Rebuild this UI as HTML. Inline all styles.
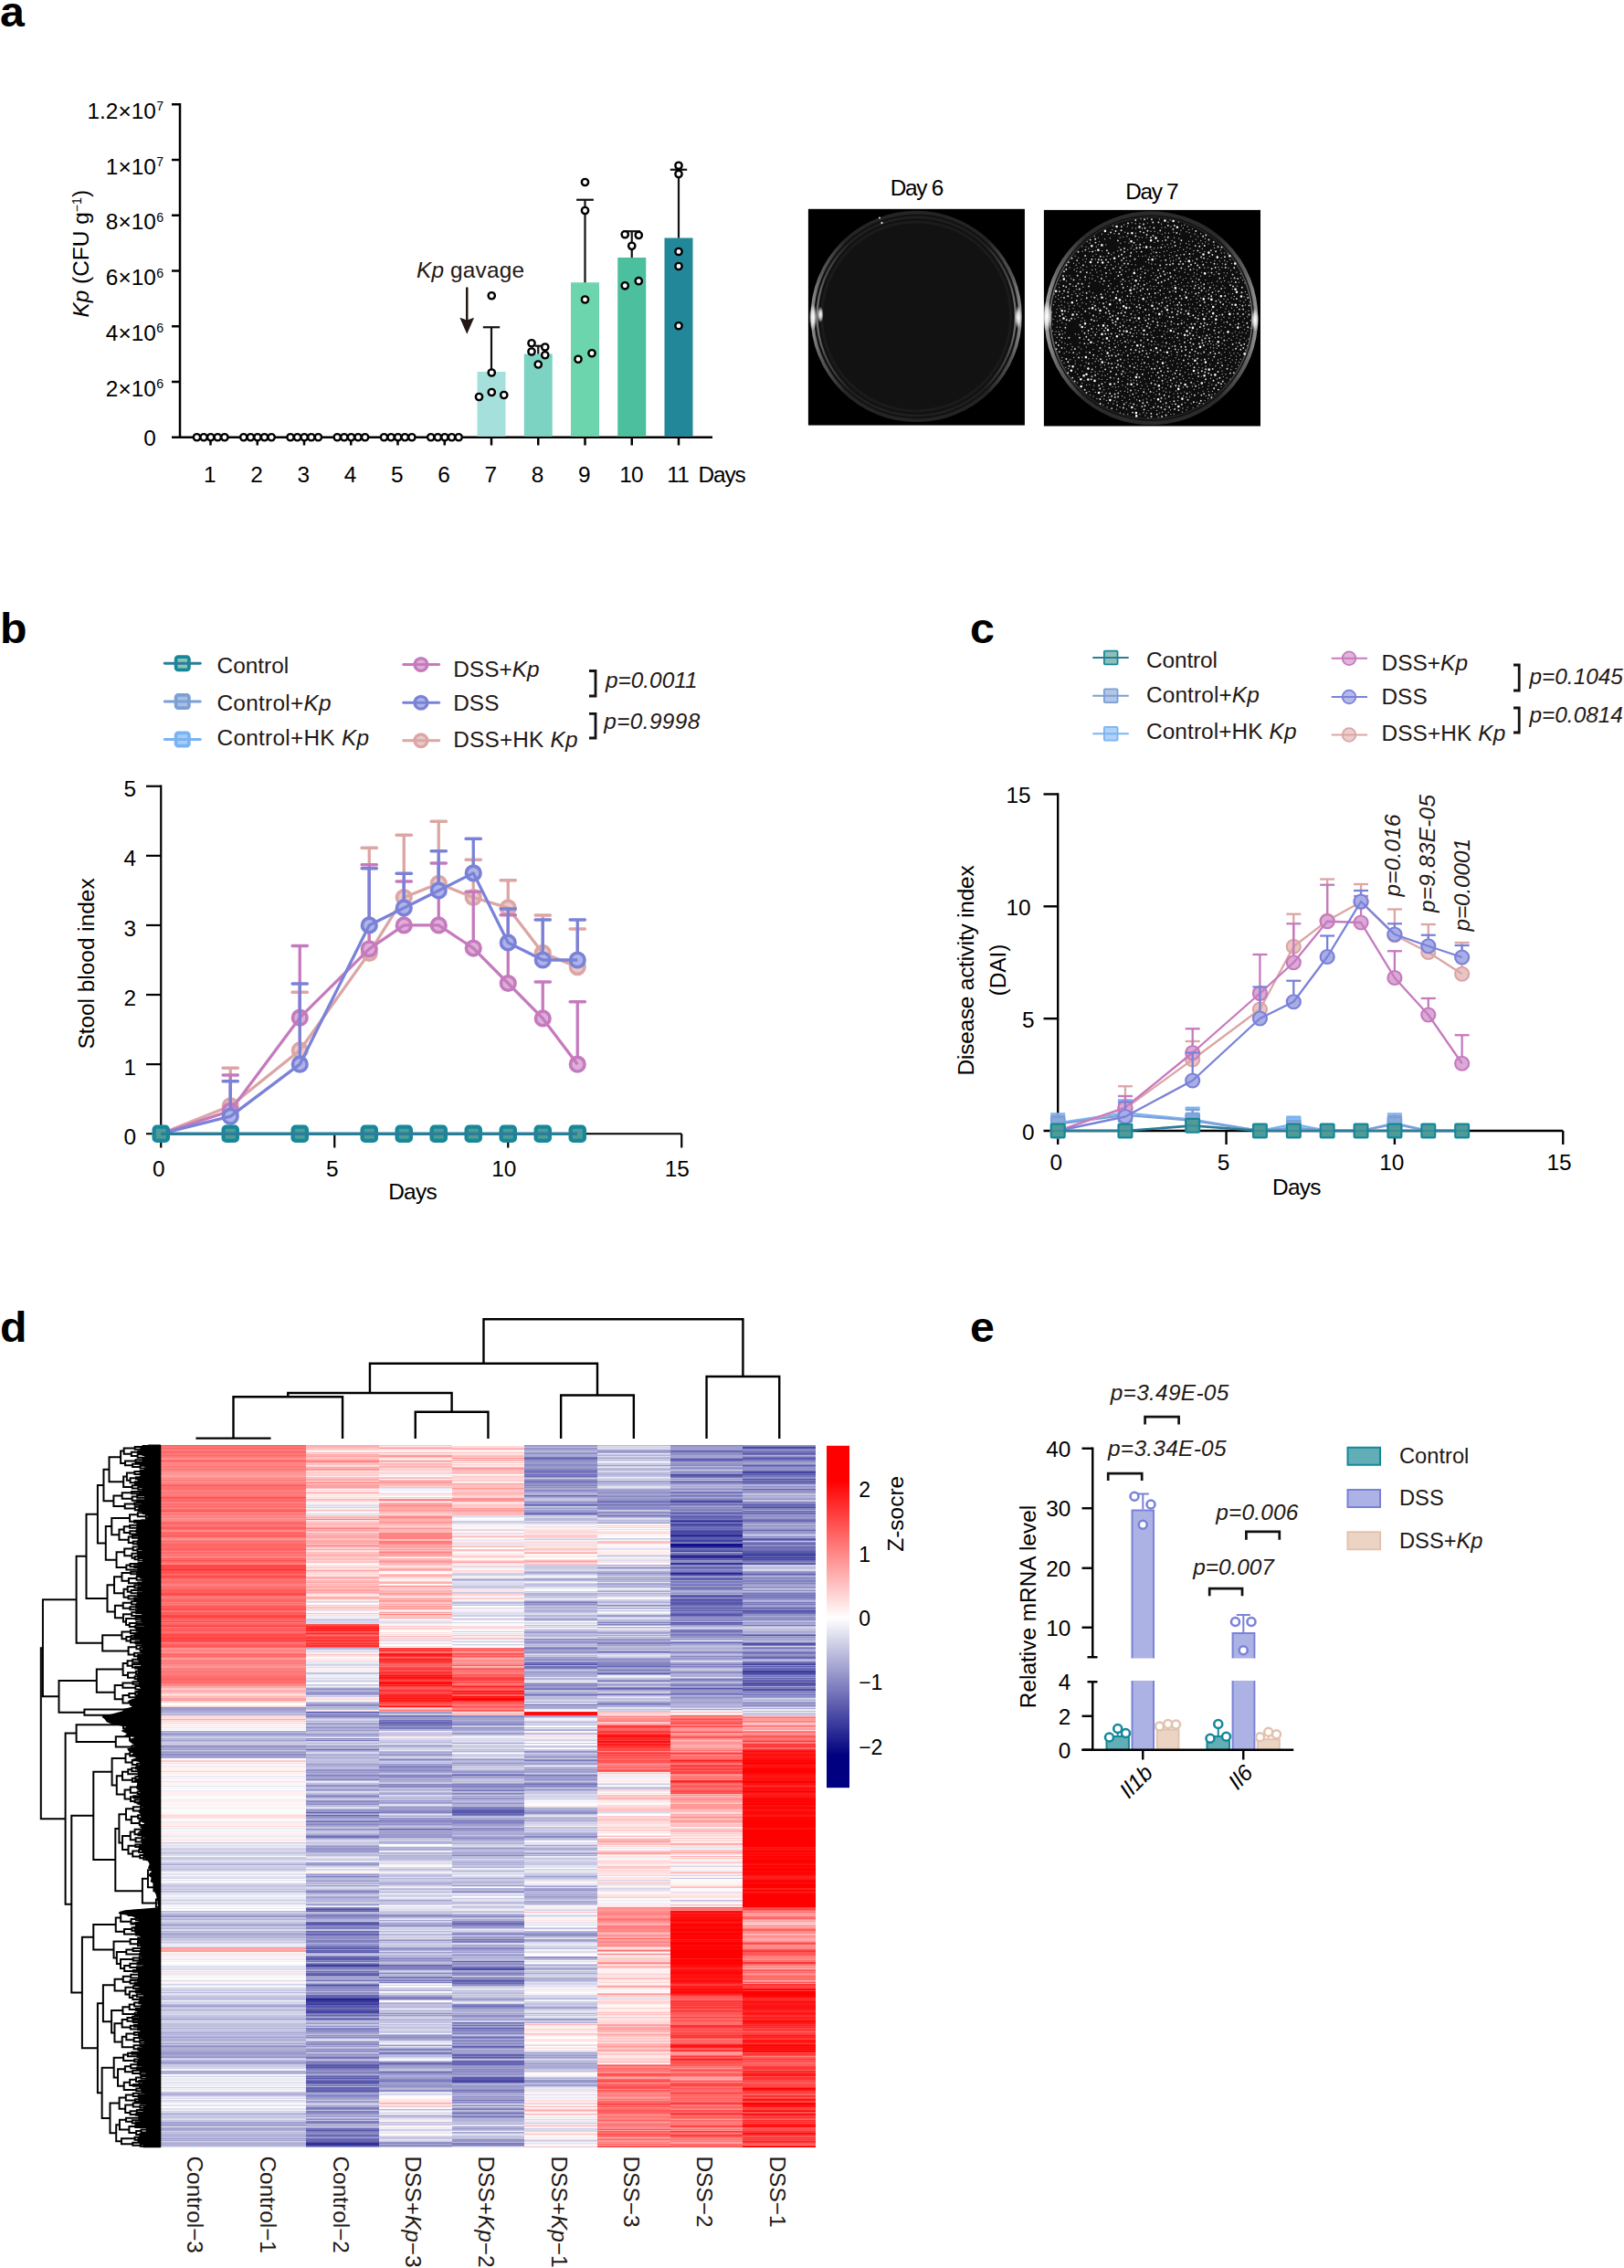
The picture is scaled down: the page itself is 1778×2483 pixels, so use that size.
<!DOCTYPE html>
<html lang="en"><head><meta charset="utf-8"><title>Figure</title><style>html,body{margin:0;padding:0;background:#fff}svg{display:block}</style></head><body>
<svg width="1778" height="2483" viewBox="0 0 1778 2483" font-family="'Liberation Sans', Arial, Helvetica, sans-serif" font-size="24.4" fill="#000">
<rect width="1778" height="2483" fill="#fff"/>
<g id="pa">
<text transform="translate(0 28.5) scale(1.05 1)" font-size="46" font-weight="bold">a</text>
<line x1="197" y1="113" x2="197" y2="480" stroke="#000" stroke-width="2.5"/>
<line x1="188" y1="478.75" x2="780" y2="478.75" stroke="#000" stroke-width="2.5"/>
<text x="170.8" y="488" text-anchor="end">0</text>
<line x1="188" y1="418" x2="197" y2="418" stroke="#000" stroke-width="2.5"/>
<text x="170.8" y="433.6" text-anchor="end">2×10</text>
<text x="171.3" y="425.2" font-size="14.2">6</text>
<line x1="188" y1="357.25" x2="197" y2="357.25" stroke="#000" stroke-width="2.5"/>
<text x="170.8" y="372.85" text-anchor="end">4×10</text>
<text x="171.3" y="364.45" font-size="14.2">6</text>
<line x1="188" y1="296.5" x2="197" y2="296.5" stroke="#000" stroke-width="2.5"/>
<text x="170.8" y="312.1" text-anchor="end">6×10</text>
<text x="171.3" y="303.7" font-size="14.2">6</text>
<line x1="188" y1="235.75" x2="197" y2="235.75" stroke="#000" stroke-width="2.5"/>
<text x="170.8" y="251.35" text-anchor="end">8×10</text>
<text x="171.3" y="242.95" font-size="14.2">6</text>
<line x1="188" y1="175" x2="197" y2="175" stroke="#000" stroke-width="2.5"/>
<text x="170.8" y="190.6" text-anchor="end">1×10</text>
<text x="171.3" y="182.2" font-size="14.2">7</text>
<line x1="188" y1="114.25" x2="197" y2="114.25" stroke="#000" stroke-width="2.5"/>
<text x="170.8" y="129.85" text-anchor="end">1.2×10</text>
<text x="171.3" y="121.45" font-size="14.2">7</text>
<text transform="translate(96.9 347.5) rotate(-90)"><tspan font-style="italic">Kp</tspan> (CFU g<tspan font-size="14.2" dy="-8.4">−1</tspan><tspan dy="8.4">)</tspan></text>
<line x1="230.5" y1="478.75" x2="230.5" y2="487.5" stroke="#000" stroke-width="2.5"/>
<text x="229.7" y="527.5" text-anchor="middle">1</text>
<line x1="281.75" y1="478.75" x2="281.75" y2="487.5" stroke="#000" stroke-width="2.5"/>
<text x="280.95" y="527.5" text-anchor="middle">2</text>
<line x1="333" y1="478.75" x2="333" y2="487.5" stroke="#000" stroke-width="2.5"/>
<text x="332.2" y="527.5" text-anchor="middle">3</text>
<line x1="384.25" y1="478.75" x2="384.25" y2="487.5" stroke="#000" stroke-width="2.5"/>
<text x="383.45" y="527.5" text-anchor="middle">4</text>
<line x1="435.5" y1="478.75" x2="435.5" y2="487.5" stroke="#000" stroke-width="2.5"/>
<text x="434.7" y="527.5" text-anchor="middle">5</text>
<line x1="486.75" y1="478.75" x2="486.75" y2="487.5" stroke="#000" stroke-width="2.5"/>
<text x="485.95" y="527.5" text-anchor="middle">6</text>
<line x1="538" y1="478.75" x2="538" y2="487.5" stroke="#000" stroke-width="2.5"/>
<text x="537.2" y="527.5" text-anchor="middle">7</text>
<line x1="589.25" y1="478.75" x2="589.25" y2="487.5" stroke="#000" stroke-width="2.5"/>
<text x="588.45" y="527.5" text-anchor="middle">8</text>
<line x1="640.5" y1="478.75" x2="640.5" y2="487.5" stroke="#000" stroke-width="2.5"/>
<text x="639.7" y="527.5" text-anchor="middle">9</text>
<line x1="691.75" y1="478.75" x2="691.75" y2="487.5" stroke="#000" stroke-width="2.5"/>
<text x="690.95" y="527.5" text-anchor="middle" letter-spacing="-0.8">10</text>
<line x1="743" y1="478.75" x2="743" y2="487.5" stroke="#000" stroke-width="2.5"/>
<text x="742.2" y="527.5" text-anchor="middle" letter-spacing="-0.8">11</text>
<text x="764.6" y="527.5" textLength="52" lengthAdjust="spacing">Days</text>
<rect x="522.5" y="407" width="31" height="70.8" fill="#a5e0dc"/>
<rect x="573.75" y="387.5" width="31" height="90.3" fill="#7dd3c2"/>
<rect x="625" y="309.25" width="31" height="168.55" fill="#6dd5ad"/>
<rect x="676.25" y="282" width="31" height="195.8" fill="#4cbf9f"/>
<rect x="727.5" y="260.5" width="31" height="217.3" fill="#218799"/>
<line x1="538" y1="358.25" x2="538" y2="407" stroke="#111" stroke-width="2.2"/>
<line x1="528.8" y1="358.25" x2="547.2" y2="358.25" stroke="#111" stroke-width="2.2"/>
<line x1="589.25" y1="378.75" x2="589.25" y2="387.5" stroke="#111" stroke-width="2.2"/>
<line x1="585.95" y1="378.75" x2="592.55" y2="378.75" stroke="#111" stroke-width="2.2"/>
<line x1="640.5" y1="218.75" x2="640.5" y2="309.25" stroke="#111" stroke-width="2.2"/>
<line x1="631.1" y1="218.75" x2="649.9" y2="218.75" stroke="#111" stroke-width="2.2"/>
<line x1="691.75" y1="253.2" x2="691.75" y2="282" stroke="#111" stroke-width="2.2"/>
<line x1="682.35" y1="253.2" x2="701.15" y2="253.2" stroke="#111" stroke-width="2.2"/>
<line x1="743" y1="185.75" x2="743" y2="260.5" stroke="#111" stroke-width="2.2"/>
<line x1="733.8" y1="185.75" x2="752.2" y2="185.75" stroke="#111" stroke-width="2.2"/>
<circle cx="215.5" cy="478.75" r="3.65" fill="#fff" stroke="#000" stroke-width="2.4"/>
<circle cx="223.1" cy="478.75" r="3.65" fill="#fff" stroke="#000" stroke-width="2.4"/>
<circle cx="230.7" cy="478.75" r="3.65" fill="#fff" stroke="#000" stroke-width="2.4"/>
<circle cx="238.3" cy="478.75" r="3.65" fill="#fff" stroke="#000" stroke-width="2.4"/>
<circle cx="245.9" cy="478.75" r="3.65" fill="#fff" stroke="#000" stroke-width="2.4"/>
<circle cx="266.75" cy="478.75" r="3.65" fill="#fff" stroke="#000" stroke-width="2.4"/>
<circle cx="274.35" cy="478.75" r="3.65" fill="#fff" stroke="#000" stroke-width="2.4"/>
<circle cx="281.95" cy="478.75" r="3.65" fill="#fff" stroke="#000" stroke-width="2.4"/>
<circle cx="289.55" cy="478.75" r="3.65" fill="#fff" stroke="#000" stroke-width="2.4"/>
<circle cx="297.15" cy="478.75" r="3.65" fill="#fff" stroke="#000" stroke-width="2.4"/>
<circle cx="318" cy="478.75" r="3.65" fill="#fff" stroke="#000" stroke-width="2.4"/>
<circle cx="325.6" cy="478.75" r="3.65" fill="#fff" stroke="#000" stroke-width="2.4"/>
<circle cx="333.2" cy="478.75" r="3.65" fill="#fff" stroke="#000" stroke-width="2.4"/>
<circle cx="340.8" cy="478.75" r="3.65" fill="#fff" stroke="#000" stroke-width="2.4"/>
<circle cx="348.4" cy="478.75" r="3.65" fill="#fff" stroke="#000" stroke-width="2.4"/>
<circle cx="369.25" cy="478.75" r="3.65" fill="#fff" stroke="#000" stroke-width="2.4"/>
<circle cx="376.85" cy="478.75" r="3.65" fill="#fff" stroke="#000" stroke-width="2.4"/>
<circle cx="384.45" cy="478.75" r="3.65" fill="#fff" stroke="#000" stroke-width="2.4"/>
<circle cx="392.05" cy="478.75" r="3.65" fill="#fff" stroke="#000" stroke-width="2.4"/>
<circle cx="399.65" cy="478.75" r="3.65" fill="#fff" stroke="#000" stroke-width="2.4"/>
<circle cx="420.5" cy="478.75" r="3.65" fill="#fff" stroke="#000" stroke-width="2.4"/>
<circle cx="428.1" cy="478.75" r="3.65" fill="#fff" stroke="#000" stroke-width="2.4"/>
<circle cx="435.7" cy="478.75" r="3.65" fill="#fff" stroke="#000" stroke-width="2.4"/>
<circle cx="443.3" cy="478.75" r="3.65" fill="#fff" stroke="#000" stroke-width="2.4"/>
<circle cx="450.9" cy="478.75" r="3.65" fill="#fff" stroke="#000" stroke-width="2.4"/>
<circle cx="471.75" cy="478.75" r="3.65" fill="#fff" stroke="#000" stroke-width="2.4"/>
<circle cx="479.35" cy="478.75" r="3.65" fill="#fff" stroke="#000" stroke-width="2.4"/>
<circle cx="486.95" cy="478.75" r="3.65" fill="#fff" stroke="#000" stroke-width="2.4"/>
<circle cx="494.55" cy="478.75" r="3.65" fill="#fff" stroke="#000" stroke-width="2.4"/>
<circle cx="502.15" cy="478.75" r="3.65" fill="#fff" stroke="#000" stroke-width="2.4"/>
<circle cx="538.25" cy="323.75" r="3.65" fill="#fff" stroke="#000" stroke-width="2.4"/>
<circle cx="538.25" cy="408" r="3.65" fill="#fff" stroke="#000" stroke-width="2.4"/>
<circle cx="524.5" cy="434.5" r="3.65" fill="#fff" stroke="#000" stroke-width="2.4"/>
<circle cx="538.25" cy="429.5" r="3.65" fill="#fff" stroke="#000" stroke-width="2.4"/>
<circle cx="551.75" cy="432.5" r="3.65" fill="#fff" stroke="#000" stroke-width="2.4"/>
<circle cx="582" cy="375.75" r="3.65" fill="#fff" stroke="#000" stroke-width="2.4"/>
<circle cx="596.75" cy="380" r="3.65" fill="#fff" stroke="#000" stroke-width="2.4"/>
<circle cx="582" cy="385" r="3.65" fill="#fff" stroke="#000" stroke-width="2.4"/>
<circle cx="596.75" cy="388.75" r="3.65" fill="#fff" stroke="#000" stroke-width="2.4"/>
<circle cx="589.25" cy="399" r="3.65" fill="#fff" stroke="#000" stroke-width="2.4"/>
<circle cx="640.5" cy="199.5" r="3.65" fill="#fff" stroke="#000" stroke-width="2.4"/>
<circle cx="640.5" cy="230.5" r="3.65" fill="#fff" stroke="#000" stroke-width="2.4"/>
<circle cx="640.5" cy="328" r="3.65" fill="#fff" stroke="#000" stroke-width="2.4"/>
<circle cx="633" cy="393.25" r="3.65" fill="#fff" stroke="#000" stroke-width="2.4"/>
<circle cx="648" cy="386.75" r="3.65" fill="#fff" stroke="#000" stroke-width="2.4"/>
<circle cx="684.25" cy="256.75" r="3.65" fill="#fff" stroke="#000" stroke-width="2.4"/>
<circle cx="699.25" cy="257.5" r="3.65" fill="#fff" stroke="#000" stroke-width="2.4"/>
<circle cx="691.75" cy="269.3" r="3.65" fill="#fff" stroke="#000" stroke-width="2.4"/>
<circle cx="684.25" cy="312.8" r="3.65" fill="#fff" stroke="#000" stroke-width="2.4"/>
<circle cx="699.25" cy="307.7" r="3.65" fill="#fff" stroke="#000" stroke-width="2.4"/>
<circle cx="743" cy="181.25" r="3.65" fill="#fff" stroke="#000" stroke-width="2.4"/>
<circle cx="743" cy="190.5" r="3.65" fill="#fff" stroke="#000" stroke-width="2.4"/>
<circle cx="743" cy="275.5" r="3.65" fill="#fff" stroke="#000" stroke-width="2.4"/>
<circle cx="743" cy="291.5" r="3.65" fill="#fff" stroke="#000" stroke-width="2.4"/>
<circle cx="743" cy="356.75" r="3.65" fill="#fff" stroke="#000" stroke-width="2.4"/>
<text x="456" y="303.75" fill="#231815" textLength="118" lengthAdjust="spacing"><tspan font-style="italic">Kp</tspan> gavage</text>
<line x1="511.25" y1="314.5" x2="511.25" y2="352" stroke="#231815" stroke-width="2.5"/>
<path d="M503.4 347.8 L511.25 350.5 L519.1 347.8 L511.25 365.8z" fill="#231815"/>
<text x="1004" y="213.9" text-anchor="middle" textLength="58.5" lengthAdjust="spacing">Day 6</text>
<text x="1261.4" y="217.9" text-anchor="middle" textLength="58.5" lengthAdjust="spacing">Day 7</text>
<defs><radialGradient id="hl" cx="0.5" cy="0.5" r="0.5"><stop offset="0" stop-color="#fff" stop-opacity="1"/><stop offset="0.45" stop-color="#fff" stop-opacity="0.75"/><stop offset="1" stop-color="#fff" stop-opacity="0"/></radialGradient><linearGradient id="rim1" x1="0" y1="0" x2="1" y2="0"><stop offset="0" stop-color="#8a8a8a"/><stop offset="0.04" stop-color="#5a5a5a"/><stop offset="0.16" stop-color="#252525"/><stop offset="0.84" stop-color="#232323"/><stop offset="0.96" stop-color="#555"/><stop offset="1" stop-color="#888"/></linearGradient><linearGradient id="rim2" x1="0" y1="0" x2="1" y2="0"><stop offset="0" stop-color="#9a9a9a"/><stop offset="0.05" stop-color="#666"/><stop offset="0.18" stop-color="#2c2c2c"/><stop offset="0.82" stop-color="#2a2a2a"/><stop offset="0.95" stop-color="#606060"/><stop offset="1" stop-color="#909090"/></linearGradient><clipPath id="cl1"><rect x="884.9" y="228.8" width="237" height="236.8"/></clipPath><clipPath id="cl2"><rect x="1142.9" y="229.9" width="237.1" height="236.6"/></clipPath></defs>
<rect x="884.9" y="228.8" width="237" height="236.8" fill="#000"/>
<g clip-path="url(#cl1)">
<circle cx="1003.2" cy="346.4" r="113.8" fill="#121212" stroke="url(#rim1)" stroke-width="3.6"/>
<circle cx="1003.2" cy="346.4" r="108.6" fill="none" stroke="url(#rim1)" stroke-width="2.2" opacity="0.8"/>
<circle cx="1003.2" cy="346.4" r="103.5" fill="none" stroke="#1b1b1b" stroke-width="3"/>
<ellipse cx="890.2" cy="347.4" rx="4.5" ry="15" fill="url(#hl)"/>
<ellipse cx="898.2" cy="344.4" rx="3.5" ry="9" fill="url(#hl)"/>
<ellipse cx="1114.7" cy="347.4" rx="4" ry="13" fill="url(#hl)"/>
<circle cx="963" cy="238.5" r="1.1" fill="#ddd"/>
<circle cx="965.5" cy="244" r="1.2" fill="#ccc"/>
</g>
<rect x="1142.9" y="229.9" width="237.1" height="236.6" fill="#000"/>
<g clip-path="url(#cl2)">
<circle cx="1260.4" cy="348.2" r="114.8" fill="#0e0e0e" stroke="url(#rim2)" stroke-width="4.2"/>
<circle cx="1260.4" cy="348.2" r="110.6" fill="none" stroke="url(#rim2)" stroke-width="1.6" opacity="0.7"/>
<ellipse cx="1146.4" cy="346.2" rx="6" ry="17" fill="url(#hl)"/>
<ellipse cx="1373.9" cy="350.2" rx="4.5" ry="13" fill="url(#hl)"/>
<path d="M1241.4 386.2h0M1195.9 333.4h0M1330.5 365.0h0M1171.8 393.7h0M1250.2 388.5h0M1204.0 406.4h0M1285.1 435.1h0M1285.6 260.2h0M1234.8 453.5h0M1262.3 305.6h0M1303.9 305.0h0M1331.3 322.5h0M1334.1 358.7h0M1349.9 382.9h0M1181.3 412.9h0M1298.3 304.6h0M1340.4 276.9h0M1266.4 400.8h0M1259.8 355.2h0M1280.7 282.7h0M1242.2 327.8h0M1293.8 402.6h0M1280.7 376.6h0M1320.8 287.3h0M1335.1 345.0h0M1219.1 340.8h0M1241.8 295.4h0M1257.1 296.2h0M1278.4 351.5h0M1367.1 340.2h0M1279.5 255.3h0M1253.3 303.6h0M1348.5 337.2h0M1273.7 401.5h0M1212.7 319.4h0M1315.4 313.3h0M1180.5 347.4h0M1295.7 414.8h0M1324.8 398.9h0M1322.6 310.1h0M1169.5 341.2h0M1336.3 273.8h0M1354.4 313.2h0M1232.8 358.7h0M1312.8 424.7h0M1282.2 310.0h0M1341.3 358.2h0M1218.0 423.6h0M1332.7 308.0h0M1345.4 380.3h0M1341.2 315.3h0M1263.0 384.3h0M1241.2 423.2h0M1338.2 409.6h0M1214.7 295.7h0M1280.4 369.4h0M1232.6 297.2h0M1218.3 359.2h0M1365.3 322.5h0M1319.9 335.2h0M1204.9 399.3h0M1252.7 348.0h0M1242.4 361.4h0M1250.4 250.0h0M1299.6 356.0h0M1346.4 386.1h0M1336.5 336.5h0M1241.4 324.4h0M1257.8 287.8h0M1294.4 451.0h0M1280.8 429.2h0M1272.5 451.2h0M1337.2 349.9h0M1355.3 349.2h0M1252.7 426.1h0M1312.8 402.2h0M1234.7 425.8h0M1272.1 379.0h0M1260.2 277.8h0M1214.8 392.7h0M1293.5 309.6h0M1319.8 264.9h0M1234.3 247.9h0M1248.8 313.4h0M1251.4 341.6h0M1243.3 289.9h0M1306.9 324.6h0M1222.9 440.0h0M1213.0 349.5h0M1206.3 256.3h0M1285.3 453.4h0M1259.9 328.6h0M1337.0 423.6h0M1303.6 258.8h0M1283.6 410.1h0M1363.4 319.5h0M1272.6 263.7h0M1197.8 422.1h0M1261.4 293.8h0M1277.5 399.9h0M1322.6 292.8h0M1198.2 258.7h0M1317.8 363.1h0M1189.6 421.5h0M1278.9 243.3h0M1223.1 313.2h0M1231.8 307.9h0M1239.9 305.8h0M1283.2 270.4h0M1196.1 397.9h0M1307.5 426.4h0M1222.6 448.2h0M1315.5 298.3h0M1333.6 394.0h0M1281.3 394.9h0M1357.8 372.0h0M1177.9 321.4h0M1274.3 275.4h0M1291.1 372.7h0M1341.9 394.5h0M1319.8 374.2h0M1308.5 409.1h0M1320.2 401.0h0M1346.8 414.9h0M1228.8 295.8h0M1311.2 417.5h0M1265.9 349.0h0M1228.1 388.7h0M1285.0 431.1h0M1310.2 327.2h0M1200.5 323.5h0M1337.2 370.0h0M1159.6 314.8h0M1281.5 448.7h0M1352.7 397.3h0M1343.1 413.8h0M1229.7 259.4h0M1220.6 305.0h0M1262.7 298.7h0M1207.9 423.6h0M1162.8 353.4h0M1249.7 397.8h0M1348.8 401.4h0M1251.8 451.8h0M1299.9 312.9h0M1210.9 267.9h0M1160.3 372.6h0M1231.2 435.3h0M1290.7 393.5h0M1289.4 430.7h0M1226.9 428.3h0M1296.6 429.1h0M1152.5 355.1h0M1311.8 430.2h0M1244.4 368.7h0M1292.3 267.0h0M1253.1 415.0h0M1249.8 401.4h0M1181.7 386.2h0M1303.0 272.2h0M1345.0 321.7h0M1293.4 389.6h0M1320.2 433.4h0M1165.1 386.9h0M1264.5 388.9h0M1360.7 352.4h0M1209.5 261.7h0M1207.9 443.1h0M1278.0 418.2h0M1196.5 392.4h0M1230.4 402.1h0M1239.2 302.4h0M1263.2 313.4h0M1192.9 421.1h0M1257.4 408.3h0M1338.1 376.0h0M1248.1 352.5h0M1360.6 306.8h0M1330.8 400.8h0M1265.0 441.9h0M1350.8 327.6h0M1202.6 267.9h0M1233.7 350.5h0M1203.0 414.8h0M1278.2 267.7h0M1299.0 253.8h0M1289.5 438.5h0M1189.8 292.1h0M1257.6 443.1h0M1344.2 399.7h0M1185.5 337.9h0M1276.9 391.7h0M1196.5 320.8h0M1365.5 378.4h0M1207.7 311.3h0M1367.0 371.0h0M1305.4 250.6h0M1338.3 381.4h0M1311.9 345.5h0M1258.7 386.7h0M1352.8 355.5h0M1329.5 271.5h0M1265.0 373.9h0M1323.2 428.8h0M1237.7 386.9h0M1278.7 421.6h0M1365.7 346.9h0M1281.3 332.3h0M1276.8 429.3h0M1272.2 256.6h0M1291.9 270.8h0M1159.2 363.2h0M1202.1 409.3h0M1355.2 386.6h0M1180.9 341.5h0M1311.1 337.7h0M1260.1 447.2h0M1245.2 302.3h0M1341.9 409.7h0M1315.3 412.1h0M1271.1 285.4h0M1216.0 299.3h0M1189.4 380.0h0M1251.5 437.9h0M1337.1 308.7h0M1162.8 391.4h0M1203.9 343.3h0M1283.4 379.2h0M1200.5 360.0h0M1192.8 342.9h0M1199.3 429.4h0M1233.3 440.5h0M1310.5 295.7h0M1173.1 382.8h0M1351.4 324.4h0M1265.4 343.0h0M1153.0 349.6h0M1281.9 248.2h0M1305.7 285.5h0M1154.2 322.0h0M1233.3 285.4h0M1197.1 434.0h0M1314.9 387.2h0M1314.6 302.3h0M1228.6 433.5h0M1306.3 278.0h0M1185.8 284.1h0M1233.0 384.0h0M1329.2 300.7h0M1263.4 416.5h0M1262.3 393.8h0M1208.2 346.6h0M1316.6 402.9h0M1269.7 280.9h0M1234.9 411.6h0M1297.2 298.2h0M1252.2 375.1h0M1325.5 414.2h0M1349.1 364.9h0M1184.6 394.6h0M1297.5 294.9h0M1241.8 333.3h0M1260.3 316.1h0M1258.9 248.5h0M1231.6 254.2h0M1346.2 331.5h0M1236.5 261.8h0M1278.5 315.9h0M1307.7 388.9h0M1342.0 338.0h0M1275.7 249.0h0M1232.0 408.3h0M1286.6 301.5h0M1348.5 288.5h0M1293.3 398.3h0M1278.9 359.9h0M1241.9 435.3h0M1297.0 323.0h0M1344.1 327.7h0M1179.6 332.8h0M1304.1 441.8h0M1211.3 330.8h0M1176.7 341.2h0M1325.4 380.5h0M1310.2 367.1h0M1291.3 315.6h0M1256.4 325.7h0M1340.7 307.5h0M1165.7 381.1h0M1296.5 353.0h0M1272.6 344.1h0M1237.3 328.8h0M1292.2 405.8h0M1210.8 390.4h0M1252.3 404.9h0M1228.6 438.4h0M1212.1 445.8h0M1245.8 390.8h0M1233.6 332.7h0M1157.1 358.3h0M1343.5 372.6h0M1215.1 316.2h0M1340.9 377.8h0M1189.2 385.5h0M1297.5 333.8h0M1273.4 442.6h0M1177.4 407.1h0M1254.8 420.1h0M1320.1 346.3h0M1218.8 442.0h0M1316.7 423.6h0M1329.9 285.5h0M1257.8 376.8h0M1191.9 392.8h0M1226.9 266.3h0M1246.5 280.4h0M1257.9 433.7h0M1239.0 289.6h0M1233.0 292.4h0M1331.9 313.1h0M1340.6 285.2h0M1309.3 262.1h0M1207.4 406.8h0M1224.1 405.3h0M1244.5 364.8h0M1299.1 448.9h0M1263.0 280.8h0M1337.9 292.8h0M1286.5 367.6h0M1302.1 254.8h0M1257.2 449.6h0M1292.9 252.2h0M1229.0 421.7h0M1236.6 437.4h0M1327.8 373.8h0M1279.5 325.9h0M1255.4 452.3h0M1291.0 297.3h0M1317.0 428.1h0M1273.9 428.0h0M1228.9 340.0h0M1201.0 436.5h0M1327.5 394.2h0M1240.9 353.0h0M1315.8 398.6h0M1219.8 376.3h0M1233.5 448.0h0M1253.7 321.7h0M1297.8 400.5h0M1357.8 346.5h0M1340.9 419.9h0M1262.4 341.1h0M1201.8 302.9h0M1180.7 282.1h0M1297.5 440.9h0M1165.9 375.9h0M1332.8 289.1h0M1265.0 289.3h0M1289.6 401.9h0M1179.5 419.0h0M1202.6 337.4h0M1255.1 402.0h0M1313.9 276.5h0M1235.9 266.1h0M1181.2 288.1h0M1281.5 286.0h0M1232.3 318.6h0M1337.0 362.0h0M1196.6 280.3h0M1328.6 381.0h0M1245.2 262.6h0M1252.5 369.8h0M1285.4 374.3h0M1332.2 339.4h0M1310.9 352.3h0M1234.3 371.9h0M1200.1 278.6h0M1187.7 400.9h0M1206.6 274.7h0M1268.2 456.7h0M1357.4 333.6h0M1179.3 293.4h0M1203.7 331.6h0M1293.3 365.0h0M1245.5 295.2h0M1335.5 285.9h0M1288.4 293.6h0M1185.8 295.5h0M1272.5 353.6h0M1275.6 379.3h0M1194.8 407.5h0M1323.1 422.5h0M1284.6 394.9h0M1239.9 393.4h0M1265.3 358.5h0M1349.2 316.6h0M1175.5 288.2h0M1310.5 331.4h0M1206.9 383.6h0M1345.7 348.3h0M1174.9 313.2h0M1271.9 357.0h0M1215.7 283.8h0M1346.8 284.4h0M1258.5 401.4h0M1349.9 358.1h0M1307.8 338.0h0M1251.7 291.7h0M1302.8 429.1h0M1301.9 340.3h0M1230.2 412.2h0M1290.2 358.9h0M1300.2 445.9h0M1223.0 332.0h0M1165.6 330.6h0M1235.1 303.2h0M1269.8 276.4h0M1237.7 441.4h0M1282.6 388.1h0M1154.9 366.4h0M1187.0 416.6h0M1231.0 394.3h0M1356.8 364.1h0M1325.7 287.2h0M1240.3 407.7h0M1327.0 432.1h0M1192.4 428.6h0M1283.9 280.9h0M1248.8 418.2h0M1211.1 430.4h0M1297.5 407.7h0M1287.3 391.7h0M1287.5 428.0h0M1201.7 389.9h0M1281.8 266.9h0M1266.0 331.2h0M1211.9 290.2h0M1285.6 354.3h0M1197.7 375.6h0M1368.2 330.8h0M1291.6 256.3h0M1214.3 307.4h0M1266.3 313.6h0M1323.3 392.5h0M1362.9 309.9h0M1194.7 325.0h0M1184.8 362.5h0M1170.3 316.4h0M1199.6 401.8h0M1228.7 290.6h0M1350.5 343.7h0M1296.5 343.9h0M1302.0 413.8h0M1275.9 436.5h0M1155.2 346.2h0M1213.4 441.5h0M1234.5 313.5h0M1347.7 404.7h0M1218.6 247.4h0M1233.3 281.6h0M1272.0 313.3h0M1216.0 328.7h0M1236.2 307.7h0M1278.0 298.8h0M1319.9 306.6h0M1259.9 363.8h0M1327.0 352.8h0M1304.9 319.7h0M1208.1 281.3h0M1274.5 407.6h0M1266.5 449.4h0M1152.5 362.4h0M1323.0 388.4h0M1298.4 416.6h0M1220.7 397.6h0M1235.2 375.3h0M1348.1 326.0h0M1311.1 405.0h0M1273.1 419.9h0M1357.9 329.5h0M1167.6 384.9h0M1287.3 360.1h0M1306.9 302.2h0M1250.5 259.9h0M1246.2 434.3h0M1215.4 324.0h0M1228.2 375.5h0M1288.2 418.4h0M1267.1 368.6h0M1277.3 330.3h0M1281.1 240.9h0M1272.0 249.1h0M1216.9 278.8h0M1262.9 429.9h0M1251.5 334.6h0M1352.4 362.9h0M1199.2 395.7h0M1222.0 427.4h0M1253.4 390.4h0M1356.5 309.1h0M1357.5 388.8h0M1257.2 333.3h0M1273.1 328.1h0M1243.9 430.3h0M1255.1 260.1h0M1250.9 355.6h0M1361.7 356.3h0M1192.8 309.9h0M1305.9 414.6h0M1320.4 319.0h0M1293.8 350.7h0M1205.9 402.3h0M1308.1 256.2h0M1230.6 245.9h0M1238.1 271.8h0M1300.6 393.2h0M1322.1 425.9h0M1362.4 348.8h0M1220.0 255.8h0M1244.9 404.3h0M1353.9 298.0h0M1360.0 364.0h0M1332.0 381.3h0M1192.6 304.6h0M1221.5 291.7h0M1354.0 370.1h0M1266.3 428.1h0M1295.6 433.5h0M1291.6 376.7h0M1338.0 406.3h0M1163.3 365.7h0M1233.8 258.7h0M1183.7 351.6h0M1210.9 375.4h0M1263.5 362.0h0M1296.8 246.2h0M1264.0 265.4h0M1197.0 382.4h0M1314.7 326.3h0M1282.1 276.4h0M1244.3 275.8h0M1338.8 312.9h0M1255.7 310.3h0M1249.3 365.0h0M1324.2 302.3h0M1244.9 443.8h0M1274.5 385.4h0M1185.0 406.6h0M1309.7 304.9h0M1213.8 425.6h0M1257.3 398.5h0M1235.1 396.6h0M1277.9 363.3h0M1236.2 295.3h0M1199.4 283.7h0M1179.8 403.9h0M1226.7 331.7h0M1237.1 285.7h0M1289.7 274.2h0M1283.0 337.7h0M1246.5 329.5h0M1274.2 321.5h0M1314.7 255.7h0M1203.3 361.4h0M1176.2 295.2h0M1155.8 324.9h0M1313.5 329.5h0M1258.5 414.5h0M1286.1 334.1h0M1363.9 328.3h0M1271.3 334.9h0M1288.3 412.7h0M1268.0 377.2h0M1218.5 370.1h0M1289.6 348.5h0M1206.4 415.4h0M1342.1 301.9h0M1363.5 333.9h0M1284.1 318.5h0M1165.3 336.1h0M1189.1 270.1h0M1233.8 346.6h0M1255.1 431.0h0M1242.8 344.9h0M1265.5 432.1h0M1247.7 381.4h0M1317.5 337.4h0M1300.3 349.5h0M1258.3 281.3h0M1304.7 409.8h0M1322.4 376.8h0M1256.3 244.1h0M1193.5 432.4h0M1167.6 307.7h0M1295.4 424.0h0M1257.5 426.3h0M1267.7 271.2h0M1330.9 318.6h0M1200.3 270.3h0M1257.7 339.1h0M1229.2 349.8h0M1185.0 331.5h0M1262.9 276.0h0M1238.1 416.7h0M1196.0 290.9h0M1284.7 304.4h0M1162.4 333.9h0M1199.0 407.0h0M1247.2 342.5h0M1334.3 328.2h0M1298.9 283.2h0M1323.7 419.1h0M1197.7 330.8h0M1298.9 434.8h0M1290.2 311.4h0M1270.5 322.8h0M1211.1 302.7h0M1364.5 373.1h0M1310.3 440.5h0M1183.1 400.0h0M1245.1 315.2h0M1349.2 394.1h0M1253.9 455.0h0M1275.3 259.6h0M1250.4 433.0h0M1248.9 404.4h0M1279.2 451.3h0M1324.2 280.7h0M1188.2 306.5h0M1230.2 453.3h0M1214.3 377.1h0M1260.2 301.8h0M1303.3 400.4h0M1339.7 364.8h0M1239.5 378.5h0M1247.1 259.8h0M1203.8 291.6h0M1271.1 388.6h0M1326.8 420.9h0M1182.1 335.3h0M1304.8 362.0h0M1248.8 300.7h0M1333.9 292.4h0M1222.6 336.2h0M1306.2 446.5h0M1209.5 353.6h0M1252.6 265.5h0M1223.5 359.8h0M1207.9 371.2h0M1179.7 409.6h0M1340.8 385.6h0M1160.6 358.3h0M1166.8 346.4h0M1213.3 256.6h0M1335.0 295.3h0M1286.0 275.6h0M1323.1 267.1h0M1302.7 434.5h0M1214.2 402.1h0M1358.9 368.1h0M1323.0 333.8h0M1276.6 411.4h0M1243.5 255.3h0M1358.6 358.1h0M1185.3 275.2h0M1305.4 423.0h0M1290.4 382.7h0M1300.8 404.5h0M1336.6 392.7h0M1220.1 386.1h0M1284.6 330.5h0M1226.1 445.8h0M1296.4 358.8h0M1226.4 353.7h0M1208.6 436.9h0M1241.3 419.3h0M1305.7 264.2h0M1291.7 415.7h0M1161.7 330.1h0M1361.9 330.7h0M1173.6 322.5h0M1287.7 284.1h0M1212.7 409.6h0M1212.2 415.4h0M1183.1 292.9h0M1345.7 370.4h0M1310.0 381.2h0M1191.1 376.5h0M1232.4 423.6h0M1185.9 314.3h0M1302.9 281.4h0M1308.0 370.7h0M1267.9 255.1h0M1281.1 439.6h0M1281.8 453.6h0M1358.2 299.7h0M1263.3 424.8h0M1318.9 418.4h0M1240.0 398.4h0M1239.7 269.0h0M1243.3 244.8h0M1231.5 428.3h0M1250.0 359.0h0M1282.2 324.3h0M1275.9 414.9h0M1288.9 398.0h0M1338.4 288.7h0M1298.6 266.5h0M1283.4 399.5h0M1177.2 398.3h0M1166.8 402.3h0M1321.4 338.3h0M1202.1 373.8h0M1266.7 279.9h0M1364.2 364.8h0M1247.1 325.7h0M1293.6 246.9h0M1348.4 308.3h0M1182.2 375.2h0M1351.3 339.9h0M1353.3 375.2h0M1204.1 308.8h0M1274.7 280.0h0M1330.1 431.0h0M1173.3 326.3h0M1182.3 306.0h0M1320.4 382.4h0M1183.7 382.1h0M1223.4 383.6h0M1347.6 296.0h0M1155.1 330.5h0M1353.4 390.1h0M1340.0 353.0h0M1215.4 260.8h0M1341.5 391.4h0M1239.6 249.6h0M1330.3 358.4h0M1318.8 275.4h0M1307.0 274.5h0M1319.1 324.1h0M1243.6 250.0h0M1310.6 360.5h0M1209.9 418.5h0M1312.0 323.9h0M1294.9 447.0h0M1237.6 413.3h0M1170.6 386.0h0M1273.5 390.9h0M1171.2 301.9h0M1350.3 350.9h0M1348.3 372.3h0M1329.1 268.3h0M1290.7 261.0h0M1206.3 300.9h0M1260.2 438.0h0M1355.7 399.9h0M1221.4 364.8h0M1163.2 321.6h0M1203.7 264.6h0M1203.0 384.2h0M1201.1 351.0h0M1343.4 286.6h0M1185.0 348.3h0M1210.0 411.2h0M1250.1 422.0h0M1226.4 452.0h0M1170.6 335.0h0M1311.2 444.3h0M1210.4 321.9h0M1156.5 342.1h0M1196.8 369.9h0M1176.3 334.6h0M1288.9 388.8h0M1183.7 327.8h0M1178.8 316.7h0M1188.0 358.4h0M1316.8 367.9h0M1224.5 289.0h0M1340.0 347.3h0M1219.8 438.8h0M1314.7 263.5h0M1222.2 297.9h0M1343.6 299.0h0M1193.6 330.2h0M1190.3 264.5h0M1331.1 333.2h0M1262.1 407.8h0M1260.8 378.0h0M1247.9 244.7h0M1327.2 368.6h0M1274.6 315.7h0M1180.9 366.2h0M1331.6 376.7h0M1239.2 347.7h0M1167.1 354.9h0M1213.6 434.9h0M1231.6 264.9h0M1209.8 379.1h0M1184.9 419.6h0M1283.3 442.5h0M1239.2 243.8h0M1210.8 326.9h0M1324.8 366.4h0M1189.1 396.7h0M1178.8 297.2h0M1175.9 318.9h0M1265.8 410.7h0M1246.3 427.7h0M1314.6 309.5h0M1244.5 416.8h0M1243.4 397.4h0M1300.9 300.3h0M1297.0 370.2h0M1270.9 393.4h0M1247.8 307.2h0M1226.7 372.8h0M1278.9 342.7h0M1295.7 273.3h0M1223.5 374.6h0M1264.0 316.4h0M1354.4 336.4h0M1323.6 349.2h0M1177.1 280.3h0M1273.0 374.6h0M1346.1 392.5h0M1195.8 305.3h0M1236.0 356.7h0M1311.7 311.6h0M1262.0 331.2h0M1169.1 331.9h0M1328.4 312.1h0M1265.1 283.2h0M1244.5 437.7h0M1264.8 325.7h0M1340.4 320.1h0M1225.3 366.2h0M1350.3 368.3h0M1233.9 404.1h0M1209.4 399.7h0M1289.1 304.6h0M1260.0 253.3h0M1274.8 365.9h0M1216.2 310.7h0M1237.2 406.9h0M1195.6 295.5h0M1185.7 320.0h0M1159.0 311.1h0M1226.2 260.0h0M1362.4 360.6h0M1302.6 336.7h0M1309.2 340.8h0M1305.7 393.0h0M1212.1 280.4h0M1192.9 275.5h0M1224.5 377.9h0M1258.8 308.2h0M1234.9 415.3h0M1300.6 309.4h0M1200.9 363.6h0M1301.4 333.0h0M1221.6 345.5h0M1206.2 434.4h0M1345.1 308.9h0M1281.9 406.3h0M1335.8 402.7h0M1199.5 295.0h0M1316.5 266.8h0M1193.3 354.7h0M1216.5 290.0h0M1319.1 438.6h0M1318.5 359.8h0M1341.1 341.6h0M1283.1 263.5h0M1204.4 348.1h0M1167.7 302.1h0M1242.8 426.9h0M1162.5 374.8h0M1177.2 395.1h0M1303.9 327.7h0M1201.8 327.7h0M1224.7 423.4h0M1363.9 341.6h0M1242.8 447.8h0M1177.3 365.8h0M1326.7 333.1h0M1313.3 342.6h0M1328.5 377.7h0M1219.6 413.9h0M1242.5 390.6h0M1328.5 384.5h0M1208.7 426.8h0M1353.2 403.4h0M1347.8 389.2h0M1347.9 304.6h0M1210.6 384.1h0M1282.1 355.5h0M1268.0 320.5h0M1228.6 417.4h0M1312.5 421.4h0M1229.2 397.6h0M1337.1 397.0h0M1358.4 303.9h0M1186.7 371.2h0M1297.7 286.3h0M1162.6 394.7h0M1220.6 286.5h0M1202.5 260.1h0M1228.5 320.2h0M1249.0 239.7h0M1274.2 362.6h0M1199.2 274.4h0M1189.4 283.5h0M1223.7 274.7h0M1244.1 351.2h0M1302.8 346.4h0M1206.2 359.6h0M1215.4 368.6h0M1316.3 272.5h0M1196.6 363.7h0M1199.1 307.4h0M1330.5 369.7h0M1194.5 367.4h0M1234.7 429.2h0M1246.9 356.3h0M1275.4 270.0h0M1255.3 436.8h0M1226.3 337.2h0M1283.5 369.9h0M1188.4 286.8h0M1369.2 350.8h0M1276.0 293.2h0M1295.4 249.8h0M1255.1 330.0h0M1277.0 345.9h0M1349.5 321.5h0M1356.7 396.5h0M1232.5 328.4h0M1156.1 362.9h0M1283.2 420.0h0M1284.9 254.3h0M1197.3 357.1h0M1267.1 417.3h0M1241.1 365.2h0M1340.0 327.4h0M1260.6 411.8h0M1339.6 304.3h0M1244.6 319.9h0M1311.6 258.9h0M1240.6 340.6h0M1337.1 277.0h0M1246.3 394.0h0M1326.4 339.0h0M1230.9 352.5h0M1300.2 248.0h0M1354.3 366.9h0M1260.9 367.0h0M1157.2 338.4h0M1222.3 322.8h0M1279.5 271.1h0M1248.0 453.5h0M1354.9 379.2h0M1296.2 313.2h0M1250.9 280.6h0M1286.7 338.2h0M1256.9 457.5h0M1319.4 261.3h0M1235.9 444.0h0M1209.9 396.5h0M1262.7 398.3h0M1196.2 301.6h0M1219.4 276.7h0M1301.5 409.8h0M1362.2 324.9h0M1269.6 299.2h0M1277.6 274.6h0M1290.3 243.3h0M1171.2 293.0h0M1304.2 379.0h0M1276.0 396.4h0M1351.0 386.8h0M1193.7 299.0h0M1237.6 324.6h0M1249.5 323.2h0M1310.5 300.2h0M1272.4 424.4h0M1317.4 441.7h0M1230.6 369.7h0M1312.2 266.2h0M1302.0 267.7h0M1166.0 364.3h0M1343.3 334.9h0M1275.7 353.7h0M1184.9 391.2h0M1366.0 362.1h0M1206.5 429.2h0M1225.1 270.7h0M1358.3 393.3h0M1220.5 315.7h0M1204.9 296.6h0M1298.5 275.6h0M1226.5 383.6h0M1315.2 394.3h0M1174.1 379.7h0M1205.9 387.7h0M1279.7 389.4h0M1217.6 251.4h0M1161.9 325.6h0M1236.9 433.0h0M1187.7 350.9h0M1305.7 398.4h0M1292.2 303.2h0M1245.2 339.9h0M1170.4 338.2h0M1337.4 388.1h0M1299.5 271.0h0M1206.4 410.9h0M1200.3 346.9h0M1209.4 317.4h0M1340.2 368.1h0M1157.6 351.7h0M1331.7 297.8h0M1227.1 308.2h0M1260.2 325.0h0M1213.6 365.6h0M1199.5 290.8h0M1281.1 328.8h0M1286.2 312.4h0M1228.5 325.1h0M1337.2 282.4h0M1290.3 337.1h0M1168.7 377.4h0M1263.8 436.3h0M1325.7 376.4h0M1185.0 323.4h0M1237.9 373.0h0M1316.8 340.5h0M1305.6 333.1h0M1202.5 395.0h0M1215.7 383.8h0M1162.5 362.2h0M1280.3 279.3h0M1292.6 278.9h0M1218.5 382.5h0M1269.5 452.1h0M1321.1 343.2h0M1151.5 341.9h0M1251.9 270.5h0M1279.8 413.1h0M1254.7 383.8h0M1272.5 267.6h0M1264.1 376.9h0M1353.5 393.8h0M1219.2 328.7h0M1200.8 298.1h0M1363.6 383.5h0M1271.0 293.9h0M1166.4 370.3h0M1160.9 337.7h0M1159.2 334.7h0M1276.9 444.7h0M1175.6 391.5h0M1342.3 330.3h0M1229.5 329.9h0M1262.2 347.9h0M1344.9 293.4h0M1178.2 290.2h0M1153.5 333.7h0M1160.9 307.1h0M1307.5 298.8h0M1246.8 361.7h0M1172.6 305.0h0M1347.2 396.6h0M1182.2 321.8h0M1269.8 347.9h0M1283.9 359.6h0M1307.0 420.1h0M1211.5 438.4h0M1275.9 370.5h0M1345.2 340.8h0M1339.3 412.6h0M1269.3 240.0h0M1282.1 384.8h0M1192.7 319.0h0M1256.4 422.9h0M1275.7 255.0h0M1160.8 350.5h0M1342.1 382.0h0M1309.1 308.9h0M1250.7 393.7h0M1301.6 264.2h0M1254.9 345.3h0M1252.1 307.6h0M1196.8 426.5h0M1306.9 294.5h0M1351.4 347.4h0M1193.0 266.3h0M1283.3 314.1h0M1176.8 349.0h0M1191.5 365.3h0M1238.9 332.1h0M1245.4 400.4h0M1269.8 361.5h0M1323.0 298.1h0M1300.5 372.6h0M1175.0 337.6h0M1329.4 315.9h0M1172.2 376.6h0M1362.2 370.3h0M1327.4 428.4h0M1337.2 357.4h0M1248.9 425.4h0M1295.3 306.3h0M1184.1 344.2h0M1299.5 316.9h0M1332.5 415.0h0M1253.8 295.6h0M1304.5 431.8h0M1220.8 372.5h0M1234.7 273.5h0M1191.8 272.0h0M1241.7 273.3h0M1238.4 314.5h0M1322.1 283.6h0M1221.4 423.9h0M1326.8 309.4h0M1230.1 385.9h0M1294.8 411.7h0M1284.7 285.3h0M1292.9 430.4h0M1203.5 369.8h0M1259.5 312.9h0M1318.8 293.2h0M1158.7 323.3h0M1316.2 286.6h0M1211.7 393.8h0M1271.5 245.3h0M1158.9 327.5h0M1369.3 359.3h0M1325.2 355.4h0M1254.2 279.9h0M1157.2 369.5h0M1265.3 301.4h0M1263.7 271.8h0M1250.1 297.6h0M1243.7 268.1h0M1340.1 298.6h0M1301.5 321.2h0M1260.9 273.6h0M1238.3 310.5h0M1165.0 397.5h0M1264.2 253.5h0M1276.5 425.3h0M1200.9 377.6h0M1309.9 363.7h0M1256.2 239.2h0M1300.8 328.6h0M1260.8 289.0h0M1254.5 286.6h0M1301.8 251.5h0M1179.1 387.9h0M1189.1 332.8h0M1235.1 367.5h0M1322.6 436.3h0M1200.3 392.8h0M1180.9 380.0h0M1303.9 313.4h0M1241.3 416.0h0M1169.7 403.7h0M1184.8 269.9h0M1323.3 317.7h0M1344.1 278.0h0M1235.2 393.1h0" stroke="#a8a8a8" stroke-width="1.4" stroke-linecap="round" fill="none"/>
<path d="M1174.2 413.6h0M1279.2 305.6h0M1285.9 295.6h0M1358.3 382.8h0M1222.4 402.3h0M1311.7 386.6h0M1361.1 338.6h0M1267.4 396.3h0M1341.7 289.4h0M1270.2 317.9h0M1341.7 292.9h0M1216.8 365.4h0M1224.2 418.2h0M1271.3 270.9h0M1234.7 389.2h0M1305.0 382.7h0M1255.4 387.3h0M1199.3 366.5h0M1278.7 406.6h0M1314.8 354.4h0M1295.2 289.0h0M1324.1 341.1h0M1276.9 375.4h0M1269.4 431.5h0M1356.7 375.4h0M1302.4 278.0h0M1228.1 278.8h0M1259.6 270.5h0M1251.3 441.3h0M1313.1 369.3h0M1187.5 364.7h0M1301.1 397.9h0M1256.6 372.0h0M1359.5 320.2h0M1351.3 293.2h0M1349.6 376.9h0M1224.3 302.0h0M1253.0 240.3h0M1264.2 403.7h0M1298.5 340.4h0M1182.0 369.7h0M1247.4 385.2h0M1228.0 285.1h0M1181.0 391.5h0M1324.2 373.5h0M1309.1 321.5h0M1237.1 400.7h0M1300.5 437.7h0M1289.8 365.3h0M1210.3 365.5h0M1238.0 427.5h0M1338.3 344.5h0M1326.4 346.8h0M1295.9 394.5h0M1188.1 280.0h0M1272.6 416.8h0M1231.8 373.9h0M1278.1 334.8h0M1191.9 372.0h0M1187.3 376.1h0M1216.1 254.5h0M1317.3 289.8h0M1291.9 323.9h0M1214.5 380.7h0M1347.0 312.1h0M1313.3 269.8h0M1262.8 369.6h0M1252.2 429.3h0M1227.6 252.2h0M1205.5 322.2h0M1282.4 352.2h0M1270.5 383.4h0M1336.1 330.8h0M1329.4 361.8h0M1262.3 351.7h0M1327.7 403.9h0M1217.7 402.8h0M1224.1 399.2h0M1210.2 293.1h0M1214.3 373.1h0M1260.4 419.5h0M1244.4 271.5h0M1331.0 354.1h0M1226.7 393.4h0M1334.3 318.9h0M1221.2 379.9h0M1276.6 454.5h0M1351.6 304.4h0M1326.6 294.2h0M1290.0 434.4h0M1289.6 340.8h0M1210.1 404.4h0M1196.2 275.5h0M1285.8 246.9h0M1287.2 319.5h0M1256.4 316.7h0M1176.9 382.0h0M1167.4 393.0h0M1318.8 269.0h0M1242.1 374.4h0M1314.1 334.2h0M1346.9 408.6h0M1238.2 382.7h0M1213.9 340.4h0M1253.0 397.3h0M1353.1 381.8h0M1311.1 290.4h0M1220.6 431.5h0M1175.5 306.4h0M1323.5 322.1h0M1329.3 390.6h0M1180.5 310.5h0M1206.4 420.2h0M1256.4 252.8h0M1296.4 278.6h0M1297.0 374.8h0M1167.3 295.0h0M1223.2 443.6h0M1237.4 364.2h0M1251.3 316.1h0M1275.2 307.1h0M1338.8 417.5h0M1248.9 294.1h0M1270.1 290.4h0M1237.5 280.3h0M1312.0 412.1h0M1169.3 319.7h0M1355.1 343.5h0M1365.3 353.7h0M1307.9 432.7h0M1222.1 409.8h0M1164.0 302.0h0M1171.5 311.0h0M1218.5 320.0h0M1315.3 432.6h0M1280.6 347.2h0M1327.4 279.0h0M1304.4 354.6h0M1290.8 422.5h0M1260.0 260.0h0M1213.7 277.3h0M1255.9 440.4h0M1232.3 379.8h0M1173.1 348.8h0M1333.5 407.0h0M1286.1 447.9h0M1204.4 437.0h0M1307.5 402.2h0M1217.2 447.1h0M1274.7 432.7h0M1281.1 298.9h0M1260.1 383.3h0M1236.6 336.9h0M1250.8 409.8h0M1281.7 416.2h0M1298.3 383.0h0M1238.7 360.1h0M1158.8 378.0h0M1335.4 413.8h0M1218.5 353.4h0M1366.3 358.3h0M1225.1 255.9h0M1306.5 376.7h0M1228.4 311.3h0M1209.0 362.1h0M1223.9 263.4h0M1292.4 286.2h0M1293.3 293.5h0M1251.9 379.5h0M1326.1 410.4h0M1330.6 292.9h0M1159.8 385.1h0M1189.5 429.9h0M1227.2 273.5h0M1304.1 418.8h0M1262.5 258.1h0M1257.4 284.3h0M1284.4 250.9h0M1199.5 265.6h0M1220.2 420.3h0M1188.3 340.8h0M1359.9 314.7h0M1306.2 367.3h0M1289.1 369.6h0M1231.9 342.0h0M1266.7 453.6h0M1256.9 390.9h0M1341.0 281.2h0M1167.2 314.1h0M1288.3 279.6h0M1338.1 400.3h0M1308.7 269.1h0M1315.6 318.3h0M1303.1 375.1h0M1306.3 345.2h0M1260.9 403.7h0M1275.4 448.3h0M1258.5 358.9h0M1309.0 422.7h0M1333.9 426.6h0M1224.2 342.9h0M1159.9 366.2h0M1225.9 362.3h0M1276.7 441.2h0M1208.9 336.0h0M1311.9 408.2h0M1326.5 298.6h0M1263.7 338.0h0M1195.4 284.0h0M1273.9 297.3h0M1271.1 406.3h0M1277.2 289.6h0M1234.4 324.1h0M1293.6 327.1h0M1300.4 367.2h0M1355.9 354.5h0M1263.4 249.5h0M1209.2 433.1h0M1189.8 326.3h0M1318.8 330.9h0M1230.4 362.5h0M1276.2 284.8h0M1267.3 352.7h0M1214.8 343.4h0M1285.1 363.1h0M1213.6 397.8h0M1308.1 354.8h0M1303.3 295.4h0M1258.3 321.7h0M1220.8 434.9h0M1227.7 300.6h0M1169.3 324.2h0M1334.5 363.9h0M1314.8 438.7h0M1260.3 452.8h0M1281.8 423.2h0M1170.6 400.7h0M1248.2 267.8h0M1272.2 368.4h0M1197.0 345.5h0M1221.6 352.2h0M1165.0 297.2h0M1179.7 301.8h0M1254.3 350.7h0M1318.1 282.6h0M1252.7 311.8h0M1337.5 270.7h0M1221.7 389.8h0M1349.6 300.6h0M1212.5 356.6h0M1240.0 451.6h0M1242.6 348.1h0M1163.3 344.0h0M1328.5 416.7h0M1218.2 345.7h0M1160.3 345.9h0M1346.8 355.4h0M1221.5 355.6h0M1253.7 299.1h0M1243.0 358.3h0M1287.3 422.2h0M1326.2 324.3h0M1170.4 369.8h0M1205.1 393.3h0M1162.4 369.7h0M1276.3 262.9h0M1234.5 420.5h0M1217.3 389.3h0M1270.3 252.4h0M1259.6 428.9h0M1241.3 442.5h0M1323.1 360.6h0M1312.7 306.1h0M1191.6 362.0h0M1238.3 343.6h0M1333.9 369.0h0M1349.0 333.5h0M1267.3 337.8h0M1270.6 439.5h0M1204.3 425.5h0M1362.3 376.7h0M1324.8 314.8h0M1310.8 397.9h0M1248.4 253.6h0M1267.6 303.9h0M1292.8 342.4h0M1224.5 387.9h0M1321.7 355.3h0M1268.2 309.7h0M1227.2 400.7h0M1198.4 325.8h0M1291.2 331.2h0M1278.8 259.8h0M1181.9 316.5h0M1297.8 389.0h0M1294.1 317.2h0M1316.0 372.4h0M1228.6 366.3h0M1239.7 368.1h0M1204.8 280.8h0M1317.8 378.3h0M1318.3 315.5h0M1341.3 324.0h0M1318.9 393.4h0M1284.1 288.8h0M1197.9 351.1h0M1334.5 299.8h0M1185.9 290.4h0M1218.9 293.9h0M1255.7 357.3h0M1288.1 405.6h0M1288.8 385.6h0M1199.1 410.7h0M1334.0 419.0h0M1247.3 333.6h0M1334.7 386.2h0M1235.0 244.5h0M1267.7 263.7h0M1249.7 275.6h0M1223.8 319.0h0M1325.2 386.2h0M1217.1 433.8h0M1224.4 414.7h0M1170.8 350.9h0M1305.6 308.1h0M1367.5 344.4h0M1231.0 275.8h0M1329.2 425.2h0M1333.4 397.4h0M1221.5 253.0h0M1227.9 248.1h0M1280.9 289.8h0M1204.5 381.0h0M1278.7 403.1h0M1313.3 441.6h0M1268.4 243.4h0M1204.6 442.0h0M1250.3 445.1h0M1280.6 319.6h0M1201.9 287.3h0M1278.8 246.9h0M1313.9 358.0h0M1271.5 435.8h0M1366.3 325.9h0M1248.2 337.0h0M1243.3 241.0h0M1224.8 280.5h0M1252.2 254.6h0M1244.5 335.9h0M1206.0 284.6h0M1202.6 356.4h0M1267.7 408.0h0M1318.2 385.5h0M1178.7 329.1h0M1310.4 283.6h0M1195.5 412.1h0M1293.4 334.1h0M1320.0 415.3h0M1249.1 372.6h0M1247.4 413.0h0M1254.1 339.0h0M1198.9 334.8h0M1264.7 420.7h0M1340.3 372.6h0M1197.3 388.8h0M1266.0 276.4h0M1179.6 324.0h0M1268.0 295.8h0M1258.1 344.8h0M1307.6 315.6h0M1327.4 320.1h0M1256.9 354.1h0M1287.6 326.9h0M1234.9 255.5h0M1299.8 423.5h0M1241.8 402.3h0M1194.7 415.2h0M1286.6 269.0h0M1202.9 284.2h0M1293.9 384.2h0M1285.1 414.3h0M1319.3 407.4h0M1229.7 315.0h0M1192.0 313.4h0M1279.9 381.2h0M1229.9 446.5h0M1257.7 349.1h0M1211.6 337.6h0M1271.3 446.3h0M1270.7 302.2h0M1179.2 285.1h0M1245.0 420.8h0M1317.1 258.7h0M1230.5 345.6h0M1238.3 276.7h0M1224.3 430.4h0M1269.6 403.1h0M1302.7 385.9h0M1242.5 283.8h0M1211.9 274.2h0M1343.4 352.6h0M1285.4 439.2h0M1165.9 340.5h0M1330.3 387.2h0M1243.5 383.3h0M1323.8 432.5h0M1315.8 406.2h0M1313.3 292.9h0M1297.9 379.7h0M1316.8 344.3h0M1246.3 310.9h0M1237.1 350.4h0M1216.0 406.8h0M1308.7 312.6h0M1357.0 338.6h0M1335.4 304.6h0M1192.4 337.6h0M1286.7 382.4h0M1280.2 445.8h0M1229.6 356.5h0M1203.1 422.0h0M1241.6 316.5h0M1211.0 298.9h0M1213.6 313.1h0M1256.0 366.2h0M1286.5 408.8h0M1289.2 333.8h0M1253.5 444.2h0M1285.9 265.1h0M1226.3 357.9h0M1229.4 305.9h0M1293.6 354.2h0M1291.0 282.6h0M1260.9 240.3h0M1291.8 409.7h0M1323.2 326.6h0M1225.9 297.9h0M1302.8 365.0h0M1325.8 274.1h0M1275.3 300.5h0M1243.3 258.5h0M1272.0 341.1h0M1227.5 342.8h0M1235.0 288.7h0M1326.4 435.2h0M1165.0 318.5h0M1199.6 338.9h0M1323.5 262.5h0M1262.3 243.5h0M1361.0 343.9h0M1288.3 255.0h0M1164.3 313.0h0M1252.6 448.4h0M1331.1 275.3h0M1213.3 287.1h0M1309.3 253.0h0M1167.7 350.2h0M1189.6 320.7h0M1231.0 272.0h0M1293.9 442.7h0M1312.8 376.2h0M1183.0 297.8h0M1241.5 265.7h0M1217.7 350.4h0M1260.8 373.6h0M1180.5 275.7h0M1306.9 440.3h0M1308.5 384.6h0M1167.6 290.2h0M1247.7 438.7h0M1367.6 334.4h0M1210.7 342.4h0M1321.3 367.3h0M1269.2 426.1h0M1323.2 408.6h0M1355.2 305.1h0M1337.2 316.1h0M1301.4 291.6h0M1316.5 375.4h0M1250.9 384.0h0M1165.0 325.9h0M1293.2 379.8h0M1207.0 375.4h0M1293.4 263.2h0M1226.5 293.2h0M1311.4 274.4h0M1169.2 408.3h0M1228.0 409.5h0M1358.9 378.0h0M1323.9 370.1h0M1230.3 282.7h0M1205.9 305.0h0M1188.4 273.6h0M1210.6 359.1h0M1318.2 311.3h0M1184.7 310.8h0M1311.8 349.0h0M1176.6 417.4h0M1312.8 315.3h0M1302.5 358.5h0M1213.9 389.6h0M1308.7 347.9h0M1166.4 358.7h0M1269.1 332.6h0M1275.8 357.1h0M1195.7 404.4h0M1331.3 329.6h0M1308.5 288.1h0M1329.5 288.7h0M1272.1 456.0h0M1275.6 336.8h0M1339.1 333.3h0M1319.5 370.4h0M1360.4 334.7h0M1298.2 319.9h0M1283.2 341.7h0M1331.8 346.0h0M1188.2 303.3h0M1293.5 338.6h0M1187.6 426.8h0M1290.4 449.1h0M1195.2 359.9h0M1215.7 413.4h0M1194.9 350.0h0M1361.3 380.9h0M1312.4 320.6h0M1287.0 442.4h0M1267.5 356.2h0M1189.3 368.7h0M1229.4 406.5h0M1175.2 386.1h0M1265.5 306.6h0M1191.9 398.1h0M1193.1 386.0h0M1333.5 270.2h0M1217.1 398.1h0M1156.2 375.3h0M1173.5 282.8h0M1260.5 456.2h0M1328.7 264.9h0M1299.6 430.7h0M1224.1 434.4h0M1286.5 378.8h0M1290.8 289.2h0M1223.6 394.7h0M1350.0 313.5h0M1304.0 289.7h0M1268.7 413.4h0M1199.2 261.8h0M1264.7 321.0h0M1343.5 403.7h0M1302.3 390.1h0M1311.0 392.5h0M1334.2 378.6h0M1315.1 281.5h0M1162.5 380.9h0M1245.0 409.8h0M1253.5 249.8h0M1242.4 312.7h0M1159.9 319.1h0M1320.1 404.3h0M1281.8 303.0h0M1169.3 396.3h0M1238.3 321.2h0M1272.6 411.2h0M1289.7 355.0h0M1288.7 344.3h0M1317.9 356.7h0M1247.9 271.2h0M1318.1 431.1h0M1248.6 318.2h0M1272.3 331.4h0M1248.9 377.8h0M1210.9 284.4h0M1267.9 445.1h0M1169.9 287.1h0M1303.9 371.0h0M1320.3 257.5h0M1287.0 308.1h0M1279.8 434.1h0M1331.4 421.6h0M1284.1 347.3h0M1292.9 419.4h0M1276.3 325.9h0M1263.0 445.7h0M1271.7 308.7h0M1182.5 355.7h0M1350.8 408.3h0M1255.6 257.0h0M1215.2 430.8h0M1318.9 353.6h0M1252.0 245.5h0M1189.8 298.3h0M1248.7 304.0h0M1267.3 385.8h0M1230.7 442.5h0M1240.3 431.6h0M1156.6 382.1h0M1336.9 420.3h0M1208.0 332.3h0M1178.1 313.2h0M1208.8 307.6h0M1193.7 262.6h0M1215.5 347.1h0M1352.8 308.9h0M1178.9 344.3h0M1231.0 288.5h0M1252.3 366.2h0M1353.9 327.1h0" stroke="#dcdcdc" stroke-width="1.9" stroke-linecap="round" fill="none"/>
<path d="M1222.6 248.0h0M1328.2 336.0h0M1326.4 327.9h0M1215.2 333.2h0M1206.5 365.9h0M1243.9 412.9h0M1208.0 356.4h0M1255.1 270.6h0M1318.3 349.2h0M1319.9 396.6h0M1333.7 374.2h0M1298.8 325.8h0M1305.9 358.9h0M1204.6 340.0h0M1203.1 430.0h0M1352.7 333.7h0M1344.5 363.4h0M1299.5 362.5h0M1237.6 317.8h0M1215.4 438.1h0M1188.0 354.3h0M1183.7 423.1h0M1243.6 307.2h0M1314.0 379.9h0M1239.4 255.3h0M1308.4 394.8h0M1252.5 361.8h0M1206.4 268.4h0M1265.5 260.6h0M1277.9 339.2h0M1265.9 381.3h0M1245.2 378.3h0M1173.8 331.2h0M1172.9 405.7h0M1277.9 385.8h0M1359.0 324.5h0M1294.4 436.6h0M1233.6 362.8h0M1307.0 406.0h0M1209.9 252.9h0M1243.9 452.1h0M1315.8 419.5h0M1268.8 422.3h0M1301.1 343.5h0M1198.5 416.9h0M1194.4 374.7h0M1212.6 386.5h0M1330.4 410.4h0M1206.8 396.6h0M1244.2 455.4h0M1251.7 327.2h0M1323.7 404.6h0M1164.8 305.6h0M1297.6 421.1h0M1195.3 269.3h0M1260.1 263.3h0M1317.5 278.5h0M1226.0 328.4h0M1331.3 349.7h0M1261.7 284.2h0M1211.9 370.4h0M1290.3 445.0h0M1223.6 348.9h0M1220.1 282.7h0M1346.3 343.9h0M1230.2 335.3h0M1191.4 403.5h0M1196.1 337.2h0M1174.6 401.2h0M1213.0 361.2h0M1239.3 446.0h0M1352.2 288.6h0M1332.8 281.6h0M1186.6 411.3h0M1268.0 437.3h0M1288.9 248.7h0M1328.2 343.1h0M1352.6 316.8h0M1156.1 318.7h0M1261.4 334.8h0M1246.9 348.5h0M1207.2 287.5h0M1290.2 425.9h0M1336.8 324.2h0M1281.8 362.0h0M1189.5 409.7h0M1354.0 319.8h0M1319.1 299.4h0M1188.9 391.1h0M1301.8 285.9h0M1191.3 415.5h0M1362.6 387.4h0M1323.4 276.6h0M1346.3 280.3h0M1275.4 241.6h0M1269.3 343.9h0M1273.0 397.6h0M1284.6 242.0h0M1164.5 348.5h0M1233.0 337.1h0M1194.0 287.0h0M1355.3 358.6h0M1183.3 415.3h0M1206.5 325.8h0M1221.9 326.3h0M1318.6 411.3h0M1238.6 420.8h0M1317.8 327.4h0M1247.5 248.5h0M1215.5 420.6h0M1174.5 344.5h0M1238.5 264.3h0M1162.7 340.3h0M1184.7 358.0h0M1241.8 298.9h0M1286.9 315.4h0M1297.1 366.7h0M1202.4 273.8h0M1222.9 368.3h0" stroke="#ffffff" stroke-width="2.6" stroke-linecap="round" fill="none"/>
</g>
</g>
<g id="pb">
<text transform="translate(0 703.5) scale(1.05 1)" font-size="46" font-weight="bold">b</text>
<rect x="192.6" y="719.1" width="14.3" height="14.3" fill="#8cc3b9" stroke="#15889a" stroke-width="3.7" rx="2.5"/>
<line x1="180.3" y1="726.25" x2="219.3" y2="726.25" stroke="#2b7e98" stroke-width="2.9" stroke-linecap="round"/>
<text x="237.5" y="736.8" fill="#231815" textLength="78.7" lengthAdjust="spacing">Control</text>
<rect x="192.6" y="760.85" width="14.3" height="14.3" fill="#a9c0e6" stroke="#7c9fd4" stroke-width="3.7" rx="2.5"/>
<line x1="180.3" y1="768" x2="219.3" y2="768" stroke="#7c9fd4" stroke-width="2.9" stroke-linecap="round"/>
<text x="237.5" y="777.6" fill="#231815" textLength="125" lengthAdjust="spacing">Control+<tspan font-style="italic">Kp</tspan></text>
<rect x="192.6" y="802.35" width="14.3" height="14.3" fill="#a6cdf8" stroke="#7ab3f4" stroke-width="3.7" rx="2.5"/>
<line x1="180.3" y1="809.5" x2="219.3" y2="809.5" stroke="#7ab3f4" stroke-width="2.9" stroke-linecap="round"/>
<text x="237.5" y="816.4" fill="#231815" textLength="166.5" lengthAdjust="spacing">Control+HK <tspan font-style="italic">Kp</tspan></text>
<circle cx="460.9" cy="727.5" r="6.9" fill="#ddafd8" stroke="#c67abe" stroke-width="3.4"/>
<line x1="441.7" y1="727.5" x2="480.7" y2="727.5" stroke="#c67abe" stroke-width="2.9" stroke-linecap="round"/>
<text x="496.25" y="740.5" fill="#231815" textLength="94.25" lengthAdjust="spacing">DSS+<tspan font-style="italic">Kp</tspan></text>
<circle cx="460.9" cy="769.25" r="6.9" fill="#afb4e8" stroke="#7a82d8" stroke-width="3.4"/>
<line x1="441.7" y1="769.25" x2="480.7" y2="769.25" stroke="#7a82d8" stroke-width="2.9" stroke-linecap="round"/>
<text x="496.25" y="778.3" fill="#231815">DSS</text>
<circle cx="460.9" cy="810.75" r="6.9" fill="#e9cac8" stroke="#dba6a4" stroke-width="3.4"/>
<line x1="441.7" y1="810.75" x2="480.7" y2="810.75" stroke="#dba6a4" stroke-width="2.9" stroke-linecap="round"/>
<text x="496.25" y="818" fill="#231815" textLength="136.25" lengthAdjust="spacing">DSS+HK <tspan font-style="italic">Kp</tspan></text>
<path d="M645 734.5H652V762H645" stroke="#111" stroke-width="2.8" fill="none"/>
<path d="M645 781.3H652V808H645" stroke="#111" stroke-width="2.8" fill="none"/>
<text x="663" y="752.5" fill="#231815" textLength="100.5" lengthAdjust="spacing" font-style="italic">p=0.0011</text>
<text x="661.3" y="797.5" fill="#231815" textLength="105" lengthAdjust="spacing" font-style="italic">p=0.9998</text>
<line x1="176.25" y1="859.4" x2="176.25" y2="1256.5" stroke="#000" stroke-width="2.2"/>
<line x1="160" y1="1241.25" x2="746.25" y2="1241.25" stroke="#000" stroke-width="2.2"/>
<text x="149" y="1252.85" text-anchor="end">0</text>
<line x1="160" y1="1165.15" x2="176.25" y2="1165.15" stroke="#000" stroke-width="2.2"/>
<text x="149" y="1176.75" text-anchor="end">1</text>
<line x1="160" y1="1089.05" x2="176.25" y2="1089.05" stroke="#000" stroke-width="2.2"/>
<text x="149" y="1100.65" text-anchor="end">2</text>
<line x1="160" y1="1012.95" x2="176.25" y2="1012.95" stroke="#000" stroke-width="2.2"/>
<text x="149" y="1024.55" text-anchor="end">3</text>
<line x1="160" y1="936.85" x2="176.25" y2="936.85" stroke="#000" stroke-width="2.2"/>
<text x="149" y="948.45" text-anchor="end">4</text>
<line x1="160" y1="860.75" x2="176.25" y2="860.75" stroke="#000" stroke-width="2.2"/>
<text x="149" y="872.35" text-anchor="end">5</text>
<text x="173.75" y="1288.2" text-anchor="middle">0</text>
<line x1="366.25" y1="1241.25" x2="366.25" y2="1256.5" stroke="#000" stroke-width="2.2"/>
<text x="363.75" y="1288.2" text-anchor="middle">5</text>
<line x1="556.25" y1="1241.25" x2="556.25" y2="1256.5" stroke="#000" stroke-width="2.2"/>
<text x="551.75" y="1288.2" text-anchor="middle">10</text>
<line x1="746.25" y1="1241.25" x2="746.25" y2="1256.5" stroke="#000" stroke-width="2.2"/>
<text x="741.25" y="1288.2" text-anchor="middle">15</text>
<text x="425.2" y="1313.4" textLength="53.5" lengthAdjust="spacing">Days</text>
<text transform="translate(103.3 1055) rotate(-90)" text-anchor="middle">Stool blood index</text>
<line x1="252.25" y1="1210.81" x2="252.25" y2="1169.25" stroke="#dba6a4" stroke-width="3.3"/>
<line x1="244.05" y1="1169.25" x2="260.45" y2="1169.25" stroke="#dba6a4" stroke-width="3.3" stroke-linecap="round"/>
<line x1="328.25" y1="1149.93" x2="328.25" y2="1086.25" stroke="#dba6a4" stroke-width="3.3"/>
<line x1="320.05" y1="1086.25" x2="336.45" y2="1086.25" stroke="#dba6a4" stroke-width="3.3" stroke-linecap="round"/>
<line x1="404.25" y1="1043.39" x2="404.25" y2="928.25" stroke="#dba6a4" stroke-width="3.3"/>
<line x1="396.05" y1="928.25" x2="412.45" y2="928.25" stroke="#dba6a4" stroke-width="3.3" stroke-linecap="round"/>
<line x1="442.25" y1="982.51" x2="442.25" y2="914.25" stroke="#dba6a4" stroke-width="3.3"/>
<line x1="434.05" y1="914.25" x2="450.45" y2="914.25" stroke="#dba6a4" stroke-width="3.3" stroke-linecap="round"/>
<line x1="480.25" y1="967.29" x2="480.25" y2="899.25" stroke="#dba6a4" stroke-width="3.3"/>
<line x1="472.05" y1="899.25" x2="488.45" y2="899.25" stroke="#dba6a4" stroke-width="3.3" stroke-linecap="round"/>
<line x1="518.25" y1="982.51" x2="518.25" y2="941.25" stroke="#dba6a4" stroke-width="3.3"/>
<line x1="510.05" y1="941.25" x2="526.45" y2="941.25" stroke="#dba6a4" stroke-width="3.3" stroke-linecap="round"/>
<line x1="556.25" y1="993.92" x2="556.25" y2="963.75" stroke="#dba6a4" stroke-width="3.3"/>
<line x1="548.05" y1="963.75" x2="564.45" y2="963.75" stroke="#dba6a4" stroke-width="3.3" stroke-linecap="round"/>
<line x1="594.25" y1="1043.39" x2="594.25" y2="1002" stroke="#dba6a4" stroke-width="3.3"/>
<line x1="586.05" y1="1002" x2="602.45" y2="1002" stroke="#dba6a4" stroke-width="3.3" stroke-linecap="round"/>
<line x1="632.25" y1="1058.61" x2="632.25" y2="1017" stroke="#dba6a4" stroke-width="3.3"/>
<line x1="624.05" y1="1017" x2="640.45" y2="1017" stroke="#dba6a4" stroke-width="3.3" stroke-linecap="round"/>
<circle cx="176.25" cy="1241.25" r="7.8" fill="#e9cac8" stroke="#dba6a4" stroke-width="3.6"/>
<circle cx="252.25" cy="1210.81" r="7.8" fill="#e9cac8" stroke="#dba6a4" stroke-width="3.6"/>
<circle cx="328.25" cy="1149.93" r="7.8" fill="#e9cac8" stroke="#dba6a4" stroke-width="3.6"/>
<circle cx="404.25" cy="1043.39" r="7.8" fill="#e9cac8" stroke="#dba6a4" stroke-width="3.6"/>
<circle cx="442.25" cy="982.51" r="7.8" fill="#e9cac8" stroke="#dba6a4" stroke-width="3.6"/>
<circle cx="480.25" cy="967.29" r="7.8" fill="#e9cac8" stroke="#dba6a4" stroke-width="3.6"/>
<circle cx="518.25" cy="982.51" r="7.8" fill="#e9cac8" stroke="#dba6a4" stroke-width="3.6"/>
<circle cx="556.25" cy="993.92" r="7.8" fill="#e9cac8" stroke="#dba6a4" stroke-width="3.6"/>
<circle cx="594.25" cy="1043.39" r="7.8" fill="#e9cac8" stroke="#dba6a4" stroke-width="3.6"/>
<circle cx="632.25" cy="1058.61" r="7.8" fill="#e9cac8" stroke="#dba6a4" stroke-width="3.6"/>
<polyline points="176.25,1241.25 252.25,1210.81 328.25,1149.93 404.25,1043.39 442.25,982.51 480.25,967.29 518.25,982.51 556.25,993.92 594.25,1043.39 632.25,1058.61" fill="none" stroke="#dba6a4" stroke-width="3.3" stroke-linejoin="round"/>
<line x1="252.25" y1="1216.14" x2="252.25" y2="1177" stroke="#c67abe" stroke-width="3.3"/>
<line x1="244.05" y1="1177" x2="260.45" y2="1177" stroke="#c67abe" stroke-width="3.3" stroke-linecap="round"/>
<line x1="328.25" y1="1114.16" x2="328.25" y2="1035.5" stroke="#c67abe" stroke-width="3.3"/>
<line x1="320.05" y1="1035.5" x2="336.45" y2="1035.5" stroke="#c67abe" stroke-width="3.3" stroke-linecap="round"/>
<line x1="404.25" y1="1038.82" x2="404.25" y2="946.75" stroke="#c67abe" stroke-width="3.3"/>
<line x1="396.05" y1="946.75" x2="412.45" y2="946.75" stroke="#c67abe" stroke-width="3.3" stroke-linecap="round"/>
<line x1="442.25" y1="1012.95" x2="442.25" y2="965" stroke="#c67abe" stroke-width="3.3"/>
<line x1="434.05" y1="965" x2="450.45" y2="965" stroke="#c67abe" stroke-width="3.3" stroke-linecap="round"/>
<line x1="480.25" y1="1012.95" x2="480.25" y2="945" stroke="#c67abe" stroke-width="3.3"/>
<line x1="472.05" y1="945" x2="488.45" y2="945" stroke="#c67abe" stroke-width="3.3" stroke-linecap="round"/>
<line x1="518.25" y1="1038.06" x2="518.25" y2="976.25" stroke="#c67abe" stroke-width="3.3"/>
<line x1="510.05" y1="976.25" x2="526.45" y2="976.25" stroke="#c67abe" stroke-width="3.3" stroke-linecap="round"/>
<line x1="556.25" y1="1076.49" x2="556.25" y2="1001.75" stroke="#c67abe" stroke-width="3.3"/>
<line x1="548.05" y1="1001.75" x2="564.45" y2="1001.75" stroke="#c67abe" stroke-width="3.3" stroke-linecap="round"/>
<line x1="594.25" y1="1114.92" x2="594.25" y2="1075" stroke="#c67abe" stroke-width="3.3"/>
<line x1="586.05" y1="1075" x2="602.45" y2="1075" stroke="#c67abe" stroke-width="3.3" stroke-linecap="round"/>
<line x1="632.25" y1="1165.15" x2="632.25" y2="1096.75" stroke="#c67abe" stroke-width="3.3"/>
<line x1="624.05" y1="1096.75" x2="640.45" y2="1096.75" stroke="#c67abe" stroke-width="3.3" stroke-linecap="round"/>
<circle cx="176.25" cy="1241.25" r="7.8" fill="#ddafd8" stroke="#c67abe" stroke-width="3.6"/>
<circle cx="252.25" cy="1216.14" r="7.8" fill="#ddafd8" stroke="#c67abe" stroke-width="3.6"/>
<circle cx="328.25" cy="1114.16" r="7.8" fill="#ddafd8" stroke="#c67abe" stroke-width="3.6"/>
<circle cx="404.25" cy="1038.82" r="7.8" fill="#ddafd8" stroke="#c67abe" stroke-width="3.6"/>
<circle cx="442.25" cy="1012.95" r="7.8" fill="#ddafd8" stroke="#c67abe" stroke-width="3.6"/>
<circle cx="480.25" cy="1012.95" r="7.8" fill="#ddafd8" stroke="#c67abe" stroke-width="3.6"/>
<circle cx="518.25" cy="1038.06" r="7.8" fill="#ddafd8" stroke="#c67abe" stroke-width="3.6"/>
<circle cx="556.25" cy="1076.49" r="7.8" fill="#ddafd8" stroke="#c67abe" stroke-width="3.6"/>
<circle cx="594.25" cy="1114.92" r="7.8" fill="#ddafd8" stroke="#c67abe" stroke-width="3.6"/>
<circle cx="632.25" cy="1165.15" r="7.8" fill="#ddafd8" stroke="#c67abe" stroke-width="3.6"/>
<polyline points="176.25,1241.25 252.25,1216.14 328.25,1114.16 404.25,1038.82 442.25,1012.95 480.25,1012.95 518.25,1038.06 556.25,1076.49 594.25,1114.92 632.25,1165.15" fill="none" stroke="#c67abe" stroke-width="3.3" stroke-linejoin="round"/>
<line x1="252.25" y1="1222.22" x2="252.25" y2="1183.75" stroke="#7a82d8" stroke-width="3.3"/>
<line x1="244.05" y1="1183.75" x2="260.45" y2="1183.75" stroke="#7a82d8" stroke-width="3.3" stroke-linecap="round"/>
<line x1="328.25" y1="1165.15" x2="328.25" y2="1077" stroke="#7a82d8" stroke-width="3.3"/>
<line x1="320.05" y1="1077" x2="336.45" y2="1077" stroke="#7a82d8" stroke-width="3.3" stroke-linecap="round"/>
<line x1="404.25" y1="1012.95" x2="404.25" y2="950.75" stroke="#7a82d8" stroke-width="3.3"/>
<line x1="396.05" y1="950.75" x2="412.45" y2="950.75" stroke="#7a82d8" stroke-width="3.3" stroke-linecap="round"/>
<line x1="442.25" y1="993.92" x2="442.25" y2="956.25" stroke="#7a82d8" stroke-width="3.3"/>
<line x1="434.05" y1="956.25" x2="450.45" y2="956.25" stroke="#7a82d8" stroke-width="3.3" stroke-linecap="round"/>
<line x1="480.25" y1="974.9" x2="480.25" y2="931.75" stroke="#7a82d8" stroke-width="3.3"/>
<line x1="472.05" y1="931.75" x2="488.45" y2="931.75" stroke="#7a82d8" stroke-width="3.3" stroke-linecap="round"/>
<line x1="518.25" y1="955.88" x2="518.25" y2="918.25" stroke="#7a82d8" stroke-width="3.3"/>
<line x1="510.05" y1="918.25" x2="526.45" y2="918.25" stroke="#7a82d8" stroke-width="3.3" stroke-linecap="round"/>
<line x1="556.25" y1="1031.97" x2="556.25" y2="995" stroke="#7a82d8" stroke-width="3.3"/>
<line x1="548.05" y1="995" x2="564.45" y2="995" stroke="#7a82d8" stroke-width="3.3" stroke-linecap="round"/>
<line x1="594.25" y1="1051" x2="594.25" y2="1007" stroke="#7a82d8" stroke-width="3.3"/>
<line x1="586.05" y1="1007" x2="602.45" y2="1007" stroke="#7a82d8" stroke-width="3.3" stroke-linecap="round"/>
<line x1="632.25" y1="1051" x2="632.25" y2="1007" stroke="#7a82d8" stroke-width="3.3"/>
<line x1="624.05" y1="1007" x2="640.45" y2="1007" stroke="#7a82d8" stroke-width="3.3" stroke-linecap="round"/>
<circle cx="176.25" cy="1241.25" r="7.8" fill="#afb4e8" stroke="#7a82d8" stroke-width="3.6"/>
<circle cx="252.25" cy="1222.22" r="7.8" fill="#afb4e8" stroke="#7a82d8" stroke-width="3.6"/>
<circle cx="328.25" cy="1165.15" r="7.8" fill="#afb4e8" stroke="#7a82d8" stroke-width="3.6"/>
<circle cx="404.25" cy="1012.95" r="7.8" fill="#afb4e8" stroke="#7a82d8" stroke-width="3.6"/>
<circle cx="442.25" cy="993.92" r="7.8" fill="#afb4e8" stroke="#7a82d8" stroke-width="3.6"/>
<circle cx="480.25" cy="974.9" r="7.8" fill="#afb4e8" stroke="#7a82d8" stroke-width="3.6"/>
<circle cx="518.25" cy="955.88" r="7.8" fill="#afb4e8" stroke="#7a82d8" stroke-width="3.6"/>
<circle cx="556.25" cy="1031.97" r="7.8" fill="#afb4e8" stroke="#7a82d8" stroke-width="3.6"/>
<circle cx="594.25" cy="1051" r="7.8" fill="#afb4e8" stroke="#7a82d8" stroke-width="3.6"/>
<circle cx="632.25" cy="1051" r="7.8" fill="#afb4e8" stroke="#7a82d8" stroke-width="3.6"/>
<polyline points="176.25,1241.25 252.25,1222.22 328.25,1165.15 404.25,1012.95 442.25,993.92 480.25,974.9 518.25,955.88 556.25,1031.97 594.25,1051 632.25,1051" fill="none" stroke="#7a82d8" stroke-width="3.3" stroke-linejoin="round"/>
<rect x="168.6" y="1233.6" width="15.3" height="15.3" fill="#4f9b98" stroke="#15889a" stroke-width="4.2" rx="3"/>
<rect x="244.6" y="1233.6" width="15.3" height="15.3" fill="#4f9b98" stroke="#15889a" stroke-width="4.2" rx="3"/>
<rect x="320.6" y="1233.6" width="15.3" height="15.3" fill="#4f9b98" stroke="#15889a" stroke-width="4.2" rx="3"/>
<rect x="396.6" y="1233.6" width="15.3" height="15.3" fill="#4f9b98" stroke="#15889a" stroke-width="4.2" rx="3"/>
<rect x="434.6" y="1233.6" width="15.3" height="15.3" fill="#4f9b98" stroke="#15889a" stroke-width="4.2" rx="3"/>
<rect x="472.6" y="1233.6" width="15.3" height="15.3" fill="#4f9b98" stroke="#15889a" stroke-width="4.2" rx="3"/>
<rect x="510.6" y="1233.6" width="15.3" height="15.3" fill="#4f9b98" stroke="#15889a" stroke-width="4.2" rx="3"/>
<rect x="548.6" y="1233.6" width="15.3" height="15.3" fill="#4f9b98" stroke="#15889a" stroke-width="4.2" rx="3"/>
<rect x="586.6" y="1233.6" width="15.3" height="15.3" fill="#4f9b98" stroke="#15889a" stroke-width="4.2" rx="3"/>
<rect x="624.6" y="1233.6" width="15.3" height="15.3" fill="#4f9b98" stroke="#15889a" stroke-width="4.2" rx="3"/>
<line x1="176.25" y1="1241.25" x2="632.25" y2="1241.25" stroke="#2b7e98" stroke-width="3.4"/>
</g>
<g id="pc">
<text transform="translate(1062 703.5) scale(1.05 1)" font-size="46" font-weight="bold">c</text>
<rect x="1208.85" y="712.65" width="14.7" height="14.7" fill="#8fc0b8" stroke="#15889a" stroke-width="1.8" rx="1"/>
<line x1="1196.25" y1="720" x2="1235.75" y2="720" stroke="#2b7e98" stroke-width="1.8"/>
<text x="1255" y="730.5" fill="#231815" textLength="78" lengthAdjust="spacing">Control</text>
<rect x="1208.85" y="754.4" width="14.7" height="14.7" fill="#b4c6e6" stroke="#7c9fd4" stroke-width="1.8" rx="1"/>
<line x1="1196.25" y1="761.75" x2="1235.75" y2="761.75" stroke="#7c9fd4" stroke-width="1.8"/>
<text x="1255" y="769.25" fill="#231815" textLength="123.75" lengthAdjust="spacing">Control+<tspan font-style="italic">Kp</tspan></text>
<rect x="1208.85" y="795.9" width="14.7" height="14.7" fill="#b0d1f8" stroke="#7ab3f4" stroke-width="1.8" rx="1"/>
<line x1="1196.25" y1="803.25" x2="1235.75" y2="803.25" stroke="#7ab3f4" stroke-width="1.8"/>
<text x="1255" y="808.75" fill="#231815" textLength="164.5" lengthAdjust="spacing">Control+HK <tspan font-style="italic">Kp</tspan></text>
<circle cx="1477" cy="720.75" r="7.3" fill="#e0b6db" stroke="#c67abe" stroke-width="1.8"/>
<line x1="1457.75" y1="720.75" x2="1497" y2="720.75" stroke="#c67abe" stroke-width="1.8"/>
<text x="1512.5" y="734.25" fill="#231815" textLength="94.5" lengthAdjust="spacing">DSS+<tspan font-style="italic">Kp</tspan></text>
<circle cx="1477" cy="763" r="7.3" fill="#b6baea" stroke="#7a82d8" stroke-width="1.8"/>
<line x1="1457.75" y1="763" x2="1497" y2="763" stroke="#7a82d8" stroke-width="1.8"/>
<text x="1512.5" y="771.25" fill="#231815">DSS</text>
<circle cx="1477" cy="804.5" r="7.3" fill="#ebcecd" stroke="#dba6a4" stroke-width="1.8"/>
<line x1="1457.75" y1="804.5" x2="1497" y2="804.5" stroke="#dba6a4" stroke-width="1.8"/>
<text x="1512.5" y="811.25" fill="#231815" textLength="135.75" lengthAdjust="spacing">DSS+HK <tspan font-style="italic">Kp</tspan></text>
<path d="M1657 728H1663.2V756H1657" stroke="#111" stroke-width="2.8" fill="none"/>
<path d="M1657 775H1663.2V802H1657" stroke="#111" stroke-width="2.8" fill="none"/>
<text x="1674.5" y="749.25" fill="#231815" font-style="italic">p=0.1045</text>
<text x="1674.5" y="791.25" fill="#231815" font-style="italic">p=0.0814</text>
<line x1="1158.2" y1="868.3" x2="1158.2" y2="1253" stroke="#000" stroke-width="2.4"/>
<line x1="1142.5" y1="1238" x2="1711.25" y2="1238" stroke="#000" stroke-width="2.4"/>
<text x="1132.6" y="1248" text-anchor="end">0</text>
<line x1="1142.5" y1="1115.15" x2="1158.2" y2="1115.15" stroke="#000" stroke-width="2.4"/>
<text x="1132.6" y="1125.15" text-anchor="end">5</text>
<line x1="1142.5" y1="992.3" x2="1158.2" y2="992.3" stroke="#000" stroke-width="2.4"/>
<text x="1128.7" y="1002.3" text-anchor="end">10</text>
<line x1="1142.5" y1="869.45" x2="1158.2" y2="869.45" stroke="#000" stroke-width="2.4"/>
<text x="1128.7" y="879.45" text-anchor="end">15</text>
<text x="1156.25" y="1281.3" text-anchor="middle">0</text>
<line x1="1342.55" y1="1238" x2="1342.55" y2="1253" stroke="#000" stroke-width="2.4"/>
<text x="1339.5" y="1281.3" text-anchor="middle">5</text>
<line x1="1526.9" y1="1238" x2="1526.9" y2="1253" stroke="#000" stroke-width="2.4"/>
<text x="1523.75" y="1281.3" text-anchor="middle">10</text>
<line x1="1711.25" y1="1238" x2="1711.25" y2="1253" stroke="#000" stroke-width="2.4"/>
<text x="1707" y="1281.3" text-anchor="middle">15</text>
<text x="1393" y="1307.5" textLength="53.5" lengthAdjust="spacing">Days</text>
<text transform="translate(1065.5 1062.4) rotate(-90)" text-anchor="middle" textLength="230" lengthAdjust="spacing">Disease activity index</text>
<text transform="translate(1101 1062) rotate(-90)" text-anchor="middle">(DAI)</text>
<text transform="translate(1532.5 981.5) rotate(-90)" fill="#231815" textLength="90" lengthAdjust="spacing" font-style="italic">p=0.016</text>
<text transform="translate(1571.25 999) rotate(-90)" fill="#231815" textLength="129" lengthAdjust="spacing" font-style="italic">p=9.83E-05</text>
<text transform="translate(1608.75 1019.5) rotate(-90)" fill="#231815" textLength="101.5" lengthAdjust="spacing" font-style="italic">p=0.0001</text>
<polyline points="1158.2,1229.4 1231.94,1218.34 1305.68,1225.71 1379.42,1238 1416.29,1230.63 1453.16,1238 1490.03,1238 1526.9,1229.4 1563.77,1238 1600.64,1238" fill="none" stroke="#7ab3f4" stroke-width="2.3"/>
<line x1="1158.2" y1="1229.4" x2="1158.2" y2="1219.4" stroke="#7ab3f4" stroke-width="2.3"/>
<line x1="1150.2" y1="1219.4" x2="1166.2" y2="1219.4" stroke="#7ab3f4" stroke-width="2.3"/>
<line x1="1231.94" y1="1218.34" x2="1231.94" y2="1204.34" stroke="#7ab3f4" stroke-width="2.3"/>
<line x1="1223.94" y1="1204.34" x2="1239.94" y2="1204.34" stroke="#7ab3f4" stroke-width="2.3"/>
<line x1="1305.68" y1="1225.71" x2="1305.68" y2="1212.71" stroke="#7ab3f4" stroke-width="2.3"/>
<line x1="1297.68" y1="1212.71" x2="1313.68" y2="1212.71" stroke="#7ab3f4" stroke-width="2.3"/>
<line x1="1416.29" y1="1230.63" x2="1416.29" y2="1222.63" stroke="#7ab3f4" stroke-width="2.3"/>
<line x1="1408.29" y1="1222.63" x2="1424.29" y2="1222.63" stroke="#7ab3f4" stroke-width="2.3"/>
<line x1="1526.9" y1="1229.4" x2="1526.9" y2="1219.4" stroke="#7ab3f4" stroke-width="2.3"/>
<line x1="1518.9" y1="1219.4" x2="1534.9" y2="1219.4" stroke="#7ab3f4" stroke-width="2.3"/>
<rect x="1150.85" y="1222.05" width="14.7" height="14.7" fill="#87bbf5" stroke="#7ab3f4" stroke-width="1.8" rx="1"/>
<rect x="1224.59" y="1210.99" width="14.7" height="14.7" fill="#87bbf5" stroke="#7ab3f4" stroke-width="1.8" rx="1"/>
<rect x="1298.33" y="1218.37" width="14.7" height="14.7" fill="#87bbf5" stroke="#7ab3f4" stroke-width="1.8" rx="1"/>
<rect x="1408.94" y="1223.28" width="14.7" height="14.7" fill="#87bbf5" stroke="#7ab3f4" stroke-width="1.8" rx="1"/>
<rect x="1519.55" y="1222.05" width="14.7" height="14.7" fill="#87bbf5" stroke="#7ab3f4" stroke-width="1.8" rx="1"/>
<polyline points="1158.2,1230.63 1231.94,1220.8 1305.68,1226.94 1379.42,1238 1416.29,1234.31 1453.16,1238 1490.03,1238 1526.9,1230.63 1563.77,1238 1600.64,1238" fill="none" stroke="#7c9fd4" stroke-width="2.3"/>
<line x1="1158.2" y1="1230.63" x2="1158.2" y2="1221.63" stroke="#7c9fd4" stroke-width="2.3"/>
<line x1="1150.2" y1="1221.63" x2="1166.2" y2="1221.63" stroke="#7c9fd4" stroke-width="2.3"/>
<line x1="1231.94" y1="1220.8" x2="1231.94" y2="1208.8" stroke="#7c9fd4" stroke-width="2.3"/>
<line x1="1223.94" y1="1208.8" x2="1239.94" y2="1208.8" stroke="#7c9fd4" stroke-width="2.3"/>
<line x1="1305.68" y1="1226.94" x2="1305.68" y2="1214.94" stroke="#7c9fd4" stroke-width="2.3"/>
<line x1="1297.68" y1="1214.94" x2="1313.68" y2="1214.94" stroke="#7c9fd4" stroke-width="2.3"/>
<line x1="1416.29" y1="1234.31" x2="1416.29" y2="1227.31" stroke="#7c9fd4" stroke-width="2.3"/>
<line x1="1408.29" y1="1227.31" x2="1424.29" y2="1227.31" stroke="#7c9fd4" stroke-width="2.3"/>
<line x1="1526.9" y1="1230.63" x2="1526.9" y2="1221.63" stroke="#7c9fd4" stroke-width="2.3"/>
<line x1="1518.9" y1="1221.63" x2="1534.9" y2="1221.63" stroke="#7c9fd4" stroke-width="2.3"/>
<rect x="1150.85" y="1223.28" width="14.7" height="14.7" fill="#89a9d8" stroke="#7c9fd4" stroke-width="1.8" rx="1"/>
<rect x="1224.59" y="1213.45" width="14.7" height="14.7" fill="#89a9d8" stroke="#7c9fd4" stroke-width="1.8" rx="1"/>
<rect x="1298.33" y="1219.59" width="14.7" height="14.7" fill="#89a9d8" stroke="#7c9fd4" stroke-width="1.8" rx="1"/>
<rect x="1408.94" y="1226.96" width="14.7" height="14.7" fill="#89a9d8" stroke="#7c9fd4" stroke-width="1.8" rx="1"/>
<rect x="1519.55" y="1223.28" width="14.7" height="14.7" fill="#89a9d8" stroke="#7c9fd4" stroke-width="1.8" rx="1"/>
<line x1="1231.94" y1="1213.5" x2="1231.94" y2="1189.25" stroke="#dba6a4" stroke-width="2.3"/>
<line x1="1223.94" y1="1189.25" x2="1239.94" y2="1189.25" stroke="#dba6a4" stroke-width="2.3"/>
<line x1="1305.68" y1="1160" x2="1305.68" y2="1140" stroke="#dba6a4" stroke-width="2.3"/>
<line x1="1297.68" y1="1140" x2="1313.68" y2="1140" stroke="#dba6a4" stroke-width="2.3"/>
<line x1="1379.42" y1="1105" x2="1379.42" y2="1084" stroke="#dba6a4" stroke-width="2.3"/>
<line x1="1371.42" y1="1084" x2="1387.42" y2="1084" stroke="#dba6a4" stroke-width="2.3"/>
<line x1="1416.29" y1="1036.25" x2="1416.29" y2="1000.75" stroke="#dba6a4" stroke-width="2.3"/>
<line x1="1408.29" y1="1000.75" x2="1424.29" y2="1000.75" stroke="#dba6a4" stroke-width="2.3"/>
<line x1="1453.16" y1="1008" x2="1453.16" y2="962.5" stroke="#dba6a4" stroke-width="2.3"/>
<line x1="1445.16" y1="962.5" x2="1461.16" y2="962.5" stroke="#dba6a4" stroke-width="2.3"/>
<line x1="1490.03" y1="987.5" x2="1490.03" y2="968" stroke="#dba6a4" stroke-width="2.3"/>
<line x1="1482.03" y1="968" x2="1498.03" y2="968" stroke="#dba6a4" stroke-width="2.3"/>
<line x1="1526.9" y1="1023.75" x2="1526.9" y2="995.5" stroke="#dba6a4" stroke-width="2.3"/>
<line x1="1518.9" y1="995.5" x2="1534.9" y2="995.5" stroke="#dba6a4" stroke-width="2.3"/>
<line x1="1563.77" y1="1042.5" x2="1563.77" y2="1012" stroke="#dba6a4" stroke-width="2.3"/>
<line x1="1555.77" y1="1012" x2="1571.77" y2="1012" stroke="#dba6a4" stroke-width="2.3"/>
<line x1="1600.64" y1="1066.25" x2="1600.64" y2="1032" stroke="#dba6a4" stroke-width="2.3"/>
<line x1="1592.64" y1="1032" x2="1608.64" y2="1032" stroke="#dba6a4" stroke-width="2.3"/>
<circle cx="1158.2" cy="1238" r="7.5" fill="#e8c5c4" stroke="#dba6a4" stroke-width="2.2"/>
<circle cx="1231.94" cy="1213.5" r="7.5" fill="#e8c5c4" stroke="#dba6a4" stroke-width="2.2"/>
<circle cx="1305.68" cy="1160" r="7.5" fill="#e8c5c4" stroke="#dba6a4" stroke-width="2.2"/>
<circle cx="1379.42" cy="1105" r="7.5" fill="#e8c5c4" stroke="#dba6a4" stroke-width="2.2"/>
<circle cx="1416.29" cy="1036.25" r="7.5" fill="#e8c5c4" stroke="#dba6a4" stroke-width="2.2"/>
<circle cx="1453.16" cy="1008" r="7.5" fill="#e8c5c4" stroke="#dba6a4" stroke-width="2.2"/>
<circle cx="1490.03" cy="987.5" r="7.5" fill="#e8c5c4" stroke="#dba6a4" stroke-width="2.2"/>
<circle cx="1526.9" cy="1023.75" r="7.5" fill="#e8c5c4" stroke="#dba6a4" stroke-width="2.2"/>
<circle cx="1563.77" cy="1042.5" r="7.5" fill="#e8c5c4" stroke="#dba6a4" stroke-width="2.2"/>
<circle cx="1600.64" cy="1066.25" r="7.5" fill="#e8c5c4" stroke="#dba6a4" stroke-width="2.2"/>
<polyline points="1158.2,1238 1231.94,1213.5 1305.68,1160 1379.42,1105 1416.29,1036.25 1453.16,1008 1490.03,987.5 1526.9,1023.75 1563.77,1042.5 1600.64,1066.25" fill="none" stroke="#dba6a4" stroke-width="2.3" stroke-linejoin="round"/>
<line x1="1231.94" y1="1212.5" x2="1231.94" y2="1200" stroke="#c67abe" stroke-width="2.3"/>
<line x1="1223.94" y1="1200" x2="1239.94" y2="1200" stroke="#c67abe" stroke-width="2.3"/>
<line x1="1305.68" y1="1152.5" x2="1305.68" y2="1126.25" stroke="#c67abe" stroke-width="2.3"/>
<line x1="1297.68" y1="1126.25" x2="1313.68" y2="1126.25" stroke="#c67abe" stroke-width="2.3"/>
<line x1="1379.42" y1="1087.5" x2="1379.42" y2="1045" stroke="#c67abe" stroke-width="2.3"/>
<line x1="1371.42" y1="1045" x2="1387.42" y2="1045" stroke="#c67abe" stroke-width="2.3"/>
<line x1="1416.29" y1="1053.75" x2="1416.29" y2="1011.25" stroke="#c67abe" stroke-width="2.3"/>
<line x1="1408.29" y1="1011.25" x2="1424.29" y2="1011.25" stroke="#c67abe" stroke-width="2.3"/>
<line x1="1453.16" y1="1008.75" x2="1453.16" y2="968.75" stroke="#c67abe" stroke-width="2.3"/>
<line x1="1445.16" y1="968.75" x2="1461.16" y2="968.75" stroke="#c67abe" stroke-width="2.3"/>
<line x1="1490.03" y1="1010" x2="1490.03" y2="981" stroke="#c67abe" stroke-width="2.3"/>
<line x1="1482.03" y1="981" x2="1498.03" y2="981" stroke="#c67abe" stroke-width="2.3"/>
<line x1="1526.9" y1="1070.5" x2="1526.9" y2="1041.25" stroke="#c67abe" stroke-width="2.3"/>
<line x1="1518.9" y1="1041.25" x2="1534.9" y2="1041.25" stroke="#c67abe" stroke-width="2.3"/>
<line x1="1563.77" y1="1111" x2="1563.77" y2="1093" stroke="#c67abe" stroke-width="2.3"/>
<line x1="1555.77" y1="1093" x2="1571.77" y2="1093" stroke="#c67abe" stroke-width="2.3"/>
<line x1="1600.64" y1="1164.25" x2="1600.64" y2="1133.25" stroke="#c67abe" stroke-width="2.3"/>
<line x1="1592.64" y1="1133.25" x2="1608.64" y2="1133.25" stroke="#c67abe" stroke-width="2.3"/>
<circle cx="1158.2" cy="1238" r="7.5" fill="#daa9d5" stroke="#c67abe" stroke-width="2.2"/>
<circle cx="1231.94" cy="1212.5" r="7.5" fill="#daa9d5" stroke="#c67abe" stroke-width="2.2"/>
<circle cx="1305.68" cy="1152.5" r="7.5" fill="#daa9d5" stroke="#c67abe" stroke-width="2.2"/>
<circle cx="1379.42" cy="1087.5" r="7.5" fill="#daa9d5" stroke="#c67abe" stroke-width="2.2"/>
<circle cx="1416.29" cy="1053.75" r="7.5" fill="#daa9d5" stroke="#c67abe" stroke-width="2.2"/>
<circle cx="1453.16" cy="1008.75" r="7.5" fill="#daa9d5" stroke="#c67abe" stroke-width="2.2"/>
<circle cx="1490.03" cy="1010" r="7.5" fill="#daa9d5" stroke="#c67abe" stroke-width="2.2"/>
<circle cx="1526.9" cy="1070.5" r="7.5" fill="#daa9d5" stroke="#c67abe" stroke-width="2.2"/>
<circle cx="1563.77" cy="1111" r="7.5" fill="#daa9d5" stroke="#c67abe" stroke-width="2.2"/>
<circle cx="1600.64" cy="1164.25" r="7.5" fill="#daa9d5" stroke="#c67abe" stroke-width="2.2"/>
<polyline points="1158.2,1238 1231.94,1212.5 1305.68,1152.5 1379.42,1087.5 1416.29,1053.75 1453.16,1008.75 1490.03,1010 1526.9,1070.5 1563.77,1111 1600.64,1164.25" fill="none" stroke="#c67abe" stroke-width="2.3" stroke-linejoin="round"/>
<line x1="1231.94" y1="1222.5" x2="1231.94" y2="1206.5" stroke="#7a82d8" stroke-width="2.3"/>
<line x1="1223.94" y1="1206.5" x2="1239.94" y2="1206.5" stroke="#7a82d8" stroke-width="2.3"/>
<line x1="1305.68" y1="1183" x2="1305.68" y2="1152.5" stroke="#7a82d8" stroke-width="2.3"/>
<line x1="1297.68" y1="1152.5" x2="1313.68" y2="1152.5" stroke="#7a82d8" stroke-width="2.3"/>
<line x1="1379.42" y1="1115" x2="1379.42" y2="1080.5" stroke="#7a82d8" stroke-width="2.3"/>
<line x1="1371.42" y1="1080.5" x2="1387.42" y2="1080.5" stroke="#7a82d8" stroke-width="2.3"/>
<line x1="1416.29" y1="1096.75" x2="1416.29" y2="1073.75" stroke="#7a82d8" stroke-width="2.3"/>
<line x1="1408.29" y1="1073.75" x2="1424.29" y2="1073.75" stroke="#7a82d8" stroke-width="2.3"/>
<line x1="1453.16" y1="1047.5" x2="1453.16" y2="1024.5" stroke="#7a82d8" stroke-width="2.3"/>
<line x1="1445.16" y1="1024.5" x2="1461.16" y2="1024.5" stroke="#7a82d8" stroke-width="2.3"/>
<line x1="1490.03" y1="987" x2="1490.03" y2="975" stroke="#7a82d8" stroke-width="2.3"/>
<line x1="1482.03" y1="975" x2="1498.03" y2="975" stroke="#7a82d8" stroke-width="2.3"/>
<line x1="1526.9" y1="1023" x2="1526.9" y2="1011.25" stroke="#7a82d8" stroke-width="2.3"/>
<line x1="1518.9" y1="1011.25" x2="1534.9" y2="1011.25" stroke="#7a82d8" stroke-width="2.3"/>
<line x1="1563.77" y1="1035.75" x2="1563.77" y2="1023.75" stroke="#7a82d8" stroke-width="2.3"/>
<line x1="1555.77" y1="1023.75" x2="1571.77" y2="1023.75" stroke="#7a82d8" stroke-width="2.3"/>
<line x1="1600.64" y1="1048" x2="1600.64" y2="1035" stroke="#7a82d8" stroke-width="2.3"/>
<line x1="1592.64" y1="1035" x2="1608.64" y2="1035" stroke="#7a82d8" stroke-width="2.3"/>
<circle cx="1158.2" cy="1238" r="7.5" fill="#a9aee6" stroke="#7a82d8" stroke-width="2.2"/>
<circle cx="1231.94" cy="1222.5" r="7.5" fill="#a9aee6" stroke="#7a82d8" stroke-width="2.2"/>
<circle cx="1305.68" cy="1183" r="7.5" fill="#a9aee6" stroke="#7a82d8" stroke-width="2.2"/>
<circle cx="1379.42" cy="1115" r="7.5" fill="#a9aee6" stroke="#7a82d8" stroke-width="2.2"/>
<circle cx="1416.29" cy="1096.75" r="7.5" fill="#a9aee6" stroke="#7a82d8" stroke-width="2.2"/>
<circle cx="1453.16" cy="1047.5" r="7.5" fill="#a9aee6" stroke="#7a82d8" stroke-width="2.2"/>
<circle cx="1490.03" cy="987" r="7.5" fill="#a9aee6" stroke="#7a82d8" stroke-width="2.2"/>
<circle cx="1526.9" cy="1023" r="7.5" fill="#a9aee6" stroke="#7a82d8" stroke-width="2.2"/>
<circle cx="1563.77" cy="1035.75" r="7.5" fill="#a9aee6" stroke="#7a82d8" stroke-width="2.2"/>
<circle cx="1600.64" cy="1048" r="7.5" fill="#a9aee6" stroke="#7a82d8" stroke-width="2.2"/>
<polyline points="1158.2,1238 1231.94,1222.5 1305.68,1183 1379.42,1115 1416.29,1096.75 1453.16,1047.5 1490.03,987 1526.9,1023 1563.77,1035.75 1600.64,1048" fill="none" stroke="#7a82d8" stroke-width="2.3" stroke-linejoin="round"/>
<polyline points="1158.2,1238 1231.94,1238 1305.68,1232.35 1379.42,1238 1416.29,1238 1453.16,1238 1490.03,1238 1526.9,1238 1563.77,1238 1600.64,1238" fill="none" stroke="#2b7e98" stroke-width="2.6"/>
<rect x="1150.8" y="1230.6" width="14.8" height="14.8" fill="#4f9b98" stroke="#15889a" stroke-width="2.2" rx="1"/>
<line x1="1151.7" y1="1238" x2="1164.7" y2="1238" stroke="#2b7e98" stroke-width="1.6" opacity="0.6"/>
<rect x="1224.54" y="1230.6" width="14.8" height="14.8" fill="#4f9b98" stroke="#15889a" stroke-width="2.2" rx="1"/>
<line x1="1225.44" y1="1238" x2="1238.44" y2="1238" stroke="#2b7e98" stroke-width="1.6" opacity="0.6"/>
<line x1="1305.68" y1="1232.35" x2="1305.68" y2="1226.35" stroke="#15889a" stroke-width="2.3"/>
<line x1="1297.68" y1="1226.35" x2="1313.68" y2="1226.35" stroke="#15889a" stroke-width="2.3"/>
<rect x="1298.28" y="1224.95" width="14.8" height="14.8" fill="#4f9b98" stroke="#15889a" stroke-width="2.2" rx="1"/>
<line x1="1299.18" y1="1232.35" x2="1312.18" y2="1232.35" stroke="#2b7e98" stroke-width="1.6" opacity="0.6"/>
<rect x="1372.02" y="1230.6" width="14.8" height="14.8" fill="#4f9b98" stroke="#15889a" stroke-width="2.2" rx="1"/>
<line x1="1372.92" y1="1238" x2="1385.92" y2="1238" stroke="#2b7e98" stroke-width="1.6" opacity="0.6"/>
<rect x="1408.89" y="1230.6" width="14.8" height="14.8" fill="#4f9b98" stroke="#15889a" stroke-width="2.2" rx="1"/>
<line x1="1409.79" y1="1238" x2="1422.79" y2="1238" stroke="#2b7e98" stroke-width="1.6" opacity="0.6"/>
<rect x="1445.76" y="1230.6" width="14.8" height="14.8" fill="#4f9b98" stroke="#15889a" stroke-width="2.2" rx="1"/>
<line x1="1446.66" y1="1238" x2="1459.66" y2="1238" stroke="#2b7e98" stroke-width="1.6" opacity="0.6"/>
<rect x="1482.63" y="1230.6" width="14.8" height="14.8" fill="#4f9b98" stroke="#15889a" stroke-width="2.2" rx="1"/>
<line x1="1483.53" y1="1238" x2="1496.53" y2="1238" stroke="#2b7e98" stroke-width="1.6" opacity="0.6"/>
<rect x="1519.5" y="1230.6" width="14.8" height="14.8" fill="#4f9b98" stroke="#15889a" stroke-width="2.2" rx="1"/>
<line x1="1520.4" y1="1238" x2="1533.4" y2="1238" stroke="#2b7e98" stroke-width="1.6" opacity="0.6"/>
<rect x="1556.37" y="1230.6" width="14.8" height="14.8" fill="#4f9b98" stroke="#15889a" stroke-width="2.2" rx="1"/>
<line x1="1557.27" y1="1238" x2="1570.27" y2="1238" stroke="#2b7e98" stroke-width="1.6" opacity="0.6"/>
<rect x="1593.24" y="1230.6" width="14.8" height="14.8" fill="#4f9b98" stroke="#15889a" stroke-width="2.2" rx="1"/>
<line x1="1594.14" y1="1238" x2="1607.14" y2="1238" stroke="#2b7e98" stroke-width="1.6" opacity="0.6"/>
</g>
<g id="pd">
<text transform="translate(0 1469.3) scale(1.05 1)" font-size="46" font-weight="bold">d</text>
<g transform="translate(175.8 1582) scale(79.7 1)" shape-rendering="crispEdges" fill="none" stroke-width="1">
<path d="M7 109.5h1" stroke="#000080"/>
<path d="M7 99.5h1" stroke="#0e0e87"/>
<path d="M7 111.5h1" stroke="#15158b"/>
<path d="M7 108.5h1m-1 13h1" stroke="#1c1c8e"/>
<path d="M2 607.5h1m4 -484h1m-1 17h1" stroke="#232392"/>
<path d="M2 606.5h1m-1 159h1m4 -655h1m-1 19h1" stroke="#2a2a95"/>
<path d="M2 764.5h1m4 -681h1m-1 39h1m0 1h1m-1 125h1" stroke="#323299"/>
<path d="M2 608.5h1m-1 1h1m-1 3h1m-1 8h1m4 -523h1m-1 7h1m0 -75h1" stroke="#39399c"/>
<path d="M2 569.5h1m-1 1h1m-1 196h1m4 -680h1m-1 8h1m-1 22h1m-1 14h1m-1 11h1m0 -21h1m-1 120h1m-1 21h1" stroke="#4040a0"/>
<path d="M2 611.5h1m-1 7h1m1 78h1m-1 1h1m2 -635h1m-1 25h1m-1 8h1m-1 10h1m-1 37h1m-1 23h1m-1 29h1m0 -192h1m-1 117h1m-1 2h1m-1 4h1m-1 122h1m-1 3h1" stroke="#4747a3"/>
<path d="M2 508.5h1m-1 16h1m-1 36h1m-1 2h1m-1 29h1m-1 14h1m-1 5h1m-1 11h1m-1 77h1m1 -125h1m-1 1h1m-1 121h1m2 -679h1m-1 16h1m-1 29h1m-1 21h1m-1 16h1m-1 14h1m-1 8h1m-1 26h1m-1 23h1m0 -166h1m-1 27h1m-1 7h1m-1 31h1m-1 50h1m-1 99h1m-1 50h1m-1 1h1" stroke="#4e4ea7"/>
<path d="M2 551.5h1m-1 29h1m-1 34h1m-1 65h1m-1 2h1m-1 12h1m-1 3h1m-1 54h1m-1 13h1m1 -363h1m-1 2h1m-1 268h1m-1 5h1m-1 18h1m0 -453h1m1 -207h1m-1 45h1m-1 6h1m-1 12h1m-1 4h1m-1 25h1m-1 47h1m-1 1h1m-1 8h1m-1 4h1m-1 1h1m-1 80h1m0 -252h1m-1 51h1m-1 38h1m-1 5h1m-1 70h1m-1 3h1m-1 27h1m-1 10h1m-1 31h1" stroke="#5555aa"/>
<path d="M2 402.5h1m-1 121h1m-1 30h1m-1 2h1m-1 60h1m-1 4h1m-1 78h1m-1 10h1m-1 60h1m0 -463h1m-1 116h1m-1 149h1m-1 13h1m-1 104h1m0 -285h1m-1 164h1m-1 21h1m-1 52h1m-1 20h1m-1 9h1m-1 10h1m-1 15h1m-1 2h1m1 -444h1m0 -198h1m-1 22h1m-1 14h1m-1 5h1m-1 8h1m-1 1h1m-1 1h1m-1 12h1m-1 19h1m-1 5h1m-1 17h1m-1 14h1m-1 4h1m-1 4h1m0 -169h1m-1 13h1m-1 10h1m-1 84h1m-1 1h1m-1 12h1m-1 1h1m-1 52h1m-1 56h1m-1 1h1m-1 3h1m-1 16h1m-1 4h1m-1 1h1" stroke="#5c5cae"/>
<path d="M2 292.5h1m-1 113h1m-1 105h1m-1 25h1m-1 1h1m-1 27h1m-1 5h1m-1 10h1m-1 1h1m-1 23h1m-1 1h1m-1 10h1m-1 11h1m-1 4h1m-1 50h1m-1 2h1m-1 11h1m-1 12h1m-1 1h1m-1 2h1m-1 50h1m-1 4h1m-1 2h1m0 -85h1m0 -278h1m-1 5h1m-1 183h1m-1 81h1m0 -654h1m-1 15h1m-1 36h1m0 161h1m-1 16h1m-1 24h1m0 -259h1m-1 8h1m-1 19h1m-1 6h1m-1 49h1m-1 25h1m0 -75h1m-1 2h1m-1 7h1m-1 54h1m-1 10h1m-1 12h1m-1 59h1m-1 49h1m-1 13h1m-1 6h1m-1 4h1m-1 2h1m-1 3h1" stroke="#6363b1"/>
<path d="M2 295.5h1m-1 38h1m-1 182h1m-1 7h1m-1 10h1m-1 18h1m-1 4h1m-1 22h1m-1 28h1m-1 12h1m-1 59h1m-1 30h1m-1 43h1m-1 7h1m-1 6h1m0 -458h1m-1 3h1m-1 105h1m-1 254h1m0 -304h1m-1 162h1m-1 49h1m-1 11h1m-1 2h1m-1 4h1m-1 25h1m-1 18h1m-1 3h1m-1 43h1m0 -646h1m-1 2h1m-1 5h1m-1 16h1m-1 20h1m0 -10h1m0 0h1m-1 10h1m-1 4h1m-1 1h1m-1 11h1m-1 56h1m-1 17h1m-1 2h1m-1 5h1m-1 4h1m-1 9h1m-1 12h1m-1 20h1m-1 56h1m0 -257h1m-1 1h1m-1 15h1m-1 9h1m-1 27h1m-1 5h1m-1 3h1m-1 7h1m-1 1h1m-1 10h1m-1 22h1m-1 26h1m-1 86h1m-1 19h1m-1 13h1m-1 11h1" stroke="#6a6ab5"/>
<path d="M2 297.5h1m-1 131h1m-1 1h1m-1 78h1m-1 2h1m-1 16h1m-1 23h1m-1 17h1m-1 6h1m-1 15h1m-1 31h1m-1 53h1m-1 12h1m-1 13h1m-1 54h1m-1 10h1m0 -458h1m-1 270h1m-1 125h1m0 -318h1m-1 19h1m-1 6h1m-1 8h1m-1 113h1m-1 17h1m-1 107h1m-1 11h1m-1 15h1m-1 57h1m0 -704h1m-1 211h1m-1 1h1m-1 3h1m-1 1h1m-1 24h1m-1 6h1m-1 11h1m-1 87h1m0 -309h1m0 -56h1m-1 23h1m-1 31h1m-1 17h1m-1 15h1m-1 14h1m-1 7h1m-1 6h1m-1 5h1m-1 9h1m-1 20h1m-1 15h1m-1 15h1m-1 12h1m-1 8h1m-1 1h1m0 -197h1m-1 1h1m-1 2h1m-1 56h1m-1 8h1m-1 40h1m-1 8h1m-1 4h1m-1 1h1m-1 15h1m-1 22h1m-1 2h1m-1 6h1m-1 12h1m-1 38h1m-1 11h1m-1 11h1m-1 9h1" stroke="#7171b8"/>
<path d="M2 323.5h1m-1 88h1m-1 1h1m-1 116h1m-1 5h1m-1 16h1m-1 12h1m-1 31h1m-1 30h1m-1 5h1m-1 12h1m-1 32h1m-1 6h1m-1 13h1m-1 2h1m-1 9h1m-1 7h1m-1 17h1m-1 1h1m-1 15h1m-1 10h1m0 -455h1m-1 1h1m-1 12h1m-1 206h1m-1 58h1m-1 13h1m-1 2h1m-1 18h1m-1 70h1m0 -303h1m-1 32h1m-1 8h1m-1 112h1m-1 10h1m-1 8h1m-1 8h1m-1 20h1m-1 7h1m-1 10h1m-1 53h1m-1 35h1m-1 30h1m-1 11h1m-1 10h1m-1 8h1m-1 29h1m-1 2h1m0 -753h1m-1 2h1m-1 26h1m-1 33h1m-1 98h1m-1 50h1m-1 13h1m-1 9h1m-1 101h1m-1 16h1m-1 12h1m0 -321h1m-1 9h1m-1 13h1m-1 143h1m-1 29h1m-1 12h1m-1 9h1m0 -232h1m-1 20h1m-1 16h1m-1 10h1m-1 9h1m-1 17h1m-1 11h1m-1 13h1m-1 4h1m-1 2h1m-1 12h1m-1 30h1m-1 8h1m-1 5h1m-1 15h1m-1 19h1m-1 14h1m-1 16h1m0 -243h1m-1 10h1m-1 5h1m-1 5h1m-1 1h1m-1 47h1m-1 23h1m-1 3h1m-1 4h1m-1 2h1m-1 49h1m-1 12h1m-1 6h1m-1 10h1m-1 7h1m-1 68h1m-1 8h1" stroke="#7878bc"/>
<path d="M2 293.5h1m-1 73h1m-1 18h1m-1 88h1m-1 54h1m-1 3h1m-1 13h1m-1 1h1m-1 29h1m-1 1h1m-1 17h1m-1 4h1m-1 35h1m-1 9h1m-1 3h1m-1 7h1m-1 35h1m-1 3h1m-1 13h1m-1 13h1m-1 17h1m-1 1h1m-1 10h1m-1 2h1m0 -440h1m-1 3h1m-1 5h1m-1 42h1m-1 9h1m-1 2h1m-1 39h1m-1 202h1m-1 1h1m-1 56h1m-1 5h1m-1 29h1m0 -389h1m-1 65h1m-1 10h1m-1 17h1m-1 215h1m-1 36h1m-1 3h1m-1 19h1m0 -643h1m-1 5h1m-1 11h1m-1 22h1m-1 195h1m-1 2h1m-1 3h1m-1 75h1m0 -264h1m-1 117h1m-1 2h1m-1 42h1m-1 2h1m-1 1h1m-1 8h1m-1 23h1m-1 1h1m0 -234h1m-1 20h1m-1 5h1m-1 4h1m-1 5h1m-1 65h1m-1 7h1m-1 5h1m-1 2h1m-1 6h1m-1 18h1m-1 1h1m-1 3h1m-1 22h1m-1 6h1m-1 34h1m-1 20h1m-1 1h1m-1 4h1m0 -266h1m-1 5h1m-1 32h1m-1 4h1m-1 28h1m-1 3h1m-1 33h1m-1 4h1m-1 38h1m-1 1h1m-1 2h1m-1 56h1m-1 9h1m-1 3h1m-1 7h1m-1 2h1m-1 3h1m-1 35h1" stroke="#8080c0"/>
<path d="M0 338.5h2m0 -66h1m-1 13h1m-1 36h1m-1 40h1m-1 1h1m-1 28h1m-1 25h1m-1 5h1m-1 68h1m-1 1h1m-1 45h1m-1 10h1m-1 23h1m-1 56h1m-1 2h1m-1 28h1m-1 3h1m-1 28h1m-1 3h1m-1 7h1m-1 38h1m-1 20h1m-1 1h1m0 -460h1m-1 14h1m-1 37h1m-1 7h1m-1 5h1m-1 15h1m-1 2h1m-1 1h1m-1 27h1m-1 8h1m-1 142h1m-1 11h1m-1 8h1m-1 8h1m-1 70h1m-1 14h1m-1 16h1m-1 16h1m-1 13h1m-1 57h1m-1 3h1m0 -471h1m-1 1h1m-1 8h1m-1 55h1m-1 27h1m-1 9h1m-1 23h1m-1 11h1m-1 19h1m-1 67h1m-1 5h1m-1 1h1m-1 22h1m-1 24h1m-1 23h1m-1 25h1m-1 23h1m-1 1h1m-1 4h1m-1 11h1m-1 14h1m-1 14h1m-1 3h1m-1 21h1m-1 1h1m-1 18h1m-1 8h1m-1 31h1m0 -749h1m-1 5h1m-1 9h1m-1 10h1m-1 9h1m-1 1h1m-1 165h1m-1 155h1m-1 7h1m-1 25h1m-1 26h1m-1 1h1m0 -422h1m-1 49h1m-1 7h1m-1 5h1m-1 1h1m-1 7h1m-1 140h1m-1 23h1m-1 43h1m-1 1h1m-1 1h1m0 -284h1m-1 5h1m-1 4h1m-1 5h1m-1 3h1m-1 1h1m-1 4h1m-1 3h1m-1 6h1m-1 10h1m-1 10h1m-1 3h1m-1 2h1m-1 7h1m-1 7h1m-1 15h1m-1 72h1m-1 33h1m-1 41h1m-1 17h1m-1 9h1m-1 16h1m0 -269h1m-1 14h1m-1 3h1m-1 29h1m-1 12h1m-1 1h1m-1 1h1m-1 5h1m-1 71h1m-1 4h1m-1 2h1m-1 17h1m-1 2h1m-1 2h1m-1 1h1m-1 20h1m-1 55h1m-1 13h1m-1 16h1m-1 3h1m-1 10h1" stroke="#8787c3"/>
<path d="M0 329.5h2m-2 329h2m0 -391h1m-1 17h1m-1 25h1m-1 47h1m-1 17h1m-1 16h1m-1 4h1m-1 13h1m-1 1h1m-1 20h1m-1 18h1m-1 61h1m-1 11h1m-1 21h1m-1 1h1m-1 7h1m-1 18h1m-1 13h1m-1 16h1m-1 3h1m-1 3h1m-1 1h1m-1 36h1m-1 10h1m-1 9h1m-1 21h1m-1 12h1m-1 12h1m-1 11h1m-1 2h1m-1 14h1m-1 11h1m-1 16h1m-1 3h1m0 -404h1m-1 9h1m-1 38h1m-1 13h1m-1 2h1m-1 14h1m-1 96h1m-1 39h1m-1 8h1m-1 11h1m-1 39h1m-1 53h1m-1 13h1m-1 13h1m-1 5h1m-1 60h1m0 -457h1m-1 65h1m-1 46h1m-1 12h1m-1 57h1m-1 90h1m-1 1h1m-1 10h1m-1 22h1m-1 3h1m-1 9h1m-1 1h1m-1 8h1m-1 10h1m-1 4h1m-1 4h1m-1 34h1m-1 3h1m-1 3h1m-1 7h1m-1 7h1m-1 8h1m-1 6h1m-1 4h1m-1 9h1m-1 28h1m0 -757h1m-1 6h1m-1 13h1m-1 3h1m-1 21h1m-1 6h1m-1 4h1m-1 6h1m-1 112h1m-1 38h1m-1 11h1m-1 3h1m-1 11h1m-1 11h1m-1 87h1m-1 9h1m-1 18h1m-1 85h1m-1 40h1m-1 48h1m-1 1h1m-1 24h1m-1 68h1m0 -568h1m-1 6h1m-1 68h1m-1 6h1m-1 35h1m-1 38h1m-1 21h1m-1 31h1m0 -245h1m-1 22h1m-1 6h1m-1 28h1m-1 51h1m-1 1h1m-1 16h1m-1 23h1m-1 21h1m-1 17h1m-1 5h1m-1 39h1m-1 12h1m-1 15h1m0 -271h1m-1 20h1m-1 2h1m-1 8h1m-1 10h1m-1 7h1m-1 25h1m-1 7h1m-1 1h1m-1 3h1m-1 4h1m-1 8h1m-1 39h1m-1 16h1m-1 4h1m-1 20h1m-1 6h1m-1 1h1m-1 51h1m-1 15h1" stroke="#8e8ec7"/>
<path d="M0 287.5h2m-2 49h2m-2 3h2m-2 177h2m-2 9h2m-2 141h2m-2 4h2m-2 74h2m-2 15h2m0 -489h1m-1 47h1m-1 38h1m-1 3h1m-1 14h1m-1 13h1m-1 14h1m-1 1h1m-1 14h1m-1 25h1m-1 2h1m-1 1h1m-1 1h1m-1 16h1m-1 23h1m-1 31h1m-1 1h1m-1 2h1m-1 11h1m-1 10h1m-1 3h1m-1 41h1m-1 2h1m-1 2h1m-1 12h1m-1 36h1m-1 7h1m-1 21h1m-1 2h1m-1 1h1m-1 3h1m-1 2h1m-1 49h1m-1 13h1m0 -432h1m-1 9h1m-1 31h1m-1 10h1m-1 6h1m-1 17h1m-1 17h1m-1 2h1m-1 5h1m-1 25h1m-1 5h1m-1 116h1m-1 19h1m-1 24h1m-1 39h1m-1 22h1m-1 11h1m-1 30h1m-1 10h1m-1 5h1m-1 61h1m0 -460h1m-1 12h1m-1 29h1m-1 4h1m-1 9h1m-1 1h1m-1 14h1m-1 5h1m-1 15h1m-1 20h1m-1 2h1m-1 8h1m-1 19h1m-1 41h1m-1 33h1m-1 11h1m-1 16h1m-1 8h1m-1 8h1m-1 9h1m-1 10h1m-1 51h1m-1 26h1m-1 3h1m-1 3h1m-1 3h1m-1 2h1m-1 14h1m-1 2h1m-1 3h1m-1 5h1m-1 13h1m-1 18h1m-1 10h1m-1 31h1m-1 1h1m0 -762h1m-1 8h1m-1 9h1m-1 1h1m-1 5h1m-1 3h1m-1 5h1m-1 7h1m-1 5h1m-1 21h1m-1 9h1m-1 3h1m-1 95h1m-1 19h1m-1 23h1m-1 8h1m-1 51h1m-1 2h1m-1 22h1m-1 59h1m-1 11h1m-1 6h1m-1 31h1m-1 134h1m-1 24h1m-1 116h1m-1 18h1m-1 1h1m-1 1h1m-1 3h1m0 -650h1m-1 5h1m-1 4h1m-1 8h1m-1 3h1m-1 8h1m-1 149h1m-1 9h1m-1 21h1m-1 5h1m0 -261h1m-1 2h1m-1 5h1m-1 2h1m-1 11h1m-1 16h1m-1 21h1m-1 8h1m-1 3h1m-1 57h1m-1 10h1m-1 15h1m-1 3h1m-1 1h1m-1 7h1m-1 20h1m-1 7h1m-1 17h1m-1 3h1m-1 3h1m-1 3h1m-1 12h1m-1 6h1m-1 25h1m-1 10h1m-1 2h1m-1 1h1m-1 11h1m0 -282h1m-1 12h1m-1 12h1m-1 2h1m-1 10h1m-1 13h1m-1 10h1m-1 19h1m-1 2h1m-1 14h1m-1 1h1m-1 33h1m-1 28h1m-1 17h1m-1 21h1m-1 16h1m-1 3h1m-1 8h1m-1 8h1m-1 1h1m-1 11h1m-1 28h1m-1 5h1m-1 7h1m-1 1h1" stroke="#9595ca"/>
<path d="M0 288.5h2m-2 1h2m-2 26h2m-2 1h2m-2 1h2m-2 13h2m-2 1h2m-2 2h2m-2 8h2m-2 174h2m-2 99h2m-2 50h2m-2 1h2m-2 4h2m-2 6h2m-2 1h2m0 -405h1m-1 25h1m-1 8h1m-1 1h1m-1 7h1m-1 37h1m-1 15h1m-1 13h1m-1 6h1m-1 9h1m-1 9h1m-1 8h1m-1 7h1m-1 14h1m-1 28h1m-1 12h1m-1 7h1m-1 25h1m-1 16h1m-1 23h1m-1 11h1m-1 22h1m-1 21h1m-1 47h1m-1 1h1m-1 15h1m-1 4h1m-1 23h1m-1 29h1m-1 1h1m-1 4h1m-1 4h1m-1 11h1m-1 24h1m-1 10h1m0 -430h1m-1 16h1m-1 3h1m-1 9h1m-1 32h1m-1 1h1m-1 9h1m-1 4h1m-1 12h1m-1 3h1m-1 1h1m-1 95h1m-1 3h1m-1 29h1m-1 19h1m-1 73h1m-1 2h1m-1 30h1m-1 2h1m-1 8h1m-1 4h1m-1 5h1m-1 1h1m-1 1h1m0 -396h1m-1 7h1m-1 51h1m-1 2h1m-1 11h1m-1 7h1m-1 28h1m-1 5h1m-1 6h1m-1 8h1m-1 59h1m-1 39h1m-1 1h1m-1 6h1m-1 4h1m-1 1h1m-1 16h1m-1 11h1m-1 4h1m-1 36h1m-1 1h1m-1 30h1m-1 29h1m-1 14h1m-1 21h1m-1 2h1m-1 12h1m-1 1h1m-1 20h1m-1 12h1m0 -747h1m-1 4h1m-1 14h1m-1 1h1m-1 15h1m-1 2h1m-1 5h1m-1 12h1m-1 9h1m-1 6h1m-1 2h1m-1 1h1m-1 132h1m-1 1h1m-1 11h1m-1 11h1m-1 6h1m-1 29h1m-1 3h1m-1 21h1m-1 50h1m-1 13h1m-1 4h1m-1 4h1m-1 7h1m-1 1h1m-1 35h1m-1 1h1m-1 10h1m-1 61h1m-1 22h1m-1 40h1m-1 7h1m-1 1h1m-1 41h1m-1 33h1m-1 49h1m-1 3h1m-1 2h1m0 -665h1m-1 17h1m-1 18h1m-1 9h1m-1 9h1m-1 6h1m-1 9h1m-1 12h1m-1 101h1m-1 1h1m-1 18h1m-1 7h1m-1 3h1m-1 4h1m-1 16h1m-1 2h1m-1 6h1m-1 2h1m-1 2h1m0 -223h1m-1 48h1m-1 60h1m-1 11h1m-1 5h1m-1 43h1m-1 6h1m-1 20h1m-1 17h1m-1 4h1m-1 1h1m-1 4h1m-1 22h1m-1 4h1m-1 8h1m0 -260h1m-1 62h1m-1 12h1m-1 5h1m-1 13h1m-1 29h1m-1 7h1m-1 2h1m-1 3h1m-1 2h1m-1 9h1m-1 8h1m-1 6h1m-1 2h1m-1 14h1m-1 43h1m-1 2h1m-1 18h1m-1 29h1m-1 1h1" stroke="#9c9cce"/>
<path d="M0 290.5h2m-2 23h2m-2 10h2m-2 17h2m-2 195h2m-2 93h2m-2 15h2m-2 5h2m-2 7h2m-2 2h2m-2 10h2m-2 74h2m-2 1h2m-2 6h2m-2 1h2m-2 12h2m-2 5h2m0 -500h1m-1 17h1m-1 33h1m-1 13h1m-1 5h1m-1 17h1m-1 9h1m-1 5h1m-1 11h1m-1 2h1m-1 13h1m-1 12h1m-1 10h1m-1 31h1m-1 13h1m-1 30h1m-1 3h1m-1 4h1m-1 1h1m-1 8h1m-1 44h1m-1 54h1m-1 53h1m-1 12h1m-1 2h1m-1 6h1m-1 36h1m-1 25h1m-1 2h1m0 -439h1m-1 2h1m-1 29h1m-1 7h1m-1 7h1m-1 15h1m-1 19h1m-1 5h1m-1 15h1m-1 17h1m-1 8h1m-1 1h1m-1 75h1m-1 16h1m-1 2h1m-1 4h1m-1 30h1m-1 2h1m-1 11h1m-1 21h1m-1 44h1m-1 23h1m-1 29h1m-1 12h1m-1 11h1m0 -556h1m-1 151h1m-1 1h1m-1 1h1m-1 2h1m-1 8h1m-1 6h1m-1 60h1m-1 8h1m-1 2h1m-1 5h1m-1 17h1m-1 8h1m-1 20h1m-1 111h1m-1 5h1m-1 1h1m-1 23h1m-1 42h1m-1 4h1m-1 4h1m-1 8h1m-1 2h1m-1 6h1m-1 11h1m-1 3h1m-1 6h1m-1 11h1m-1 9h1m-1 5h1m-1 17h1m-1 5h1m-1 2h1m-1 3h1m-1 4h1m-1 34h1m0 -748h1m-1 20h1m-1 21h1m-1 94h1m-1 7h1m-1 1h1m-1 26h1m-1 51h1m-1 8h1m-1 2h1m-1 16h1m-1 14h1m-1 48h1m-1 36h1m-1 10h1m-1 5h1m-1 6h1m-1 40h1m-1 17h1m-1 12h1m-1 45h1m-1 2h1m-1 1h1m-1 13h1m-1 74h1m-1 5h1m-1 7h1m-1 30h1m-1 14h1m-1 72h1m0 -662h1m-1 15h1m-1 3h1m-1 85h1m-1 5h1m-1 5h1m-1 8h1m-1 48h1m-1 15h1m-1 10h1m-1 11h1m-1 4h1m0 -246h1m-1 9h1m-1 1h1m-1 35h1m-1 70h1m-1 44h1m-1 57h1m-1 57h1m-1 11h1m-1 3h1m0 -269h1m-1 26h1m-1 5h1m-1 4h1m-1 3h1m-1 18h1m-1 14h1m-1 11h1m-1 52h1m-1 23h1m-1 13h1m-1 20h1m-1 2h1m-1 12h1m-1 41h1m-1 7h1m-1 5h1" stroke="#a3a3d1"/>
<path d="M0 291.5h2m-2 1h2m-2 43h2m-2 7h2m-2 117h2m-2 75h2m-2 2h2m-2 77h2m-2 38h2m-2 8h2m-2 3h2m-2 1h2m-2 5h2m-2 9h2m-2 8h2m-2 2h2m-2 24h2m-2 21h2m-2 15h2m-2 8h2m-2 9h2m0 -491h1m-1 9h1m-1 20h1m-1 6h1m-1 22h1m-1 9h1m-1 3h1m-1 15h1m-1 17h1m-1 34h1m-1 9h1m-1 4h1m-1 5h1m-1 14h1m-1 33h1m-1 3h1m-1 4h1m-1 76h1m-1 3h1m-1 16h1m-1 14h1m-1 55h1m-1 3h1m-1 62h1m-1 7h1m-1 28h1m-1 3h1m0 -455h1m-1 36h1m-1 17h1m-1 5h1m-1 14h1m-1 4h1m-1 13h1m-1 11h1m-1 14h1m-1 4h1m-1 15h1m-1 10h1m-1 7h1m-1 7h1m-1 31h1m-1 47h1m-1 14h1m-1 18h1m-1 6h1m-1 15h1m-1 16h1m-1 6h1m-1 1h1m-1 8h1m-1 39h1m-1 35h1m-1 6h1m-1 43h1m-1 31h1m0 -453h1m-1 14h1m-1 24h1m-1 13h1m-1 7h1m-1 19h1m-1 20h1m-1 8h1m-1 7h1m-1 1h1m-1 1h1m-1 2h1m-1 6h1m-1 11h1m-1 1h1m-1 1h1m-1 1h1m-1 8h1m-1 18h1m-1 40h1m-1 5h1m-1 17h1m-1 4h1m-1 9h1m-1 8h1m-1 12h1m-1 15h1m-1 116h1m-1 22h1m-1 3h1m-1 18h1m-1 4h1m0 -737h1m-1 1h1m-1 1h1m-1 35h1m-1 1h1m-1 9h1m-1 118h1m-1 3h1m-1 13h1m-1 26h1m-1 8h1m-1 24h1m-1 2h1m-1 30h1m-1 6h1m-1 52h1m-1 7h1m-1 10h1m-1 11h1m-1 7h1m-1 51h1m-1 16h1m-1 2h1m-1 6h1m-1 43h1m-1 3h1m-1 6h1m-1 32h1m-1 36h1m-1 3h1m-1 95h1m-1 12h1m-1 1h1m-1 1h1m0 -675h1m-1 8h1m-1 13h1m-1 15h1m-1 6h1m-1 3h1m-1 80h1m-1 8h1m-1 10h1m-1 2h1m-1 25h1m-1 30h1m-1 12h1m-1 43h1m-1 7h1m0 -255h1m-1 6h1m-1 7h1m-1 4h1m-1 15h1m-1 4h1m-1 1h1m-1 7h1m-1 10h1m-1 96h1m-1 59h1m-1 6h1m-1 4h1m-1 9h1m-1 11h1m-1 12h1m-1 14h1m-1 1h1m-1 1h1m-1 1h1m-1 3h1m0 -265h1m-1 24h1m-1 4h1m-1 24h1m-1 16h1m-1 2h1m-1 8h1m-1 61h1m-1 34h1m-1 3h1m-1 1h1m-1 5h1m-1 2h1m-1 2h1m-1 10h1m-1 9h1m-1 1h1m-1 54h1m-1 9h1" stroke="#aaaad5"/>
<path d="M0 295.5h2m-2 26h2m-2 11h2m-2 5h2m-2 177h2m-2 5h2m-2 5h2m-2 5h2m-2 3h2m-2 6h2m-2 1h2m-2 79h2m-2 20h2m-2 7h2m-2 2h2m-2 13h2m-2 1h2m-2 12h2m-2 13h2m-2 24h2m-2 33h2m-2 2h2m-2 5h2m-2 7h2m0 -489h1m-1 19h1m-1 11h1m-1 12h1m-1 1h1m-1 11h1m-1 4h1m-1 5h1m-1 1h1m-1 3h1m-1 3h1m-1 12h1m-1 9h1m-1 4h1m-1 19h1m-1 22h1m-1 34h1m-1 33h1m-1 25h1m-1 23h1m-1 1h1m-1 25h1m-1 37h1m-1 44h1m-1 6h1m-1 17h1m-1 8h1m-1 45h1m-1 22h1m-1 21h1m0 -434h1m-1 1h1m-1 53h1m-1 2h1m-1 13h1m-1 7h1m-1 3h1m-1 26h1m-1 2h1m-1 22h1m-1 3h1m-1 3h1m-1 28h1m-1 5h1m-1 7h1m-1 16h1m-1 11h1m-1 19h1m-1 4h1m-1 17h1m-1 15h1m-1 9h1m-1 10h1m-1 7h1m-1 36h1m-1 15h1m-1 15h1m-1 3h1m-1 1h1m-1 3h1m-1 15h1m-1 8h1m-1 15h1m0 -404h1m-1 28h1m-1 6h1m-1 8h1m-1 4h1m-1 9h1m-1 29h1m-1 8h1m-1 1h1m-1 37h1m-1 11h1m-1 15h1m-1 2h1m-1 3h1m-1 4h1m-1 12h1m-1 7h1m-1 1h1m-1 27h1m-1 7h1m-1 13h1m-1 15h1m-1 6h1m-1 5h1m-1 2h1m-1 14h1m-1 42h1m-1 2h1m-1 1h1m-1 3h1m-1 6h1m-1 16h1m-1 5h1m-1 14h1m-1 26h1m-1 9h1m-1 11h1m-1 19h1m-1 4h1m-1 5h1m-1 1h1m-1 7h1m-1 3h1m-1 18h1m0 -706h1m-1 79h1m-1 22h1m-1 2h1m-1 16h1m-1 1h1m-1 1h1m-1 26h1m-1 11h1m-1 22h1m-1 4h1m-1 7h1m-1 1h1m-1 3h1m-1 14h1m-1 1h1m-1 17h1m-1 9h1m-1 45h1m-1 18h1m-1 15h1m-1 22h1m-1 1h1m-1 1h1m-1 25h1m-1 3h1m-1 15h1m-1 49h1m-1 2h1m-1 3h1m-1 4h1m-1 43h1m-1 31h1m-1 32h1m-1 16h1m-1 10h1m-1 37h1m-1 5h1m-1 8h1m-1 11h1m-1 5h1m0 -690h1m-1 3h1m-1 21h1m-1 21h1m-1 68h1m-1 17h1m-1 3h1m-1 3h1m-1 1h1m-1 1h1m-1 8h1m-1 8h1m-1 10h1m-1 6h1m-1 15h1m-1 4h1m-1 2h1m-1 15h1m-1 11h1m-1 26h1m-1 12h1m-1 6h1m-1 12h1m-1 5h1m0 -282h1m-1 32h1m-1 7h1m-1 116h1m-1 1h1m-1 38h1m-1 13h1m-1 13h1m-1 6h1m-1 20h1m-1 1h1m-1 2h1m-1 2h1m0 -244h1m-1 46h1m-1 29h1m-1 13h1m-1 55h1m-1 17h1m-1 16h1m-1 17h1m-1 8h1" stroke="#b1b1d8"/>
<path d="M0 322.5h2m-2 2h2m-2 4h2m-2 130h2m-2 30h2m-2 22h2m-2 3h2m-2 86h2m-2 7h2m-2 6h2m-2 14h2m-2 23h2m-2 1h2m-2 2h2m-2 22h2m-2 14h2m-2 66h2m-2 2h2m-2 7h2m-2 2h2m0 -543h1m-1 1h1m-1 46h1m-1 19h1m-1 6h1m-1 12h1m-1 1h1m-1 6h1m-1 2h1m-1 3h1m-1 23h1m-1 7h1m-1 5h1m-1 18h1m-1 24h1m-1 3h1m-1 24h1m-1 3h1m-1 24h1m-1 11h1m-1 9h1m-1 5h1m-1 23h1m-1 1h1m-1 1h1m-1 12h1m-1 47h1m-1 26h1m-1 14h1m-1 33h1m-1 29h1m-1 12h1m-1 1h1m-1 16h1m-1 54h1m0 -448h1m-1 30h1m-1 5h1m-1 5h1m-1 2h1m-1 23h1m-1 59h1m-1 12h1m-1 3h1m-1 7h1m-1 6h1m-1 3h1m-1 1h1m-1 1h1m-1 1h1m-1 11h1m-1 14h1m-1 11h1m-1 35h1m-1 11h1m-1 9h1m-1 23h1m-1 30h1m-1 17h1m-1 1h1m-1 4h1m-1 23h1m-1 27h1m-1 35h1m-1 23h1m0 -555h1m-1 161h1m-1 12h1m-1 4h1m-1 10h1m-1 9h1m-1 12h1m-1 15h1m-1 11h1m-1 17h1m-1 20h1m-1 9h1m-1 2h1m-1 47h1m-1 10h1m-1 49h1m-1 2h1m-1 2h1m-1 18h1m-1 18h1m-1 5h1m-1 56h1m-1 51h1m-1 25h1m-1 3h1m-1 13h1m-1 6h1m-1 4h1m0 -757h1m-1 1h1m-1 44h1m-1 17h1m-1 12h1m-1 1h1m-1 1h1m-1 70h1m-1 2h1m-1 9h1m-1 14h1m-1 9h1m-1 1h1m-1 27h1m-1 16h1m-1 25h1m-1 21h1m-1 1h1m-1 8h1m-1 18h1m-1 3h1m-1 5h1m-1 36h1m-1 7h1m-1 24h1m-1 29h1m-1 11h1m-1 28h1m-1 42h1m-1 1h1m-1 1h1m-1 12h1m-1 30h1m-1 19h1m-1 11h1m-1 1h1m-1 23h1m-1 85h1m-1 5h1m-1 2h1m0 -678h1m-1 26h1m-1 5h1m-1 41h1m-1 10h1m-1 53h1m-1 18h1m-1 2h1m-1 16h1m-1 20h1m-1 4h1m-1 9h1m-1 6h1m-1 11h1m-1 1h1m-1 37h1m-1 21h1m-1 5h1m0 -262h1m-1 4h1m-1 17h1m-1 2h1m-1 7h1m-1 166h1m-1 4h1m-1 12h1m-1 9h1m-1 3h1m-1 12h1m-1 15h1m0 -230h1m-1 12h1m-1 77h1m-1 37h1m-1 28h1m-1 8h1m-1 80h1m-1 5h1m-1 4h1" stroke="#b8b8dc"/>
<path d="M0 293.5h2m-2 1h2m-2 20h2m-2 4h2m-2 128h2m-2 18h2m-2 22h2m-2 32h2m-2 8h2m-2 11h2m-2 4h2m-2 63h2m-2 11h2m-2 14h2m-2 4h2m-2 1h2m-2 1h2m-2 1h2m-2 5h2m-2 3h2m-2 10h2m-2 55h2m-2 22h2m-2 5h2m-2 16h2m-2 1h2m-2 7h2m0 -510h1m-1 36h1m-1 3h1m-1 10h1m-1 20h1m-1 9h1m-1 12h1m-1 3h1m-1 2h1m-1 1h1m-1 1h1m-1 5h1m-1 2h1m-1 13h1m-1 3h1m-1 11h1m-1 5h1m-1 1h1m-1 7h1m-1 24h1m-1 14h1m-1 15h1m-1 1h1m-1 6h1m-1 21h1m-1 3h1m-1 1h1m-1 12h1m-1 1h1m-1 8h1m-1 66h1m-1 69h1m-1 10h1m-1 83h1m-1 5h1m-1 13h1m0 -406h1m-1 7h1m-1 28h1m-1 10h1m-1 1h1m-1 9h1m-1 8h1m-1 30h1m-1 3h1m-1 34h1m-1 1h1m-1 1h1m-1 9h1m-1 18h1m-1 1h1m-1 11h1m-1 6h1m-1 32h1m-1 7h1m-1 2h1m-1 8h1m-1 13h1m-1 28h1m-1 3h1m-1 2h1m-1 9h1m-1 2h1m-1 9h1m-1 2h1m-1 4h1m-1 30h1m-1 15h1m-1 52h1m-1 6h1m0 -595h1m-1 2h1m-1 25h1m-1 2h1m-1 15h1m-1 123h1m-1 18h1m-1 15h1m-1 7h1m-1 2h1m-1 24h1m-1 9h1m-1 52h1m-1 10h1m-1 1h1m-1 7h1m-1 3h1m-1 16h1m-1 2h1m-1 8h1m-1 13h1m-1 17h1m-1 46h1m-1 29h1m-1 7h1m-1 3h1m-1 2h1m-1 4h1m-1 13h1m-1 6h1m-1 101h1m-1 13h1m-1 9h1m-1 7h1m0 -755h1m-1 56h1m-1 12h1m-1 63h1m-1 5h1m-1 10h1m-1 18h1m-1 4h1m-1 27h1m-1 5h1m-1 1h1m-1 3h1m-1 1h1m-1 2h1m-1 19h1m-1 18h1m-1 1h1m-1 13h1m-1 8h1m-1 1h1m-1 46h1m-1 1h1m-1 13h1m-1 9h1m-1 2h1m-1 68h1m-1 14h1m-1 8h1m-1 1h1m-1 25h1m-1 2h1m-1 13h1m-1 2h1m-1 1h1m-1 8h1m-1 15h1m-1 32h1m-1 47h1m-1 8h1m-1 27h1m-1 55h1m-1 9h1m-1 10h1m0 -672h1m-1 3h1m-1 9h1m-1 5h1m-1 3h1m-1 8h1m-1 38h1m-1 5h1m-1 49h1m-1 15h1m-1 31h1m-1 2h1m-1 11h1m-1 19h1m-1 9h1m-1 36h1m-1 18h1m-1 3h1m-1 1h1m-1 11h1m-1 86h1m-1 1h1m0 -348h1m-1 10h1m-1 155h1m-1 6h1m-1 2h1m-1 12h1m-1 7h1m-1 1h1m-1 25h1m-1 14h1m-1 23h1m-1 2h1m-1 189h1m-1 24h1m0 -444h1m-1 80h1m-1 1h1m-1 25h1m-1 133h1" stroke="#bfbfdf"/>
<path d="M0 319.5h2m-2 7h2m-2 126h2m-2 30h2m-2 1h2m-2 6h2m-2 33h2m-2 1h2m-2 4h2m-2 1h2m-2 5h2m-2 11h2m-2 52h2m-2 7h2m-2 2h2m-2 2h2m-2 12h2m-2 5h2m-2 1h2m-2 2h2m-2 12h2m-2 3h2m-2 4h2m-2 10h2m-2 15h2m-2 8h2m-2 29h2m-2 25h2m-2 2h2m-2 4h2m-2 1h2m-2 18h2m-2 9h2m0 -577h1m-1 2h1m-1 57h1m-1 9h1m-1 4h1m-1 13h1m-1 39h1m-1 30h1m-1 31h1m-1 49h1m-1 7h1m-1 3h1m-1 1h1m-1 11h1m-1 40h1m-1 26h1m-1 9h1m-1 9h1m-1 1h1m-1 26h1m-1 30h1m-1 1h1m-1 42h1m-1 22h1m-1 7h1m-1 58h1m-1 3h1m-1 19h1m0 -424h1m-1 1h1m-1 1h1m-1 6h1m-1 36h1m-1 10h1m-1 7h1m-1 2h1m-1 27h1m-1 12h1m-1 13h1m-1 24h1m-1 31h1m-1 54h1m-1 4h1m-1 4h1m-1 13h1m-1 15h1m-1 25h1m-1 13h1m-1 7h1m-1 5h1m-1 1h1m-1 11h1m-1 47h1m-1 59h1m-1 14h1m-1 1h1m-1 1h1m-1 3h1m-1 6h1m0 -685h1m-1 2h1m-1 57h1m-1 13h1m-1 1h1m-1 5h1m-1 54h1m-1 93h1m-1 6h1m-1 3h1m-1 34h1m-1 14h1m-1 1h1m-1 1h1m-1 16h1m-1 7h1m-1 17h1m-1 11h1m-1 9h1m-1 17h1m-1 31h1m-1 5h1m-1 1h1m-1 9h1m-1 6h1m-1 9h1m-1 1h1m-1 4h1m-1 19h1m-1 65h1m-1 3h1m-1 33h1m-1 16h1m-1 26h1m-1 70h1m-1 14h1m-1 2h1m0 -699h1m-1 1h1m-1 24h1m-1 47h1m-1 10h1m-1 35h1m-1 7h1m-1 6h1m-1 29h1m-1 13h1m-1 5h1m-1 39h1m-1 3h1m-1 31h1m-1 17h1m-1 4h1m-1 4h1m-1 34h1m-1 8h1m-1 4h1m-1 1h1m-1 23h1m-1 15h1m-1 13h1m-1 8h1m-1 5h1m-1 7h1m-1 63h1m-1 23h1m-1 1h1m-1 31h1m-1 17h1m-1 18h1m-1 7h1m-1 2h1m-1 10h1m-1 7h1m-1 52h1m-1 9h1m-1 2h1m-1 5h1m-1 43h1m0 -732h1m-1 10h1m-1 9h1m-1 5h1m-1 3h1m-1 6h1m-1 1h1m-1 31h1m-1 8h1m-1 76h1m-1 4h1m-1 1h1m-1 24h1m-1 15h1m-1 21h1m-1 31h1m-1 9h1m-1 27h1m0 -66h1m-1 4h1m-1 58h1m0 -227h1m-1 1h1m-1 44h1m-1 26h1m-1 62h1m-1 85h1" stroke="#c6c6e3"/>
<path d="M0 325.5h2m-2 9h2m-2 101h2m-2 7h2m-2 5h2m-2 4h2m-2 2h2m-2 8h2m-2 1h2m-2 1h2m-2 2h2m-2 16h2m-2 30h2m-2 1h2m-2 5h2m-2 25h2m-2 52h2m-2 3h2m-2 13h2m-2 6h2m-2 1h2m-2 5h2m-2 15h2m-2 3h2m-2 13h2m-2 25h2m-2 2h2m-2 32h2m-2 22h2m-2 17h2m0 -567h1m-1 10h1m-1 46h1m-1 25h1m-1 16h1m-1 10h1m-1 33h1m-1 86h1m-1 9h1m-1 4h1m-1 13h1m-1 1h1m-1 46h1m-1 151h1m-1 3h1m-1 84h1m-1 1h1m0 -404h1m-1 6h1m-1 2h1m-1 5h1m-1 10h1m-1 5h1m-1 2h1m-1 22h1m-1 14h1m-1 4h1m-1 77h1m-1 10h1m-1 1h1m-1 1h1m-1 5h1m-1 11h1m-1 4h1m-1 13h1m-1 2h1m-1 17h1m-1 1h1m-1 8h1m-1 7h1m-1 3h1m-1 9h1m-1 24h1m-1 37h1m-1 11h1m-1 2h1m-1 5h1m-1 4h1m-1 3h1m-1 13h1m-1 3h1m-1 15h1m-1 59h1m-1 3h1m-1 8h1m-1 5h1m-1 1h1m0 -609h1m-1 13h1m-1 32h1m-1 1h1m-1 17h1m-1 14h1m-1 116h1m-1 5h1m-1 1h1m-1 29h1m-1 66h1m-1 3h1m-1 17h1m-1 5h1m-1 13h1m-1 3h1m-1 26h1m-1 16h1m-1 19h1m-1 19h1m-1 25h1m-1 17h1m-1 13h1m0 -575h1m-1 31h1m-1 11h1m-1 7h1m-1 18h1m-1 31h1m-1 1h1m-1 18h1m-1 7h1m-1 5h1m-1 14h1m-1 9h1m-1 4h1m-1 7h1m-1 21h1m-1 63h1m-1 15h1m-1 6h1m-1 19h1m-1 10h1m-1 4h1m-1 6h1m-1 16h1m-1 20h1m-1 5h1m-1 3h1m-1 23h1m-1 2h1m-1 2h1m-1 6h1m-1 1h1m-1 27h1m-1 5h1m-1 6h1m-1 5h1m-1 5h1m-1 1h1m-1 33h1m-1 46h1m-1 19h1m-1 9h1m-1 2h1m-1 2h1m-1 28h1m-1 4h1m-1 4h1m-1 1h1m-1 66h1m-1 18h1m-1 46h1m-1 13h1m0 -746h1m-1 6h1m-1 26h1m-1 24h1m-1 31h1m-1 54h1m-1 9h1m-1 5h1m-1 62h1m-1 38h1m-1 1h1m-1 100h1m-1 3h1m0 -129h1m0 -192h1m-1 90h1m-1 56h1m-1 15h1m-1 21h1" stroke="#cdcde6"/>
<path d="M0 320.5h2m-2 7h2m-2 114h2m-2 2h2m-2 2h2m-2 9h2m-2 2h2m-2 1h2m-2 9h2m-2 14h2m-2 4h2m-2 1h2m-2 13h2m-2 3h2m-2 19h2m-2 1h2m-2 19h2m-2 50h2m-2 12h2m-2 18h2m-2 1h2m-2 10h2m-2 1h2m-2 49h2m-2 1h2m-2 9h2m-2 7h2m-2 5h2m-2 14h2m-2 12h2m-2 33h2m-2 6h2m0 -700h1m-1 123h1m-1 35h1m-1 37h1m-1 38h1m-1 24h1m-1 11h1m-1 44h1m-1 8h1m-1 65h1m-1 3h1m-1 5h1m-1 3h1m-1 21h1m-1 8h1m-1 157h1m-1 15h1m-1 71h1m0 -422h1m-1 7h1m-1 11h1m-1 1h1m-1 46h1m-1 28h1m-1 41h1m-1 10h1m-1 4h1m-1 4h1m-1 22h1m-1 4h1m-1 2h1m-1 7h1m-1 17h1m-1 3h1m-1 1h1m-1 11h1m-1 13h1m-1 30h1m-1 15h1m-1 25h1m-1 19h1m-1 35h1m-1 41h1m-1 12h1m-1 8h1m0 -653h1m-1 15h1m-1 47h1m-1 13h1m-1 9h1m-1 9h1m-1 7h1m-1 30h1m-1 4h1m-1 95h1m-1 14h1m-1 2h1m-1 2h1m-1 13h1m-1 3h1m-1 11h1m-1 81h1m-1 32h1m-1 2h1m-1 5h1m-1 20h1m-1 12h1m-1 27h1m-1 1h1m-1 61h1m-1 3h1m-1 5h1m-1 2h1m-1 6h1m-1 115h1m-1 21h1m0 -692h1m-1 24h1m-1 2h1m-1 53h1m-1 4h1m-1 15h1m-1 16h1m-1 43h1m-1 69h1m-1 1h1m-1 22h1m-1 48h1m-1 2h1m-1 33h1m-1 28h1m-1 3h1m-1 19h1m-1 2h1m-1 2h1m-1 15h1m-1 3h1m-1 11h1m-1 7h1m-1 23h1m-1 11h1m-1 16h1m-1 3h1m-1 16h1m-1 6h1m-1 21h1m-1 9h1m-1 9h1m-1 1h1m-1 12h1m-1 1h1m-1 7h1m-1 20h1m-1 34h1m-1 8h1m-1 1h1m-1 38h1m-1 39h1m0 -748h1m-1 1h1m-1 14h1m-1 6h1m-1 15h1m-1 43h1m-1 51h1m-1 5h1m-1 21h1m-1 11h1m-1 4h1m-1 1h1m-1 11h1m-1 15h1m-1 7h1m-1 21h1m-1 1h1m-1 2h1m-1 44h1m-1 4h1m-1 11h1m-1 111h1m-1 75h1m-1 9h1m0 -249h1m-1 1h1m-1 224h1m0 -363h1m-1 39h1m-1 20h1m-1 45h1m-1 18h1m-1 57h1m-1 3h1m-1 14h1" stroke="#d4d4ea"/>
<path d="M0 438.5h2m-2 6h2m-2 4h2m-2 1h2m-2 11h2m-2 13h2m-2 1h2m-2 13h2m-2 10h2m-2 2h2m-2 3h2m-2 28h2m-2 1h2m-2 12h2m-2 2h2m-2 26h2m-2 2h2m-2 1h2m-2 12h2m-2 23h2m-2 2h2m-2 12h2m-2 7h2m-2 85h2m-2 8h2m-2 3h2m-2 4h2m-2 7h2m-2 1h2m-2 8h2m0 -680h1m-1 9h1m-1 120h1m-1 46h1m-1 14h1m-1 19h1m-1 26h1m-1 3h1m-1 24h1m-1 10h1m-1 32h1m-1 27h1m-1 54h1m-1 2h1m-1 10h1m-1 3h1m-1 16h1m-1 3h1m-1 20h1m0 -310h1m-1 19h1m-1 81h1m-1 28h1m-1 20h1m-1 51h1m-1 39h1m-1 23h1m-1 1h1m-1 7h1m-1 6h1m-1 18h1m-1 3h1m-1 15h1m-1 3h1m-1 46h1m-1 47h1m-1 38h1m-1 2h1m-1 12h1m-1 57h1m-1 18h1m-1 14h1m-1 19h1m0 -677h1m-1 24h1m-1 25h1m-1 17h1m-1 1h1m-1 1h1m-1 22h1m-1 10h1m-1 10h1m-1 5h1m-1 119h1m-1 9h1m-1 9h1m-1 18h1m-1 83h1m-1 32h1m-1 1h1m-1 23h1m-1 6h1m-1 46h1m-1 1h1m-1 85h1m-1 124h1m-1 13h1m0 -685h1m-1 54h1m-1 5h1m-1 14h1m-1 5h1m-1 8h1m-1 15h1m-1 1h1m-1 9h1m-1 1h1m-1 6h1m-1 10h1m-1 46h1m-1 65h1m-1 60h1m-1 1h1m-1 13h1m-1 9h1m-1 10h1m-1 8h1m-1 85h1m-1 40h1m-1 6h1m-1 1h1m-1 10h1m-1 27h1m-1 12h1m-1 17h1m-1 2h1m-1 3h1m-1 1h1m-1 59h1m-1 52h1m-1 11h1m-1 13h1m0 -761h1m-1 11h1m-1 24h1m-1 67h1m-1 10h1m-1 13h1m-1 17h1m-1 47h1m-1 12h1m-1 7h1m-1 51h1m-1 142h1m-1 84h1m-1 120h1m0 -406h1m-1 88h1m-1 132h1m-1 79h1m0 -367h1m-1 4h1m-1 64h1m-1 87h1" stroke="#dcdced"/>
<path d="M0 373.5h2m-2 39h2m-2 24h2m-2 33h2m-2 1h2m-2 2h2m-2 18h2m-2 2h2m-2 3h2m-2 53h2m-2 1h2m-2 21h2m-2 6h2m-2 15h2m-2 4h2m-2 3h2m-2 2h2m-2 1h2m-2 71h2m-2 28h2m-2 13h2m-2 5h2m-2 1h2m-2 8h2m0 -662h1m-1 107h1m-1 9h1m-1 12h1m-1 31h1m-1 14h1m-1 5h1m-1 14h1m-1 2h1m-1 19h1m-1 101h1m-1 18h1m-1 104h1m-1 150h1m0 -604h1m-1 165h1m-1 5h1m-1 166h1m-1 11h1m-1 10h1m-1 69h1m-1 23h1m-1 7h1m-1 4h1m-1 2h1m-1 19h1m-1 6h1m-1 3h1m-1 3h1m-1 49h1m-1 44h1m-1 19h1m-1 6h1m-1 13h1m-1 38h1m-1 28h1m-1 19h1m-1 4h1m0 -673h1m-1 57h1m-1 39h1m-1 2h1m-1 6h1m-1 15h1m-1 116h1m-1 2h1m-1 6h1m-1 109h1m-1 14h1m-1 15h1m-1 29h1m-1 1h1m-1 9h1m-1 214h1m-1 33h1m0 -665h1m-1 13h1m-1 42h1m-1 5h1m-1 6h1m-1 43h1m-1 31h1m-1 25h1m-1 4h1m-1 1h1m-1 23h1m-1 23h1m-1 5h1m-1 41h1m-1 35h1m-1 58h1m-1 7h1m-1 4h1m-1 5h1m-1 1h1m-1 1h1m-1 3h1m-1 1h1m-1 10h1m-1 8h1m-1 38h1m-1 23h1m-1 30h1m-1 7h1m-1 6h1m-1 31h1m-1 1h1m-1 43h1m-1 28h1m-1 12h1m-1 3h1m-1 58h1m0 -760h1m-1 5h1m-1 10h1m-1 5h1m-1 21h1m-1 1h1m-1 34h1m-1 45h1m-1 11h1m-1 25h1m-1 5h1m-1 11h1m-1 7h1m-1 46h1m-1 24h1m-1 33h1m-1 75h1m-1 8h1m-1 7h1m-1 110h1m0 -273h1m-1 40h1m-1 36h1" stroke="#e3e3f1"/>
<path d="M0 309.5h2m-2 53h2m-2 16h2m-2 42h2m-2 8h2m-2 11h2m-2 1h2m-2 15h2m-2 21h2m-2 3h2m-2 12h2m-2 16h2m-2 39h2m-2 14h2m-2 2h2m-2 1h2m-2 9h2m-2 6h2m-2 1h2m-2 114h2m-2 1h2m-2 1h2m-2 10h2m-2 9h2m-2 8h2m0 -655h1m-1 121h1m-1 37h1m-1 14h1m-1 7h1m-1 2h1m-1 4h1m-1 2h1m-1 2h1m-1 195h1m0 -402h1m-1 6h1m-1 137h1m-1 3h1m-1 139h1m-1 105h1m-1 6h1m-1 12h1m-1 11h1m-1 15h1m-1 36h1m-1 12h1m-1 86h1m-1 10h1m-1 27h1m-1 54h1m-1 22h1m-1 8h1m-1 9h1m-1 5h1m-1 1h1m0 -676h1m-1 27h1m-1 34h1m-1 11h1m-1 8h1m-1 3h1m-1 22h1m-1 146h1m-1 4h1m-1 10h1m-1 122h1m-1 19h1m-1 47h1m0 -422h1m-1 37h1m-1 144h1m-1 12h1m-1 16h1m-1 1h1m-1 3h1m-1 10h1m-1 57h1m-1 18h1m-1 71h1m-1 3h1m-1 1h1m-1 32h1m-1 3h1m-1 7h1m-1 17h1m-1 6h1m-1 1h1m-1 44h1m-1 34h1m-1 8h1m-1 71h1m-1 3h1m-1 7h1m-1 8h1m-1 14h1m-1 4h1m-1 1h1m0 -713h1m-1 7h1m-1 73h1m-1 12h1m-1 3h1m-1 27h1m-1 32h1m-1 7h1m-1 12h1m-1 75h1m-1 12h1m-1 153h1m-1 17h1m-1 19h1m-1 4h1m-1 1h1m-1 16h1m-1 80h1m-1 2h1m-1 31h1m0 -169h1m-1 28h1m-1 19h1m0 -200h1" stroke="#eaeaf4"/>
<path d="M0 311.5h2m-2 38h2m-2 14h2m-2 1h2m-2 11h2m-2 22h2m-2 22h2m-2 8h2m-2 2h2m-2 8h2m-2 31h2m-2 9h2m-2 17h2m-2 2h2m-2 4h2m-2 3h2m-2 2h2m-2 42h2m-2 18h2m-2 4h2m-2 11h2m-2 7h2m-2 21h2m-2 76h2m-2 6h2m-2 6h2m-2 1h2m-2 4h2m-2 3h2m-2 3h2m-2 21h2m0 -654h1m-1 2h1m-1 111h1m-1 47h1m-1 3h1m-1 5h1m-1 9h1m-1 2h1m-1 11h1m-1 12h1m-1 4h1m-1 40h1m-1 48h1m-1 65h1m-1 72h1m0 -473h1m-1 1h1m-1 175h1m-1 8h1m-1 97h1m-1 14h1m-1 117h1m-1 47h1m-1 4h1m-1 11h1m-1 89h1m-1 4h1m-1 56h1m-1 18h1m-1 59h1m-1 16h1m-1 3h1m0 -654h1m-1 34h1m-1 3h1m-1 1h1m-1 30h1m-1 16h1m-1 8h1m-1 21h1m-1 3h1m-1 1h1m-1 5h1m-1 101h1m-1 143h1m-1 28h1m-1 4h1m-1 8h1m-1 6h1m-1 3h1m-1 98h1m-1 134h1m-1 7h1m0 -664h1m-1 3h1m-1 14h1m-1 64h1m-1 28h1m-1 95h1m-1 9h1m-1 136h1m-1 14h1m-1 17h1m-1 39h1m-1 1h1m-1 7h1m-1 16h1m-1 23h1m-1 13h1m-1 27h1m-1 1h1m-1 3h1m-1 10h1m-1 55h1m-1 51h1m-1 2h1m-1 24h1m-1 19h1m-1 5h1m-1 2h1m0 -641h1m-1 44h1m-1 84h1m-1 1h1m-1 111h1m-1 88h1m-1 39h1m-1 10h1m-1 1h1m-1 71h1m-1 32h1m-1 65h1m0 -229h1m-1 24h1m-1 23h1m0 -198h1m-1 2h1" stroke="#f1f1f8"/>
<path d="M0 308.5h2m-2 2h2m-2 34h2m-2 8h2m-2 14h2m-2 4h2m-2 1h2m-2 1h2m-2 12h2m-2 2h2m-2 5h2m-2 5h2m-2 6h2m-2 8h2m-2 12h2m-2 3h2m-2 25h2m-2 17h2m-2 4h2m-2 22h2m-2 88h2m-2 4h2m-2 7h2m-2 1h2m-2 90h2m-2 9h2m-2 10h2m-2 4h2m-2 10h2m-2 4h2m0 -670h1m-1 19h1m-1 192h1m-1 202h1m0 -458h1m-1 32h1m-1 11h1m-1 4h1m-1 2h1m-1 142h1m-1 263h1m-1 8h1m-1 123h1m-1 19h1m-1 35h1m-1 28h1m-1 53h1m-1 1h1m-1 3h1m-1 11h1m0 -658h1m-1 36h1m-1 7h1m-1 44h1m-1 10h1m-1 14h1m-1 2h1m-1 1h1m-1 7h1m-1 13h1m-1 4h1m-1 99h1m-1 152h1m-1 124h1m0 -507h1m-1 35h1m-1 27h1m-1 7h1m-1 1h1m-1 132h1m-1 9h1m-1 28h1m-1 62h1m-1 2h1m-1 1h1m-1 42h1m-1 45h1m-1 25h1m-1 13h1m-1 2h1m-1 2h1m-1 6h1m-1 4h1m-1 21h1m-1 7h1m-1 39h1m-1 3h1m-1 7h1m-1 33h1m-1 14h1m-1 6h1m-1 49h1m-1 6h1m-1 7h1m-1 8h1m-1 6h1m-1 6h1m-1 23h1m-1 1h1m0 -749h1m-1 94h1m-1 6h1m-1 245h1m-1 29h1m-1 50h1m-1 1h1m-1 56h1m-1 75h1m-1 2h1m-1 21h1m-1 16h1m0 -322h1m-1 138h1m-1 25h1m-1 8h1m-1 2h1m-1 9h1m-1 3h1m-1 9h1m-1 1h1m-1 15h1m-1 1h1" stroke="#f8f8fb"/>
<path d="M0 283.5h2m-2 1h2m-2 22h2m-2 6h2m-2 38h2m-2 11h2m-2 13h2m-2 3h2m-2 8h2m-2 2h2m-2 13h2m-2 11h2m-2 10h2m-2 57h2m-2 28h2m-2 3h2m-2 52h2m-2 5h2m-2 2h2m-2 16h2m-2 105h2m-2 10h2m-2 25h2m-2 1h2m0 -652h1m-1 57h1m-1 43h1m-1 59h1m-1 28h1m-1 195h1m0 -405h1m-1 6h1m-1 84h1m-1 63h1m-1 1h1m-1 14h1m-1 1h1m-1 218h1m-1 1h1m-1 66h1m-1 88h1m-1 1h1m-1 5h1m-1 114h1m-1 2h1m0 -714h1m-1 6h1m-1 14h1m-1 12h1m-1 31h1m-1 17h1m-1 6h1m-1 2h1m-1 14h1m-1 11h1m-1 4h1m-1 59h1m-1 1h1m-1 11h1m-1 9h1m-1 5h1m-1 3h1m-1 12h1m-1 4h1m-1 116h1m-1 157h1m0 -397h1m-1 23h1m-1 4h1m-1 19h1m-1 16h1m-1 34h1m-1 115h1m-1 17h1m-1 3h1m-1 4h1m-1 61h1m-1 40h1m-1 30h1m-1 49h1m-1 14h1m-1 32h1m-1 9h1m-1 32h1m-1 49h1m-1 1h1m-1 4h1m-1 1h1m-1 4h1m-1 54h1m-1 35h1m-1 9h1m0 -665h1m-1 2h1m-1 6h1m-1 2h1m-1 8h1m-1 20h1m-1 28h1m-1 10h1m-1 13h1m-1 3h1m-1 15h1m-1 206h1m-1 1h1m-1 21h1m-1 23h1m-1 4h1m-1 37h1m-1 7h1m-1 180h1m0 -259h1m-1 57h1m-1 2h1m-1 2h1m-1 8h1" stroke="#ffffff"/>
<path d="M0 282.5h2m-2 61h2m-2 11h2m-2 13h2m-2 9h2m-2 16h2m-2 2h2m-2 1h2m-2 3h2m-2 1h2m-2 2h2m-2 2h2m-2 6h2m-2 7h2m-2 2h2m-2 6h2m-2 6h2m-2 4h2m-2 41h2m-2 29h2m-2 4h2m-2 47h2m-2 9h2m-2 3h2m-2 8h2m-2 7h2m-2 6h2m-2 133h2m0 -715h1m-1 136h1m-1 32h1m-1 8h1m-1 1h1m-1 6h1m-1 38h1m-1 18h1m-1 2h1m-1 221h1m0 -461h1m-1 27h1m-1 99h1m-1 6h1m-1 9h1m-1 4h1m-1 45h1m-1 2h1m-1 7h1m-1 9h1m-1 6h1m-1 240h1m-1 147h1m-1 105h1m-1 9h1m-1 24h1m-1 8h1m-1 1h1m0 -737h1m-1 63h1m-1 9h1m-1 4h1m-1 1h1m-1 17h1m-1 12h1m-1 12h1m-1 7h1m-1 2h1m-1 21h1m-1 26h1m-1 292h1m0 -284h1m-1 107h1m-1 6h1m-1 81h1m-1 23h1m-1 107h1m-1 33h1m-1 7h1m-1 73h1m-1 6h1m-1 44h1m-1 1h1m-1 2h1m-1 19h1m-1 10h1m-1 6h1m-1 10h1m-1 24h1m0 -673h1m-1 1h1m-1 2h1m-1 11h1m-1 4h1m-1 11h1m-1 7h1m-1 8h1m-1 236h1m-1 3h1m-1 4h1m-1 7h1m-1 13h1m-1 32h1m-1 4h1m-1 11h1m-1 32h1m-1 11h1m-1 13h1m-1 4h1m-1 55h1m-1 4h1m-1 37h1m-1 3h1m-1 15h1m-1 4h1m0 -325h1m-1 138h1m-1 18h1m-1 10h1m-1 13h1m-1 24h1m-1 1h1" stroke="#fff8f8"/>
<path d="M0 347.5h2m-2 8h2m-2 3h2m-2 1h2m-2 1h2m-2 5h2m-2 4h2m-2 10h2m-2 1h2m-2 1h2m-2 1h2m-2 1h2m-2 6h2m-2 1h2m-2 3h2m-2 20h2m-2 146h2m-2 24h2m-2 6h2m0 -555h1m-1 14h1m-1 6h1m-1 2h1m-1 7h1m-1 1h1m-1 100h1m-1 21h1m-1 48h1m-1 2h1m-1 44h1m-1 11h1m-1 176h1m-1 1h1m0 -438h1m-1 22h1m-1 72h1m-1 15h1m-1 8h1m-1 7h1m-1 28h1m-1 9h1m-1 1h1m-1 129h1m-1 140h1m-1 255h1m-1 1h1m-1 29h1m0 -705h1m-1 39h1m-1 12h1m-1 32h1m-1 47h1m0 -79h1m-1 28h1m-1 195h1m-1 6h1m-1 158h1m-1 27h1m-1 5h1m-1 8h1m-1 38h1m-1 39h1m-1 52h1m-1 12h1m-1 30h1m-1 41h1m-1 22h1m-1 5h1m0 -660h1m-1 13h1m-1 1h1m-1 5h1m-1 245h1m-1 11h1m-1 10h1m-1 9h1m-1 29h1m-1 3h1m-1 15h1m-1 21h1m-1 10h1m-1 20h1m-1 15h1m-1 73h1m-1 12h1m-1 1h1m-1 4h1m-1 4h1m-1 17h1m-1 10h1m0 -162h1m-1 17h1m-1 11h1m-1 14h1" stroke="#fff1f1"/>
<path d="M0 303.5h2m-2 50h2m-2 3h2m-2 48h2m-2 10h2m-2 1h2m-2 8h2m-2 3h2m-2 5h2m-2 1h2m-2 1h2m-2 123h2m-2 2h2m-2 19h2m0 -570h1m-1 51h1m-1 4h1m-1 54h1m-1 13h1m-1 6h1m-1 35h1m-1 74h1m0 -229h1m-1 132h1m-1 19h1m-1 14h1m-1 22h1m-1 282h1m-1 234h1m-1 21h1m0 -730h1m-1 13h1m-1 1h1m-1 18h1m-1 48h1m-1 12h1m-1 4h1m-1 4h1m-1 10h1m-1 11h1m-1 50h1m-1 27h1m-1 2h1m0 -104h1m-1 6h1m-1 5h1m-1 5h1m-1 1h1m-1 202h1m-1 66h1m-1 5h1m-1 205h1m-1 35h1m-1 1h1m-1 3h1m-1 12h1m-1 75h1m-1 8h1m-1 19h1m0 -655h1m-1 19h1m-1 241h1m-1 2h1m-1 5h1m-1 2h1m-1 1h1m-1 11h1m-1 10h1m-1 1h1m-1 13h1m-1 12h1m-1 2h1m-1 13h1m-1 21h1m-1 13h1m-1 3h1m-1 8h1m-1 28h1m-1 47h1m-1 19h1m-1 6h1m-1 10h1m-1 1h1m-1 1h1m-1 25h1m-1 7h1m-1 10h1m-1 39h1m-1 1h1m0 -375h1m-1 140h1m-1 1h1m-1 20h1m-1 3h1m-1 8h1m-1 3h1m-1 9h1m-1 3h1m-1 1h1m-1 10h1m-1 8h1" stroke="#ffeaea"/>
<path d="M0 285.5h2m-2 12h2m-2 2h2m-2 5h2m-2 1h2m-2 2h2m-2 41h2m-2 40h2m-2 20h2m-2 149h2m0 -535h1m-1 33h1m-1 15h1m-1 12h1m-1 13h1m-1 36h1m-1 1h1m-1 8h1m-1 29h1m-1 7h1m-1 52h1m-1 3h1m-1 46h1m0 -276h1m-1 5h1m-1 3h1m-1 5h1m-1 5h1m-1 39h1m-1 4h1m-1 148h1m-1 109h1m-1 398h1m0 -712h1m-1 2h1m-1 91h1m-1 5h1m-1 3h1m-1 10h1m-1 5h1m-1 18h1m-1 19h1m-1 1h1m-1 41h1m-1 1h1m-1 307h1m0 -416h1m-1 1h1m-1 2h1m-1 12h1m-1 413h1m-1 76h1m-1 42h1m-1 4h1m-1 4h1m-1 4h1m-1 6h1m-1 52h1m-1 10h1m-1 3h1m-1 12h1m-1 22h1m0 -661h1m-1 1h1m-1 24h1m-1 8h1m-1 254h1m-1 27h1m-1 8h1m-1 8h1m-1 3h1m-1 23h1m-1 5h1m-1 5h1m-1 10h1m-1 3h1m-1 1h1m-1 10h1m-1 4h1m-1 4h1m-1 1h1m-1 88h1m-1 1h1m-1 25h1m-1 13h1m-1 2h1m-1 2h1m-1 4h1m-1 3h1m-1 12h1m-1 5h1m-1 6h1m-1 11h1m0 -370h1m-1 107h1m-1 24h1m-1 2h1m-1 10h1m-1 1h1m-1 12h1m-1 2h1m-1 7h1m-1 33h1m-1 1h1m-1 1h1" stroke="#ffe3e3"/>
<path d="M0 272.5h2m-2 1h2m-2 28h2m-2 50h2m-2 17h2m-2 37h2m-2 1h2m-2 1h2m0 -378h1m-1 2h1m-1 8h1m-1 18h1m-1 4h1m-1 11h1m-1 43h1m-1 18h1m-1 11h1m-1 3h1m-1 16h1m-1 23h1m-1 44h1m0 -214h1m-1 9h1m-1 2h1m-1 4h1m-1 45h1m-1 46h1m-1 22h1m-1 14h1m-1 24h1m-1 19h1m-1 4h1m-1 2h1m-1 13h1m-1 499h1m0 -718h1m-1 1h1m-1 8h1m-1 23h1m-1 4h1m-1 13h1m-1 6h1m-1 36h1m-1 7h1m-1 8h1m-1 13h1m-1 9h1m-1 35h1m-1 34h1m0 -112h1m-1 23h1m-1 1h1m-1 2h1m-1 3h1m-1 10h1m-1 4h1m-1 190h1m-1 333h1m-1 8h1m-1 45h1m-1 12h1m-1 29h1m0 -632h1m-1 14h1m-1 166h1m-1 94h1m-1 6h1m-1 1h1m-1 17h1m-1 1h1m-1 1h1m-1 8h1m-1 32h1m-1 3h1m-1 8h1m-1 29h1m-1 11h1m-1 46h1m-1 10h1m-1 34h1m-1 13h1m-1 1h1m-1 7h1m-1 1h1m-1 10h1m-1 6h1m-1 17h1m-1 23h1m-1 3h1m0 -257h1m-1 5h1m-1 9h1m-1 7h1m-1 3h1m-1 4h1m-1 1h1m-1 56h1" stroke="#ffdcdc"/>
<path d="M0 274.5h2m-2 7h2m-2 5h2m-2 12h2m-2 4h2m-2 55h2m-2 60h2m0 -412h1m-1 4h1m-1 14h1m-1 5h1m-1 21h1m-1 4h1m-1 55h1m-1 15h1m-1 3h1m-1 13h1m-1 26h1m-1 14h1m-1 1h1m-1 56h1m0 -226h1m-1 35h1m-1 16h1m-1 70h1m-1 25h1m-1 9h1m-1 28h1m-1 18h1m-1 77h1m0 -253h1m-1 1h1m-1 3h1m-1 26h1m-1 61h1m-1 6h1m-1 5h1m-1 155h1m-1 1h1m0 -199h1m-1 5h1m-1 2h1m-1 5h1m-1 539h1m-1 100h1m-1 15h1m0 -668h1m-1 4h1m-1 199h1m-1 83h1m-1 18h1m-1 23h1m-1 20h1m-1 6h1m-1 3h1m-1 8h1m-1 10h1m-1 2h1m-1 3h1m-1 7h1m-1 1h1m-1 77h1m-1 4h1m-1 19h1m-1 9h1m-1 3h1m-1 12h1m-1 27h1m-1 21h1m-1 13h1m-1 7h1m0 -244h1m-1 5h1m-1 24h1m-1 34h1m0 -178h1m-1 212h1" stroke="#ffd4d4"/>
<path d="M0 267.5h2m-2 13h2m-2 16h2m-2 49h2m0 -313h1m-1 1h1m-1 9h1m-1 36h1m-1 5h1m-1 5h1m-1 24h1m-1 1h1m-1 8h1m-1 15h1m-1 5h1m-1 5h1m-1 5h1m0 -147h1m-1 18h1m-1 6h1m-1 29h1m-1 32h1m-1 43h1m-1 13h1m-1 30h1m-1 9h1m-1 4h1m-1 26h1m-1 510h1m0 -716h1m-1 5h1m-1 8h1m-1 13h1m-1 4h1m-1 17h1m-1 2h1m-1 10h1m-1 1h1m-1 7h1m-1 21h1m-1 14h1m-1 53h1m-1 4h1m-1 1h1m-1 127h1m0 -199h1m-1 17h1m-1 527h1m-1 17h1m-1 72h1m-1 22h1m0 -661h1m-1 17h1m-1 196h1m-1 56h1m-1 26h1m-1 12h1m-1 9h1m-1 1h1m-1 3h1m-1 1h1m-1 7h1m-1 14h1m-1 31h1m-1 17h1m-1 15h1m-1 67h1m-1 1h1m-1 1h1m-1 1h1m-1 18h1m-1 19h1m-1 2h1m-1 6h1m-1 16h1m-1 6h1m-1 35h1m-1 5h1m-1 2h1m0 -271h1m-1 6h1m-1 5h1m-1 11h1m-1 20h1m-1 7h1m-1 5h1m-1 14h1m0 -175h1" stroke="#ffcdcd"/>
<path d="M0 266.5h2m-2 80h2m0 -343h1m-1 1h1m-1 9h1m-1 7h1m-1 16h1m-1 15h1m-1 9h1m-1 20h1m-1 4h1m-1 34h1m-1 9h1m-1 7h1m-1 4h1m-1 15h1m-1 3h1m-1 6h1m-1 9h1m-1 4h1m-1 3h1m-1 51h1m0 -229h1m-1 2h1m-1 24h1m-1 4h1m-1 5h1m-1 18h1m-1 10h1m-1 11h1m-1 1h1m-1 12h1m-1 1h1m-1 15h1m-1 38h1m-1 8h1m-1 23h1m-1 1h1m-1 13h1m-1 1h1m0 -176h1m-1 4h1m-1 37h1m-1 2h1m-1 8h1m-1 2h1m-1 147h1m0 -111h1m-1 30h1m-1 590h1m-1 7h1m-1 17h1m-1 10h1m0 -666h1m-1 17h1m-1 187h1m-1 1h1m-1 91h1m-1 14h1m-1 2h1m-1 35h1m-1 1h1m-1 25h1m-1 1h1m-1 96h1m-1 10h1m-1 4h1m-1 64h1m-1 5h1m-1 11h1m-1 1h1m-1 7h1m-1 1h1m-1 5h1m0 -274h1m-1 8h1m-1 16h1m-1 51h1m-1 16h1m0 -178h1m-1 217h1" stroke="#ffc6c6"/>
<path d="M0 271.5h2m-2 5h2m0 -268h1m-1 6h1m-1 1h1m-1 6h1m-1 9h1m-1 17h1m-1 24h1m-1 14h1m-1 17h1m-1 1h1m-1 14h1m-1 2h1m-1 5h1m-1 4h1m-1 15h1m-1 25h1m-1 9h1m0 -164h1m-1 8h1m-1 22h1m-1 3h1m-1 48h1m-1 19h1m-1 2h1m-1 40h1m-1 9h1m-1 34h1m-1 2h1m-1 521h1m0 -718h1m-1 21h1m-1 4h1m-1 1h1m-1 1h1m-1 1h1m-1 12h1m-1 1h1m-1 1h1m-1 1h1m-1 2h1m-1 18h1m-1 7h1m-1 38h1m-1 3h1m-1 1h1m-1 12h1m-1 115h1m0 -144h1m-1 16h1m-1 3h1m-1 11h1m-1 516h1m-1 124h1m0 -464h1m-1 79h1m-1 16h1m-1 22h1m-1 7h1m-1 9h1m-1 7h1m-1 91h1m-1 86h1m-1 2h1m-1 21h1m-1 3h1m-1 2h1m-1 26h1m0 -260h1m-1 6h1m-1 2h1m-1 7h1m-1 54h1m0 -175h1" stroke="#ffbfbf"/>
<path d="M0 275.5h2m-2 277h2m0 -517h1m-1 17h1m-1 7h1m-1 18h1m-1 10h1m-1 2h1m-1 8h1m-1 9h1m-1 19h1m-1 24h1m-1 11h1m-1 6h1m0 -158h1m-1 10h1m-1 18h1m-1 2h1m-1 6h1m-1 29h1m-1 10h1m-1 7h1m-1 2h1m-1 1h1m-1 2h1m-1 9h1m-1 6h1m-1 14h1m-1 1h1m-1 4h1m-1 5h1m-1 1h1m-1 2h1m-1 5h1m-1 15h1m-1 4h1m-1 6h1m-1 11h1m-1 31h1m0 -197h1m-1 4h1m-1 1h1m-1 2h1m-1 8h1m-1 22h1m-1 73h1m0 4h1m-1 385h1m-1 123h1m0 -528h1m-1 190h1m-1 90h1m-1 23h1m-1 38h1m-1 77h1m-1 46h1m-1 1h1m-1 13h1m-1 16h1m-1 46h1m-1 9h1m-1 2h1m0 -365h1m-1 31h1m-1 6h1m-1 56h1m-1 6h1m-1 7h1m-1 3h1m-1 4h1m-1 8h1m-1 55h1m-1 35h1m0 -199h1m-1 219h1" stroke="#ffb8b8"/>
<path d="M0 268.5h2m-2 1h2m-2 1h2m0 -269h1m-1 1h1m-1 9h1m-1 14h1m-1 61h1m-1 6h1m-1 6h1m-1 6h1m-1 18h1m-1 26h1m-1 4h1m-1 2h1m-1 3h1m0 -137h1m-1 3h1m-1 1h1m-1 57h1m-1 4h1m-1 27h1m-1 18h1m-1 20h1m-1 1h1m-1 9h1m-1 8h1m-1 1h1m-1 551h1m0 -669h1m-1 49h1m0 624h1m-1 8h1m0 -345h1m-1 152h1m-1 10h1m-1 5h1m-1 105h1m-1 4h1m-1 95h1m0 -376h1m-1 2h1m-1 15h1m-1 7h1m-1 11h1m-1 5h1m-1 15h1m-1 7h1m-1 6h1m0 70h1m-1 5h1m-1 2h1m-1 8h1m-1 1h1m-1 37h1" stroke="#ffb1b1"/>
<path d="M0 264.5h2m-2 36h2m0 -300h1m-1 10h1m-1 9h1m-1 5h1m-1 3h1m-1 10h1m-1 3h1m-1 39h1m-1 15h1m-1 2h1m-1 4h1m-1 11h1m-1 3h1m-1 23h1m-1 21h1m-1 3h1m0 -122h1m-1 2h1m-1 1h1m-1 26h1m-1 1h1m-1 1h1m-1 2h1m-1 10h1m-1 4h1m-1 73h1m-1 18h1m-1 12h1m-1 98h1m-1 2h1m0 -236h1m-1 17h1m-1 4h1m-1 2h1m-1 150h1m-1 7h1m-1 61h1m0 -176h1m-1 610h1m0 -430h1m-1 7h1m-1 129h1m-1 99h1m-1 1h1m-1 18h1m-1 40h1m-1 42h1m-1 3h1m-1 2h1m-1 6h1m-1 11h1m-1 36h1m0 -376h1m-1 8h1m-1 65h1m-1 15h1m-1 6h1m-1 282h1m-1 2h1m0 -388h1m-1 9h1m-1 225h1m-1 1h1m-1 45h1" stroke="#ffaaaa"/>
<path d="M0 33.5h2m-2 1h2m-2 199h2m-2 32h2m-2 12h2m-2 1h2m-2 273h2m0 -539h1m-1 4h1m-1 27h1m-1 2h1m-1 45h1m-1 3h1m-1 6h1m-1 2h1m-1 19h1m-1 30h1m-1 17h1m0 -102h1m-1 12h1m-1 3h1m-1 36h1m-1 4h1m-1 1h1m-1 5h1m-1 2h1m-1 15h1m-1 20h1m-1 8h1m-1 3h1m-1 9h1m0 -179h1m-1 22h1m-1 16h1m-1 19h1m-1 67h1m-1 106h1m-1 4h1m-1 5h1m0 -116h1m0 304h1m-1 94h1m-1 13h1m-1 3h1m-1 52h1m-1 45h1m-1 4h1m-1 72h1m-1 36h1m0 -422h1m-1 2h1m-1 1h1m-1 4h1m-1 61h1m-1 12h1m-1 3h1m-1 25h1m-1 229h1m0 -366h1m-1 2h1m-1 211h1m-1 2h1m-1 28h1" stroke="#ffa3a3"/>
<path d="M0 29.5h2m-2 213h2m-2 37h2m-2 274h2m-2 1h2m0 -516h1m-1 6h1m-1 2h1m-1 59h1m-1 5h1m-1 45h1m-1 4h1m0 -156h1m-1 8h1m-1 6h1m-1 50h1m-1 4h1m-1 38h1m-1 5h1m-1 4h1m-1 1h1m-1 17h1m-1 26h1m0 -93h1m-1 2h1m-1 1h1m1 437h1m-1 6h1m-1 2h1m-1 5h1m-1 15h1m-1 5h1m-1 3h1m-1 1h1m-1 20h1m-1 35h1m-1 34h1m-1 5h1m-1 22h1m-1 31h1m-1 48h1m-1 21h1m0 -453h1m-1 2h1m-1 16h1m-1 34h1m-1 26h1m-1 3h1m-1 4h1m-1 52h1m-1 247h1m-1 45h1m-1 25h1m-1 1h1m0 -467h1m-1 6h1m-1 7h1m-1 1h1m-1 210h1m-1 49h1" stroke="#ff9c9c"/>
<path d="M0 31.5h2m-2 1h2m-2 3h2m-2 45h2m-2 143h2m-2 11h2m-2 9h2m-2 307h2m0 -443h1m0 -95h1m-1 28h1m-1 38h1m-1 13h1m-1 17h1m-1 19h1m-1 43h1m-1 6h1m0 -162h1m-1 11h1m-1 22h1m-1 11h1m-1 2h1m-1 175h1m-1 2h1m1 112h1m-1 84h1m-1 75h1m-1 8h1m-1 7h1m-1 25h1m-1 9h1m-1 101h1m-1 55h1m-1 12h1m-1 21h1m-1 15h1m-1 5h1m0 -456h1m-1 2h1m-1 3h1m-1 7h1m-1 3h1m-1 7h1m-1 51h1m-1 10h1m-1 2h1m-1 17h1m-1 254h1m-1 16h1m-1 41h1m-1 25h1m-1 2h1m0 -450h1m-1 213h1m-1 2h1m-1 4h1m-1 9h1m-1 6h1m-1 4h1m-1 1h1m-1 4h1m-1 20h1m-1 16h1m-1 10h1" stroke="#ff9595"/>
<path d="M0 14.5h2m-2 1h2m-2 7h2m-2 5h2m-2 3h2m-2 7h2m-2 2h2m-2 11h2m-2 27h2m-2 5h2m-2 12h2m-2 8h2m-2 1h2m-2 119h2m-2 4h2m-2 1h2m-2 13h2m-2 6h2m0 -228h1m-1 8h1m-1 83h1m0 -50h1m-1 5h1m-1 33h1m-1 2h1m-1 12h1m-1 68h1m-1 112h1m2 8h1m-1 1h1m-1 35h1m-1 111h1m-1 60h1m-1 1h1m-1 3h1m-1 1h1m-1 19h1m-1 13h1m-1 138h1m-1 5h1m-1 19h1m-1 4h1m-1 2h1m-1 4h1m-1 2h1m-1 16h1m-1 9h1m-1 2h1m-1 20h1m0 -443h1m-1 5h1m-1 7h1m-1 53h1m-1 21h1m-1 260h1m-1 24h1m-1 36h1m0 -201h1m-1 6h1m-1 15h1m-1 1h1m-1 1h1m-1 11h1m-1 2h1m-1 9h1m-1 1h1" stroke="#ff8e8e"/>
<path d="M0 19.5h2m-2 1h2m-2 5h2m-2 11h2m-2 4h2m-2 1h2m-2 13h2m-2 15h2m-2 5h2m-2 7h2m-2 12h2m-2 8h2m-2 22h2m-2 6h2m-2 106h2m-2 6h2m-2 3h2m-2 17h2m-2 1h2m-2 1h2m0 -118h1m0 -79h1m-1 18h1m-1 17h1m-1 53h1m0 -95h1m-1 177h1m-1 4h1m-1 9h1m-1 12h1m1 40h1m-1 5h1m-1 45h1m-1 163h1m-1 7h1m-1 7h1m-1 3h1m-1 5h1m-1 11h1m-1 20h1m-1 111h1m-1 9h1m-1 36h1m-1 14h1m-1 10h1m-1 1h1m0 -451h1m-1 1h1m-1 20h1m-1 21h1m-1 24h1m-1 3h1m-1 10h1m-1 12h1m-1 9h1m-1 112h1m-1 119h1m-1 36h1m-1 22h1m-1 9h1m-1 52h1m-1 12h1m-1 2h1m0 -453h1m-1 5h1m-1 3h1m-1 1h1m-1 193h1m-1 23h1m-1 4h1m-1 14h1m-1 27h1m-1 9h1" stroke="#ff8787"/>
<path d="M0 5.5h2m-2 16h2m-2 3h2m-2 18h2m-2 10h2m-2 10h2m-2 1h2m-2 13h2m-2 2h2m-2 1h2m-2 25h2m-2 12h2m-2 3h2m-2 2h2m-2 1h2m-2 8h2m-2 22h2m-2 1h2m-2 19h2m-2 10h2m-2 42h2m-2 1h2m-2 12h2m-2 1h2m-2 12h2m0 -233h1m-1 24h1m-1 40h1m-1 10h1m0 -12h1m-1 17h1m-1 6h1m-1 3h1m-1 2h1m-1 10h1m-1 68h1m-1 105h1m0 -63h1m-1 5h1m-1 7h1m-1 49h1m-1 1h1m1 8h1m-1 57h1m-1 158h1m-1 1h1m-1 7h1m-1 6h1m-1 3h1m-1 3h1m-1 12h1m-1 136h1m-1 11h1m-1 8h1m-1 35h1m-1 6h1m-1 23h1m0 -450h1m-1 4h1m-1 32h1m-1 11h1m-1 381h1m-1 3h1m-1 9h1m0 -432h1m-1 4h1m-1 204h1m-1 21h1m-1 30h1m-1 89h1" stroke="#ff8080"/>
<path d="M0 2.5h2m-2 4h2m-2 3h2m-2 1h2m-2 2h2m-2 1h2m-2 15h2m-2 10h2m-2 10h2m-2 1h2m-2 17h2m-2 17h2m-2 1h2m-2 4h2m-2 18h2m-2 48h2m-2 11h2m-2 1h2m-2 1h2m-2 7h2m-2 20h2m-2 10h2m-2 12h2m-2 16h2m-2 4h2m-2 3h2m-2 9h2m-2 1h2m-2 2h2m-2 7h2m1 -198h1m-1 38h1m-1 2h1m-1 6h1m0 124h1m-1 17h1m-1 3h1m-1 34h1m-1 1h1m-1 6h1m1 11h1m-1 216h1m-1 9h1m-1 157h1m-1 13h1m-1 1h1m-1 10h1m-1 2h1m-1 6h1m-1 16h1m-1 3h1m-1 1h1m-1 2h1m-1 21h1m0 -453h1m-1 30h1m-1 6h1m-1 23h1m-1 6h1m-1 136h1m-1 144h1m-1 2h1m-1 27h1m-1 17h1m-1 10h1m-1 11h1m-1 8h1m-1 8h1m-1 3h1m-1 5h1m-1 20h1m0 -460h1m-1 24h1m-1 190h1m-1 45h1m-1 15h1m-1 7h1m-1 183h1" stroke="#ff7878"/>
<path d="M0 1.5h2m-2 7h2m-2 8h2m-2 2h2m-2 5h2m-2 22h2m-2 1h2m-2 5h2m-2 2h2m-2 2h2m-2 1h2m-2 3h2m-2 6h2m-2 3h2m-2 5h2m-2 2h2m-2 11h2m-2 1h2m-2 5h2m-2 5h2m-2 10h2m-2 4h2m-2 35h2m-2 1h2m-2 1h2m-2 3h2m-2 5h2m-2 12h2m-2 7h2m-2 17h2m-2 7h2m-2 29h2m-2 2h2m-2 15h2m-2 2h2m-2 5h2m-2 1h2m0 -45h1m0 18h1m-1 1h1m-1 15h1m0 -19h1m-1 21h1m-1 2h1m-1 27h1m1 68h1m-1 7h1m-1 2h1m-1 3h1m-1 166h1m-1 34h1m-1 130h1m-1 2h1m-1 27h1m-1 7h1m-1 8h1m-1 26h1m-1 4h1m0 -456h1m-1 6h1m-1 27h1m-1 6h1m-1 22h1m-1 146h1m-1 124h1m-1 18h1m-1 31h1m-1 6h1m-1 16h1m-1 2h1m-1 6h1m-1 2h1m-1 1h1m-1 2h1m-1 24h1m-1 3h1m-1 6h1m-1 11h1m0 -462h1m-1 9h1m-1 24h1m-1 213h1m-1 15h1m-1 6h1m-1 3h1m-1 1h1m-1 16h1m-1 92h1m-1 34h1" stroke="#ff7171"/>
<path d="M0 3.5h2m-2 1h2m-2 7h2m-2 15h2m-2 17h2m-2 4h2m-2 13h2m-2 4h2m-2 3h2m-2 3h2m-2 19h2m-2 6h2m-2 4h2m-2 6h2m-2 3h2m-2 4h2m-2 3h2m-2 2h2m-2 1h2m-2 2h2m-2 5h2m-2 2h2m-2 14h2m-2 8h2m-2 1h2m-2 5h2m-2 2h2m-2 16h2m-2 8h2m-2 24h2m-2 12h2m-2 14h2m-2 23h2m-2 1h2m-2 4h2m-2 1h2m0 -56h1m-1 17h1m0 11h1m-1 8h1m-1 44h1m0 -62h1m-1 26h1m-1 10h1m-1 4h1m-1 5h1m-1 20h1m1 23h1m-1 33h1m-1 1h1m-1 338h1m-1 44h1m-1 5h1m-1 21h1m-1 4h1m-1 4h1m0 -458h1m-1 3h1m-1 36h1m-1 7h1m-1 16h1m-1 10h1m-1 232h1m-1 11h1m-1 8h1m-1 8h1m-1 1h1m-1 49h1m-1 15h1m-1 4h1m-1 20h1m-1 3h1m-1 5h1m-1 27h1m-1 1h1m-1 7h1m-1 1h1m0 -444h1m-1 189h1m-1 6h1m-1 47h1m-1 13h1m-1 5h1m-1 93h1m-1 81h1" stroke="#ff6a6a"/>
<path d="M0 17.5h2m-2 44h2m-2 10h2m-2 25h2m-2 13h2m-2 1h2m-2 4h2m-2 14h2m-2 14h2m-2 27h2m-2 1h2m-2 1h2m-2 7h2m-2 7h2m-2 5h2m-2 1h2m-2 4h2m-2 1h2m-2 4h2m-2 1h2m-2 17h2m-2 3h2m-2 8h2m-2 27h2m-2 1h2m0 -45h1m1 12h1m-1 1h1m-1 28h1m-1 30h1m1 28h1m-1 1h1m-1 40h1m-1 3h1m-1 2h1m-1 183h1m-1 150h1m-1 4h1m-1 7h1m-1 6h1m-1 11h1m-1 21h1m-1 4h1m-1 2h1m-1 20h1m0 -466h1m-1 4h1m-1 40h1m-1 10h1m-1 3h1m-1 14h1m-1 237h1m-1 14h1m-1 3h1m-1 7h1m-1 8h1m-1 2h1m-1 13h1m-1 14h1m-1 2h1m-1 18h1m-1 2h1m-1 16h1m-1 6h1m-1 5h1m-1 2h1m-1 16h1m-1 4h1m-1 28h1m0 -447h1m-1 3h1m-1 9h1m-1 177h1m-1 9h1m-1 40h1m-1 16h1m-1 7h1m-1 3h1m-1 100h1m-1 14h1m-1 16h1m-1 24h1" stroke="#ff6363"/>
<path d="M0 0.5h2m-2 7h2m-2 37h2m-2 14h2m-2 32h2m-2 1h2m-2 7h2m-2 2h2m-2 13h2m-2 11h2m-2 14h2m-2 20h2m-2 1h2m-2 1h2m-2 1h2m-2 15h2m-2 4h2m-2 4h2m-2 18h2m-2 4h2m-2 9h2m-2 4h2m1 28h1m-1 19h1m-1 5h1m0 -42h1m-1 12h1m-1 10h1m-1 1h1m-1 22h1m-1 8h1m1 397h1m-1 16h1m-1 34h1m-1 1h1m-1 21h1m-1 4h1m-1 12h1m0 -429h1m-1 34h1m-1 8h1m-1 243h1m-1 7h1m-1 19h1m-1 12h1m-1 16h1m-1 1h1m-1 1h1m-1 6h1m-1 23h1m-1 7h1m-1 21h1m-1 18h1m0 -440h1m-1 4h1m-1 212h1m-1 1h1m-1 25h1m-1 19h1m-1 67h1m-1 28h1m-1 3h1m-1 6h1m-1 51h1" stroke="#ff5c5c"/>
<path d="M0 57.5h2m-2 15h2m-2 13h2m-2 55h2m-2 5h2m-2 32h2m-2 6h2m-2 6h2m-2 14h2m-2 17h2m0 -23h1m-1 10h1m0 16h1m-1 16h1m-1 2h1m-1 24h1m0 -37h1m-1 3h1m-1 14h1m-1 14h1m-1 7h1m-1 2h1m-1 22h1m1 25h1m-1 21h1m-1 2h1m-1 1h1m-1 7h1m-1 1h1m-1 341h1m-1 12h1m-1 4h1m-1 2h1m-1 14h1m-1 1h1m-1 7h1m-1 21h1m0 -429h1m-1 24h1m-1 29h1m-1 2h1m-1 2h1m-1 1h1m-1 128h1m-1 97h1m-1 1h1m-1 1h1m-1 37h1m-1 18h1m-1 15h1m-1 9h1m-1 5h1m-1 7h1m-1 8h1m-1 6h1m-1 14h1m-1 5h1m-1 4h1m-1 19h1m-1 16h1m0 -449h1m-1 227h1m-1 6h1m-1 3h1m-1 33h1m-1 77h1m-1 3h1m-1 3h1m-1 5h1m-1 2h1m-1 19h1m-1 28h1m-1 22h1m-1 1h1m-1 16h1m-1 1h1" stroke="#ff5555"/>
<path d="M0 126.5h2m-2 13h2m-2 4h2m-2 19h2m-2 2h2m-2 33h2m-2 11h2m-2 1h2m-2 1h2m-2 3h2m0 -17h1m-1 13h1m-1 6h1m-1 1h1m0 22h1m-1 8h1m-1 18h1m-1 3h1m-1 15h1m0 -22h1m-1 3h1m-1 18h1m-1 5h1m1 23h1m-1 23h1m-1 13h1m-1 11h1m-1 346h1m-1 1h1m-1 51h1m0 -458h1m-1 4h1m-1 14h1m-1 5h1m-1 28h1m-1 34h1m-1 233h1m-1 5h1m-1 3h1m-1 4h1m-1 12h1m-1 5h1m-1 2h1m-1 7h1m-1 3h1m-1 16h1m-1 3h1m-1 2h1m-1 24h1m-1 28h1m-1 18h1m0 -239h1m-1 50h1m-1 35h1m-1 2h1m-1 47h1m-1 50h1m-1 4h1m-1 5h1m-1 10h1m-1 27h1m-1 5h1m-1 8h1m-1 11h1" stroke="#ff4e4e"/>
<path d="M0 131.5h2m-2 1h2m-2 1h2m-2 1h2m-2 1h2m-2 2h2m-2 7h2m-2 19h2m-2 16h2m-2 7h2m-2 2h2m-2 5h2m-2 5h2m-2 9h2m-2 5h2m0 -7h1m-1 5h1m-1 8h1m0 7h1m-1 8h1m-1 10h1m-1 1h1m-1 14h1m-1 25h1m0 -29h1m-1 11h1m-1 15h1m1 53h1m-1 1h1m-1 8h1m-1 347h1m-1 35h1m-1 44h1m0 -464h1m-1 48h1m-1 5h1m-1 253h1m-1 17h1m-1 2h1m-1 15h1m-1 65h1m-1 12h1m-1 34h1m0 -426h1m-1 216h1m-1 8h1m-1 85h1m-1 61h1m-1 2h1m-1 1h1m-1 7h1m-1 9h1m-1 1h1m-1 8h1m-1 22h1m-1 8h1m-1 2h1" stroke="#ff4747"/>
<path d="M0 187.5h2m-2 24h2m-2 3h2m0 -15h1m0 58h1m-1 13h1m0 -14h1m-1 15h1m1 36h1m-1 9h1m-1 7h1m-1 3h1m-1 5h1m-1 9h1m-1 382h1m0 -414h1m-1 42h1m-1 1h1m-1 4h1m-1 3h1m-1 1h1m-1 10h1m-1 10h1m-1 229h1m-1 4h1m-1 3h1m-1 25h1m-1 7h1m-1 54h1m-1 30h1m0 -225h1m-1 2h1m-1 131h1m-1 4h1m-1 1h1m-1 6h1m-1 24h1m-1 6h1m-1 16h1m-1 12h1m-1 23h1m-1 3h1m-1 1h1m-1 5h1" stroke="#ff4040"/>
<path d="M2 201.5h1m-1 12h1m0 36h1m-1 1h1m-1 1h1m-1 18h1m-1 4h1m-1 8h1m-1 4h1m0 -30h1m-1 2h1m1 56h1m-1 16h1m-1 8h1m-1 359h1m0 -359h1m-1 9h1m-1 8h1m-1 236h1m-1 1h1m-1 20h1m-1 2h1m-1 5h1m-1 19h1m-1 25h1m-1 7h1m-1 4h1m-1 26h1m-1 46h1m0 -421h1m-1 3h1m-1 1h1m-1 263h1m-1 2h1m-1 43h1m-1 9h1m-1 27h1m-1 10h1m-1 1h1m-1 3h1m-1 21h1m-1 6h1m-1 2h1m-1 11h1m-1 26h1m-1 6h1m-1 5h1" stroke="#ff3939"/>
<path d="M0 136.5h2m0 83h1m0 3h1m-1 9h1m-1 4h1m-1 1h1m-1 1h1m-1 8h1m-1 17h1m-1 6h1m2 40h1m-1 6h1m-1 7h1m-1 9h1m0 272h1m-1 7h1m-1 11h1m-1 15h1m-1 11h1m-1 17h1m-1 57h1m-1 12h1m-1 19h1m-1 5h1m0 -423h1m-1 221h1m-1 12h1m-1 1h1m-1 23h1m-1 7h1m-1 9h1m-1 18h1m-1 1h1m-1 3h1m-1 6h1m-1 15h1m-1 6h1m-1 11h1m-1 1h1m-1 14h1m-1 11h1m-1 1h1m-1 1h1m-1 42h1m-1 15h1m-1 9h1" stroke="#ff3232"/>
<path d="M2 202.5h1m-1 4h1m-1 5h1m-1 3h1m-1 3h1m-1 3h1m0 28h1m-1 5h1m-1 3h1m-1 16h1m-1 4h1m-1 2h1m0 -8h1m2 97h1m-1 249h1m-1 20h1m-1 12h1m-1 8h1m0 -326h1m-1 43h1m-1 246h1m-1 1h1m-1 9h1m-1 11h1m-1 47h1m-1 16h1m-1 36h1m-1 2h1" stroke="#ff2a2a"/>
<path d="M2 198.5h1m-1 5h1m0 21h1m-1 4h1m-1 2h1m-1 4h1m-1 41h1m0 -11h1m1 56h1m0 192h1m-1 60h1m-1 1h1m-1 16h1m-1 5h1m-1 7h1m0 -229h1m-1 2h1m-1 7h1m-1 91h1m-1 13h1m-1 120h1m-1 2h1m-1 1h1m-1 18h1m-1 11h1m-1 10h1m-1 1h1m-1 3h1m-1 2h1m-1 35h1m-1 18h1m-1 6h1m-1 11h1m-1 5h1m-1 16h1m-1 10h1m-1 1h1" stroke="#ff2323"/>
<path d="M3 255.5h1m-1 4h1m-1 20h1m-1 1h1m0 -4h1m0 16h1m-1 3h1m0 27h1m-1 5h1m0 18h1m-1 23h1m-1 147h1m-1 7h1m-1 19h1m-1 21h1m-1 18h1m-1 5h1m-1 3h1m-1 4h1m-1 67h1m-1 13h1m0 -338h1m-1 2h1m-1 5h1m-1 9h1m-1 13h1m-1 19h1m-1 1h1m-1 57h1m-1 33h1m-1 1h1m-1 12h1m-1 3h1m-1 122h1m-1 1h1m-1 6h1m-1 15h1m-1 2h1m-1 11h1m-1 8h1m-1 8h1m-1 23h1m-1 5h1m-1 56h1m-1 16h1" stroke="#ff1c1c"/>
<path d="M3 261.5h1m-1 2h1m-1 11h1m-1 3h1m-1 9h1m0 -17h1m1 48h1m-1 1h1m-1 7h1m-1 3h1m0 185h1m-1 10h1m-1 20h1m-1 26h1m-1 2h1m-1 12h1m-1 1h1m-1 9h1m-1 4h1m-1 3h1m-1 58h1m0 -321h1m-1 1h1m-1 4h1m-1 10h1m-1 9h1m-1 5h1m-1 4h1m-1 7h1m-1 7h1m-1 1h1m-1 14h1m-1 1h1m-1 5h1m-1 1h1m-1 13h1m-1 23h1m-1 7h1m-1 10h1m-1 16h1m-1 4h1m-1 135h1m-1 3h1m-1 4h1m-1 1h1m-1 1h1m-1 4h1m-1 4h1m-1 1h1m-1 24h1m-1 2h1m-1 2h1m-1 29h1m-1 27h1m-1 1h1m-1 15h1m-1 1h1m-1 10h1" stroke="#ff1515"/>
<path d="M2 200.5h1m0 29h1m-1 23h1m0 23h1m-1 4h1m1 40h1m0 191h1m-1 6h1m-1 2h1m-1 3h1m-1 6h1m-1 6h1m-1 15h1m-1 3h1m-1 23h1m-1 1h1m-1 1h1m-1 2h1m-1 3h1m-1 1h1m-1 5h1m-1 9h1m-1 61h1m0 -318h1m-1 1h1m-1 4h1m-1 2h1m-1 5h1m-1 2h1m-1 7h1m-1 2h1m-1 2h1m-1 1h1m-1 2h1m-1 4h1m-1 5h1m-1 2h1m-1 2h1m-1 11h1m-1 3h1m-1 1h1m-1 3h1m-1 6h1m-1 16h1m-1 21h1m-1 2h1m-1 3h1m-1 1h1m-1 11h1m-1 4h1m-1 5h1m-1 3h1m-1 1h1m-1 19h1m-1 106h1m-1 8h1m-1 5h1m-1 1h1m-1 3h1m-1 2h1m-1 1h1m-1 48h1m-1 60h1m-1 43h1" stroke="#ff0e0e"/>
<path d="M3 254.5h1m0 18h1m-1 5h1m0 16h1m-1 1h1m0 30h1m0 187h1m-1 3h1m-1 3h1m-1 2h1m-1 6h1m-1 3h1m-1 1h1m-1 3h1m-1 4h1m-1 1h1m-1 1h1m-1 2h1m-1 2h1m-1 5h1m-1 18h1m-1 2h1m-1 3h1m-1 9h1m-1 7h1m-1 9h1m-1 3h1m-1 1h1m0 -264h1m-1 8h1m-1 6h1m-1 10h1m-1 16h1m-1 11h1m-1 1h1m-1 2h1m-1 7h1m-1 5h1m-1 1h1m-1 1h1m-1 4h1m-1 2h1m-1 35h1m-1 7h1m-1 1h1m-1 1h1m-1 13h1m-1 10h1m-1 12h1m-1 115h1m-1 56h1m-1 4h1m-1 42h1m-1 16h1m-1 1h1m-1 7h1m-1 24h1m-1 15h1" stroke="#ff0707"/>
<path d="M3 260.5h1m0 18h1m2 242h1m-1 4h1m-1 2h1m-1 4h1m-1 1h1m-1 3h1m-1 1h1m-1 4h1m-1 5h1m-1 1h1m-1 1h1m-1 3h1m-1 1h1m-1 2h1m-1 1h1m-1 1h1m-1 1h1m-1 1h1m-1 1h1m-1 1h1m-1 1h1m-1 1h1m-1 1h1m-1 2h1m-1 1h1m-1 2h1m-1 2h1m-1 9h1m0 -232h1m-1 2h1m-1 1h1m-1 6h1m-1 1h1m-1 1h1m-1 1h1m-1 1h1m-1 10h1m-1 1h1m-1 10h1m-1 9h1m-1 2h1m-1 2h1m-1 1h1m-1 4h1m-1 11h1m-1 2h1m-1 1h1m-1 1h1m-1 1h1m-1 1h1m-1 1h1m-1 1h1m-1 1h1m-1 1h1m-1 3h1m-1 1h1m-1 1h1m-1 1h1m-1 1h1m-1 1h1m-1 1h1m-1 1h1m-1 1h1m-1 1h1m-1 1h1m-1 1h1m-1 1h1m-1 1h1m-1 1h1m-1 1h1m-1 1h1m-1 1h1m-1 1h1m-1 6h1m-1 3h1m-1 2h1m-1 4h1m-1 1h1m-1 1h1m-1 1h1m-1 3h1m-1 1h1m-1 2h1m-1 1h1m-1 1h1m-1 3h1m-1 1h1m-1 8h1m-1 1h1m-1 2h1m-1 1h1m-1 1h1m-1 1h1m-1 1h1m-1 3h1m-1 4h1m-1 1h1m-1 1h1m-1 1h1m-1 1h1m-1 1h1m-1 1h1m-1 1h1m-1 1h1m-1 1h1m-1 1h1m-1 1h1m-1 1h1m-1 1h1m-1 1h1m-1 90h1m-1 3h1m-1 1h1m-1 1h1m-1 1h1m-1 1h1m-1 28h1m-1 22h1m-1 5h1m-1 4h1m-1 43h1m-1 16h1m-1 25h1" stroke="#ff0000"/>
</g>
<path d="M214.45 1574.6H296.55M255.5 1574.6V1529.3H375.05V1575M454.75 1575V1545.7H534.45V1575M315.27 1529.3V1525H494.6V1545.7M614.15 1575V1527.5H693.85V1575M404.94 1525V1492.8H654V1527.5M773.55 1575V1507H853.25V1575M529.47 1492.8V1444.3H813.4V1507" stroke="#000" stroke-width="2.4" fill="none" stroke-linejoin="miter"/>
<path d="M175.8 1582.45H163.24V1583.73H175.8M163.24 1583.09H156.55V1585.1H175.8M175.8 1586.03H154.31V1587.32H175.8M156.55 1584.09H147.66V1586.68H154.31M175.8 1589.06H151.25V1590.35H175.8M175.8 1591.43H156.4V1592.99H175.8M175.8 1594.93H159.63V1596.49H175.8M156.4 1592.21H150.65V1595.71H159.63M151.25 1589.71H143.81V1593.96H150.65M147.66 1585.39H135.68V1591.83H143.81M175.8 1597.67H156.51V1599.08H175.8M156.51 1598.37H148.43V1600.72H175.8M175.8 1604.07H158.94V1605.37H175.8M175.8 1606.8H161.23V1608.17H175.8M158.94 1604.72H153.56V1607.49H161.23M175.8 1602.63H145.09V1606.1H153.56M148.43 1599.55H137.01V1604.37H145.09M135.68 1588.61H132.12V1601.96H137.01M175.8 1609.94H153.78V1611.94H175.8M175.8 1613.38H154.82V1614.54H175.8M153.78 1610.94H147.43V1613.96H154.82M175.8 1616.41H153.73V1618.05H175.8M153.73 1617.23H148.9V1619.27H175.8M175.8 1620.73H156.11V1621.98H175.8M156.11 1621.35H151.56V1622.95H175.8M151.56 1622.15H147.96V1624.37H175.8M148.9 1618.25H142.59V1623.26H147.96M147.43 1612.45H138.89V1620.76H142.59M175.8 1629.93H156.49V1631.37H175.8M175.8 1628.33H151.26V1630.65H156.49M175.8 1626.35H144.77V1629.49H151.26M138.89 1616.6H135.19V1627.92H144.77M132.12 1595.28H119.5V1622.26H135.19M175.8 1634.68H153.11V1635.97H175.8M175.8 1632.95H144.15V1635.32H153.11M175.8 1640.18H163.52V1641.28H175.8M175.8 1638.78H158.97V1640.73H163.52M175.8 1637.23H150.2V1639.76H158.97M175.8 1642.15H150.21V1643.47H175.8M150.2 1638.49H144.67V1642.81H150.21M144.15 1634.14H133.7V1640.65H144.67M175.8 1644.73H155.71V1645.85H175.8M155.71 1645.29H147.2V1647.47H175.8M175.8 1649.08H152.75V1650.65H175.8M175.8 1652.29H151.6V1654.03H175.8M152.75 1649.86H147.81V1653.16H151.6M147.2 1646.38H136.69V1651.51H147.81M133.7 1637.39H124.42V1648.94H136.69M119.5 1608.77H113.46V1643.17H124.42M175.8 1655.75H156.73V1656.99H175.8M175.8 1660.3H174.48V1661.72H175.8M174.48 1661.01H167.25V1662.92H175.8M175.8 1658.45H159.83V1661.96H167.25M156.73 1656.37H150.84V1660.2H159.83M175.8 1664.15H155.4V1665.32H175.8M155.4 1664.73H147.17V1666.8H175.8M150.84 1658.29H142.06V1665.76H147.17M175.8 1668.27H157.82V1669.44H175.8M157.82 1668.85H150.41V1670.76H175.8M175.8 1672.02H150.26V1673.55H175.8M150.41 1669.81H142.13V1672.79H150.26M175.8 1675.55H149.46V1677.18H175.8M175.8 1678.8H150.64V1680.16H175.8M149.46 1676.37H142.26V1679.48H150.64M142.13 1671.3H135.76V1677.92H142.26M175.8 1682.98H152.03V1684.5H175.8M175.8 1681.43H145.07V1683.74H152.03M175.8 1685.84H159.59V1687.06H175.8M159.59 1686.45H151.31V1688.43H175.8M175.8 1689.62H150.62V1691.04H175.8M151.31 1687.44H145.72V1690.33H150.62M145.07 1682.58H140.76V1688.88H145.72M135.76 1674.61H130.47V1685.73H140.76M142.06 1662.03H122.29V1680.17H130.47M175.8 1692.81H152.09V1694.28H175.8M175.8 1695.39H156.2V1696.81H175.8M156.2 1696.1H150.48V1698.57H175.8M152.09 1693.54H145.59V1697.34H150.48M175.8 1700.02H150.9V1701.65H175.8M175.8 1703.45H151.25V1704.76H175.8M175.8 1707.73H157.12V1709.51H175.8M175.8 1705.98H151.44V1708.62H157.12M151.25 1704.1H147.59V1707.3H151.44M150.9 1700.84H144.48V1705.7H147.59M145.59 1695.44H136.24V1703.27H144.48M175.8 1711.1H151.53V1712.77H175.8M175.8 1714.32H147.28V1716.06H175.8M151.53 1711.94H142.57V1715.19H147.28M175.8 1717.84H151.29V1719.29H175.8M142.57 1713.56H138.37V1718.57H151.29M136.24 1699.35H127.54V1716.06H138.37M122.29 1671.1H115.78V1707.71H127.54M113.46 1625.97H106.9V1689.4H115.78M175.8 1722.6H150.14V1724.13H175.8M175.8 1720.78H143.19V1723.36H150.14M175.8 1725.57H153.83V1727.17H175.8M175.8 1728.82H156.45V1730.52H175.8M153.83 1726.37H149.6V1729.67H156.45M175.8 1731.94H157.58V1733.11H175.8M157.58 1732.53H151.36V1734.03H175.8M149.6 1728.02H140.93V1733.28H151.36M143.19 1722.07H133.47V1730.65H140.93M175.8 1734.92H155.19V1736.26H175.8M175.8 1737.78H151.37V1739.16H175.8M155.19 1735.59H147.33V1738.47H151.37M175.8 1742.67H159.58V1743.96H175.8M159.58 1743.31H150.91V1745.3H175.8M175.8 1740.99H143.56V1744.31H150.91M147.33 1737.03H139.72V1742.65H143.56M175.8 1746.67H151.73V1747.81H175.8M175.8 1748.8H152.13V1750.02H175.8M152.13 1749.41H147.26V1751.35H175.8M151.73 1747.24H140.55V1750.38H147.26M139.72 1739.84H135.54V1748.81H140.55M133.47 1726.36H125.04V1744.32H135.54M175.8 1752.44H150.6V1753.96H175.8M175.8 1755.68H150.07V1757.11H175.8M150.6 1753.2H143.97V1756.4H150.07M175.8 1758.61H149.14V1760H175.8M175.8 1761.65H151.16V1763.07H175.8M149.14 1759.31H142.42V1762.36H151.16M143.97 1754.8H134.71V1760.83H142.42M175.8 1765.61H157.69V1767.01H175.8M175.8 1764.33H149.14V1766.31H157.69M149.14 1765.32H144.23V1769H175.8M175.8 1772.5H155.36V1773.87H175.8M175.8 1771.06H148.64V1773.19H155.36M175.8 1775.85H149.44V1777.92H175.8M175.8 1779.87H148.15V1781.91H175.8M149.44 1776.89H141.79V1780.89H148.15M148.64 1772.12H138.06V1778.89H141.79M144.23 1767.16H134.92V1775.51H138.06M134.71 1757.82H125.9V1771.33H134.92M125.04 1735.34H117.5V1764.58H125.9M106.9 1657.69H94.5V1749.96H117.5M175.8 1784.06H149.53V1785.67H175.8M175.8 1787.2H151.71V1788.73H175.8M149.53 1784.87H142.86V1787.97H151.71M175.8 1789.91H147.34V1791.52H175.8M147.34 1790.72H143.53V1793.14H175.8M175.8 1796.55H153.86V1797.88H175.8M153.86 1797.21H148.44V1799.21H175.8M175.8 1794.78H142.91V1798.21H148.44M143.53 1791.93H138.35V1796.5H142.91M142.86 1786.42H133.46V1794.21H138.35M175.8 1800.72H156.96V1802.16H175.8M175.8 1805.74H156.77V1807.75H175.8M175.8 1803.78H153.54V1806.74H156.77M156.96 1801.44H149.41V1805.26H153.54M175.8 1811.3H159.79V1812.65H175.8M159.79 1811.97H151.23V1814.28H175.8M175.8 1809.79H147.01V1813.13H151.23M149.41 1803.35H140.6V1811.46H147.01M133.46 1790.31H112.2V1807.4H140.6M94.5 1703.82H83.6V1798.86H112.2M175.8 1816.04H153V1817.64H175.8M175.8 1819H152.96V1820.34H175.8M153 1816.84H145.16V1819.67H152.96M175.8 1823.95H155.25V1825.3H175.8M155.25 1824.63H148.02V1826.42H175.8M175.8 1821.96H144.93V1825.53H148.02M145.16 1818.25H139.58V1823.74H144.93M175.8 1827.7H165.3V1829.06H175.8M165.3 1828.38H157.41V1830.66H175.8M175.8 1832.29H157.22V1833.58H175.8M157.41 1829.52H148.94V1832.93H157.22M175.8 1834.69H151.06V1836.04H175.8M175.8 1837.51H150.7V1839.1H175.8M151.06 1835.36H147.64V1838.3H150.7M148.94 1831.23H140.04V1836.83H147.64M139.58 1821H134.62V1834.03H140.04M175.8 1840.66H154.42V1841.84H175.8M175.8 1843.15H152.99V1844.26H175.8M154.42 1841.25H145.42V1843.71H152.99M175.8 1846.12H159.04V1847.41H175.8M175.8 1845.15H153.79V1846.77H159.04M175.8 1848.92H156.81V1850.12H175.8M153.79 1845.96H148.38V1849.52H156.81M145.42 1842.48H134.41V1847.74H148.38M175.8 1852.53H160.88V1853.7H175.8M175.8 1851.33H156.86V1853.12H160.88M175.8 1855.06H151.63V1856.19H175.8M156.86 1852.22H148.28V1855.63H151.63M175.8 1857.44H149.76V1859.11H175.8M148.28 1853.92H141.3V1858.27H149.76M175.8 1860.4H151.98V1861.78H175.8M151.98 1861.09H147.59V1863.55H175.8M175.8 1865.56H152.17V1867.32H175.8M147.59 1862.32H142.89V1866.44H152.17M141.3 1856.1H134.47V1864.38H142.89M134.41 1845.11H125.67V1860.24H134.47M134.62 1827.51H105.8V1852.67H125.67M175.8 1868.6H162.73V1869.87H175.8M162.73 1869.23H154.3V1871.1H175.8M175.8 1872.11H154.21V1873.28H175.8M154.3 1870.17H145.37V1872.7H154.21M175.8 1874.74H155.39V1876.08H175.8M155.39 1875.41H151.7V1877.43H175.8M175.8 1878.61H150.72V1880.02H175.8M151.7 1876.42H142.83V1879.32H150.72M145.37 1871.43H92.4V1877.87H142.83M105.8 1840.09H64.5V1874.65H92.4M83.6 1751.34H46.9V1857.37H64.5M175.8 1881.88H149.84V1883.28H175.8M175.8 1884.31H154.78V1885.82H175.8M154.78 1885.07H150.35V1887.48H175.8M149.84 1882.58H141.36V1886.27H150.35M175.8 1888.83H154.74V1890.1H175.8M154.74 1889.47H148.19V1891.58H175.8M175.8 1893.18H146.93V1894.93H175.8M148.19 1890.52H142.64V1894.05H146.93M141.36 1884.43H134.93V1892.29H142.64M175.8 1899.38H158.47V1900.54H175.8M175.8 1898.19H152.17V1899.96H158.47M175.8 1896.82H148.73V1899.07H152.17M175.8 1901.98H155.33V1903.39H175.8M175.8 1904.46H159.2V1905.98H175.8M159.2 1905.22H151.58V1907.8H175.8M155.33 1902.69H147.87V1906.51H151.58M148.73 1897.95H141.99V1904.6H147.87M175.8 1909.54H157.82V1910.98H175.8M157.82 1910.26H151.52V1912.12H175.8M175.8 1913.21H150.17V1914.36H175.8M151.52 1911.19H144.6V1913.78H150.17M141.99 1901.27H126.78V1912.49H144.6M134.93 1888.36H83.6V1906.88H126.78M175.8 1915.99H153.17V1917.64H175.8M175.8 1918.73H153.04V1919.97H175.8M153.17 1916.82H148.35V1919.35H153.04M175.8 1921.56H149.81V1923.33H175.8M148.35 1918.08H142.28V1922.44H149.81M175.8 1925.03H161.2V1926.76H175.8M161.2 1925.89H153.38V1928.58H175.8M175.8 1930.06H154.63V1931.62H175.8M154.63 1930.84H150.14V1933.18H175.8M153.38 1927.23H144.74V1932.01H150.14M142.28 1920.26H137.49V1929.62H144.74M175.8 1935.75H155.26V1937.14H175.8M175.8 1934.44H149V1936.44H155.26M175.8 1938.58H151.21V1939.81H175.8M149 1935.44H144.31V1939.19H151.21M175.8 1941.35H152.09V1943.09H175.8M144.31 1937.32H140.25V1942.22H152.09M175.8 1944.58H155.82V1946.06H175.8M175.8 1947.44H153.35V1948.61H175.8M155.82 1945.32H148.34V1948.02H153.35M175.8 1949.85H152.42V1951.59H175.8M148.34 1946.67H144.83V1950.72H152.42M140.25 1939.77H134V1948.7H144.83M175.8 1953.33H166.31V1954.5H175.8M166.31 1953.91H158.31V1955.49H175.8M175.8 1957.17H158.15V1959.25H175.8M158.31 1954.7H151.31V1958.21H158.15M175.8 1961H154.51V1962.22H175.8M175.8 1963.19H155.88V1964.58H175.8M154.51 1961.61H150.63V1963.88H155.88M151.31 1956.46H142.82V1962.75H150.63M175.8 1967.8H154.41V1968.94H175.8M175.8 1966.29H146.33V1968.37H154.41M175.8 1969.77H156.13V1971.13H175.8M175.8 1972.63H152.9V1974.09H175.8M156.13 1970.45H147.68V1973.36H152.9M146.33 1967.33H142.98V1971.9H147.68M142.82 1959.6H136.59V1969.61H142.98M134 1944.23H127.78V1964.61H136.59M137.49 1924.94H122.6V1954.42H127.78M175.8 1975.37H164.8V1976.6H175.8M164.8 1975.99H160.47V1977.99H175.8M160.47 1976.99H154.19V1979.33H175.8M175.8 1980.63H159.77V1981.83H175.8M175.8 1983.12H160.62V1984.59H175.8M159.77 1981.23H153.67V1983.85H160.62M154.19 1978.16H145.87V1982.54H153.67M175.8 1986.24H155.02V1988.02H175.8M175.8 1989.79H159.29V1991.26H175.8M155.02 1987.13H151.08V1990.53H159.29M175.8 1992.99H156.66V1994.61H175.8M175.8 1995.87H164.18V1997.47H175.8M164.18 1996.67H160.69V1999.29H175.8M156.66 1993.8H152.76V1997.98H160.69M151.08 1988.83H143.8V1995.89H152.76M145.87 1980.35H137.96V1992.36H143.8M175.8 2003.21H160.31V2005.3H175.8M175.8 2001.13H156.06V2004.25H160.31M175.8 2006.68H156.37V2007.86H175.8M156.37 2007.27H151.5V2009.32H175.8M156.06 2002.69H147.56V2008.29H151.5M175.8 2011.94H168.35V2013.13H175.8M168.35 2012.54H161.43V2014.48H175.8M175.8 2010.79H155.66V2013.51H161.43M175.8 2015.64H155.8V2017.34H175.8M155.66 2012.15H148.54V2016.49H155.8M147.56 2005.49H142.73V2014.32H148.54M175.8 2021.15H153.03V2022.84H175.8M175.8 2019.39H148.29V2021.99H153.03M175.8 2024.26H159.67V2025.4H175.8M175.8 2027.1H158.66V2028.86H175.8M159.67 2024.83H152.28V2027.98H158.66M175.8 2030.28H158.91V2031.52H175.8M175.8 2032.43H163.88V2033.63H175.8M175.8 2034.92H161.27V2036.35H175.8M163.88 2033.03H157.32V2035.63H161.27M158.91 2030.9H153.24V2034.33H157.32M152.28 2026.41H145.28V2032.62H153.24M148.29 2020.69H140.49V2029.51H145.28M142.73 2009.91H134V2025.1H140.49M137.96 1986.36H130.42V2017.5H134M175.8 2038.23H174.8V2039.55H175.8M175.8 2040.7H174.8V2042.49H175.8M175.8 2044.17H174.8V2045.65H175.8M174.8 2041.59H174.8V2044.91H174.8M174.8 2038.89H174.8V2043.25H174.8M175.8 2049.15H174.8V2050.41H175.8M175.8 2047.44H174.8V2049.78H174.8M175.8 2051.74H174.8V2053.12H175.8M174.8 2048.61H174.8V2052.43H174.8M175.8 2054.13H174.8V2055.52H175.8M174.8 2054.82H174.8V2057.08H175.8M174.8 2050.52H174.8V2055.95H174.8M174.8 2041.07H169.88V2053.24H174.8M175.8 2058.43H174.8V2059.87H175.8M174.8 2059.15H174.8V2061.15H175.8M175.8 2064.78H174.8V2066.35H175.8M175.8 2062.76H174.8V2065.56H174.8M174.8 2060.15H174.8V2064.16H174.8M175.8 2068.98H174.8V2070.26H175.8M175.8 2067.71H174.8V2069.62H174.8M175.8 2071.42H174.8V2072.58H175.8M174.8 2068.67H172.15V2072H174.8M174.8 2062.15H168.41V2070.34H172.15M169.88 2047.15H161.96V2066.25H168.41M175.8 2075.23H174.8V2076.36H175.8M175.8 2074.06H174.8V2075.79H174.8M175.8 2077.75H174.8V2079.28H175.8M174.8 2074.93H174.8V2078.52H174.8M175.8 2082.91H174.8V2084.31H175.8M175.8 2081.06H174.8V2083.61H174.8M174.8 2076.72H174.8V2082.34H174.8M175.8 2085.68H174.8V2087.06H175.8M175.8 2088.39H174.8V2089.55H175.8M174.8 2086.37H174.8V2088.97H174.8M174.8 2079.53H170.9V2087.67H174.8M161.96 2056.7H155.89V2083.6H170.9M130.42 2001.93H126.31V2070.15H155.89M122.6 1939.68H102.3V2036.04H126.31M175.8 2090.95H150.83V2092.54H175.8M150.83 2091.75H146.32V2093.93H175.8M175.8 2095.35H152.85V2096.56H175.8M152.85 2095.95H148.03V2098.14H175.8M146.32 2092.84H140.63V2097.05H148.03M175.8 2101.31H155.13V2103.02H175.8M175.8 2099.91H148.98V2102.17H155.13M175.8 2106.69H165.63V2107.86H175.8M165.63 2107.27H157.44V2108.98H175.8M175.8 2105.11H148.97V2108.12H157.44M148.98 2101.04H143.6V2106.62H148.97M140.63 2094.94H132.2V2103.83H143.6M175.8 2111.97H151.16V2113.09H175.8M151.16 2112.53H148.16V2114.83H175.8M175.8 2110.5H144.42V2113.68H148.16M175.8 2117.79H156.99V2119.22H175.8M175.8 2116.51H149.1V2118.51H156.99M144.42 2112.09H135.99V2117.51H149.1M132.2 2099.39H126.75V2114.8H135.99M175.8 2120.73H155.43V2122.5H175.8M155.43 2121.61H151.19V2124.27H175.8M175.8 2125.62H156.09V2126.9H175.8M175.8 2128.14H166.04V2129.74H175.8M166.04 2128.94H159.24V2131.38H175.8M156.09 2126.26H150.96V2130.16H159.24M151.19 2122.94H142.58V2128.21H150.96M175.8 2135.08H154.22V2137.12H175.8M175.8 2133.06H145.59V2136.1H154.22M175.8 2138.81H153.02V2140.29H175.8M145.59 2134.58H138.31V2139.55H153.02M175.8 2141.74H157.03V2143.16H175.8M157.03 2142.45H152.65V2144.7H175.8M175.8 2145.91H152.68V2147.18H175.8M152.65 2143.58H145.68V2146.55H152.68M175.8 2150.14H158.4V2151.45H175.8M175.8 2148.83H150.58V2150.8H158.4M175.8 2154.43H156.17V2155.71H175.8M175.8 2153.16H149.88V2155.07H156.17M150.58 2149.81H142.35V2154.12H149.88M175.8 2158.1H153.46V2159.33H175.8M175.8 2157.04H145.96V2158.71H153.46M142.35 2151.96H136.18V2157.88H145.96M145.68 2145.06H132V2154.92H136.18M138.31 2137.06H127.82V2149.99H132M142.58 2125.57H124.52V2143.53H127.82M126.75 2107.09H102.3V2134.55H124.52M175.8 2162.1H155.97V2163.37H175.8M175.8 2160.7H151.98V2162.74H155.97M175.8 2164.83H152.19V2166.25H175.8M151.98 2161.72H143.27V2165.54H152.19M175.8 2167.46H151.24V2168.73H175.8M175.8 2170.05H154.11V2171.15H175.8M154.11 2170.6H147.68V2172.45H175.8M151.24 2168.1H142.57V2171.52H147.68M143.27 2163.63H134.82V2169.81H142.57M175.8 2173.74H153.91V2174.91H175.8M175.8 2176.39H152.54V2177.69H175.8M153.91 2174.33H146.12V2177.04H152.54M175.8 2180.56H155.02V2181.78H175.8M175.8 2179.19H148.86V2181.17H155.02M175.8 2185.36H157.85V2187.03H175.8M175.8 2183.42H149.87V2186.2H157.85M175.8 2188.29H153.33V2189.72H175.8M149.87 2184.81H145.34V2189.01H153.33M148.86 2180.18H141.81V2186.91H145.34M146.12 2175.69H137.38V2183.54H141.81M134.82 2166.72H125.56V2179.61H137.38M175.8 2192.89H155.92V2194.28H175.8M175.8 2191.5H152.46V2193.59H155.92M175.8 2195.97H154.68V2197.12H175.8M152.46 2192.54H147.1V2196.54H154.68M175.8 2198.41H154.67V2199.6H175.8M154.67 2199H148.9V2201.05H175.8M147.1 2194.54H141.72V2200.03H148.9M175.8 2202.89H150.9V2204.55H175.8M150.9 2203.72H147.67V2206.12H175.8M141.72 2197.29H134.43V2204.92H147.67M175.8 2207.24H153.13V2208.5H175.8M153.13 2207.87H145.1V2210.06H175.8M175.8 2213.25H151.83V2214.79H175.8M175.8 2211.72H145.81V2214.02H151.83M145.1 2208.96H139.44V2212.87H145.81M175.8 2218.18H154.31V2219.39H175.8M175.8 2216.66H147.01V2218.78H154.31M175.8 2220.64H151.13V2222.24H175.8M147.01 2217.72H142.79V2221.44H151.13M139.44 2210.92H133.66V2219.58H142.79M175.8 2224.23H154.3V2225.67H175.8M175.8 2226.96H152.03V2228.79H175.8M154.3 2224.95H146.96V2227.87H152.03M175.8 2231.25H157.18V2232.49H175.8M175.8 2230.35H152.75V2231.87H157.18M175.8 2235.66H158.75V2237.36H175.8M175.8 2234.06H153.21V2236.51H158.75M152.75 2231.11H146.63V2235.28H153.21M146.96 2226.41H138.34V2233.2H146.63M175.8 2238.65H153.51V2239.99H175.8M175.8 2241.68H156.52V2242.91H175.8M156.52 2242.29H151.2V2244.16H175.8M153.51 2239.32H146.52V2243.23H151.2M138.34 2229.8H133.73V2241.27H146.52M133.66 2215.25H125.47V2235.54H133.73M134.43 2201.1H122.12V2225.39H125.47M125.56 2173.17H112.9V2213.25H122.12M175.8 2245.94H153V2247.36H175.8M153 2246.65H144.27V2248.85H175.8M175.8 2251.39H155.94V2252.61H175.8M175.8 2250.44H150.59V2252H155.94M144.27 2247.75H139.97V2251.22H150.59M175.8 2254.02H152.94V2255.22H175.8M175.8 2256.58H151.6V2257.79H175.8M152.94 2254.62H147.19V2257.18H151.6M139.97 2249.49H135.18V2255.9H147.19M175.8 2260.62H156.2V2261.86H175.8M175.8 2259.28H150.78V2261.24H156.2M175.8 2263.47H149.78V2265.01H175.8M150.78 2260.26H143.21V2264.24H149.78M175.8 2268.12H160.63V2269.34H175.8M160.63 2268.73H153.62V2271.2H175.8M175.8 2266.74H145.27V2269.96H153.62M143.21 2262.25H136.89V2268.35H145.27M175.8 2274.94H162.73V2276.43H175.8M175.8 2273.28H154.45V2275.69H162.73M175.8 2279.2H157.04V2280.53H175.8M175.8 2277.94H152.18V2279.86H157.04M154.45 2274.48H148.96V2278.9H152.18M175.8 2283.19H153.17V2284.45H175.8M175.8 2281.99H146.09V2283.82H153.17M148.96 2276.69H142.19V2282.91H146.09M175.8 2285.93H155.26V2287.19H175.8M175.8 2288.54H156.04V2290.05H175.8M155.26 2286.56H149.3V2289.29H156.04M142.19 2279.8H135.73V2287.93H149.3M136.89 2265.3H129.04V2283.86H135.73M135.18 2252.69H124.69V2274.58H129.04M175.8 2294.03H151.68V2296.06H175.8M175.8 2291.86H145.74V2295.05H151.68M175.8 2297.55H152.33V2298.92H175.8M152.33 2298.24H147.9V2300.63H175.8M145.74 2293.45H137.79V2299.44H147.9M175.8 2301.9H154.29V2303.07H175.8M175.8 2304.71H161.57V2305.99H175.8M175.8 2307.09H157.89V2308.42H175.8M161.57 2305.35H153.37V2307.76H157.89M154.29 2302.48H145.74V2306.55H153.37M175.8 2311.77H157.42V2313.04H175.8M175.8 2310.01H149.86V2312.4H157.42M175.8 2314.18H148.97V2315.67H175.8M149.86 2311.21H142.57V2314.92H148.97M145.74 2304.52H137.21V2313.07H142.57M137.79 2296.45H130.62V2308.79H137.21M175.8 2317.2H156.04V2318.44H175.8M156.04 2317.82H152.24V2319.51H175.8M175.8 2320.5H153.7V2321.94H175.8M175.8 2324.85H155.87V2326.07H175.8M175.8 2323.47H148.48V2325.46H155.87M153.7 2321.22H144.77V2324.46H148.48M152.24 2318.67H137.98V2322.84H144.77M175.8 2327.21H148.28V2329.01H175.8M175.8 2330.72H163.42V2332.29H175.8M175.8 2333.95H160.81V2335.23H175.8M163.42 2331.51H154.54V2334.59H160.81M175.8 2336.2H153.24V2337.73H175.8M154.54 2333.05H149.19V2336.96H153.24M148.28 2328.11H141.38V2335.01H149.19M137.98 2320.75H130.95V2331.56H141.38M175.8 2341.1H155.84V2342.3H175.8M155.84 2341.7H151.47V2343.86H175.8M175.8 2339.64H147.61V2342.78H151.47M175.8 2349.1H157.77V2350.36H175.8M175.8 2347.59H153.68V2349.73H157.77M175.8 2345.75H145.32V2348.66H153.68M147.61 2341.21H132.95V2347.21H145.32M130.95 2326.16H127.2V2344.21H132.95M130.62 2302.62H120.47V2335.18H127.2M124.69 2263.64H111.65V2318.9H120.47M112.9 2193.21H106.9V2291.27H111.65M102.3 2120.82H89.9V2242.24H106.9M102.3 1987.86H78.3V2181.53H89.9M83.6 1897.62H71.6V2084.7H78.3M46.9 1804.36H44.8V1991.16H71.6" stroke="#000" stroke-width="2" fill="none" stroke-linejoin="miter"/>
<polygon points="176.3,1582 163.92,1582 162.1,1584.98 161.33,1588.37 164.66,1591.71 158.2,1594.14 157.54,1596.94 160,1598.67 159.07,1600.66 162.85,1603.31 160.89,1605.24 157.29,1608.58 157.02,1610.4 158.29,1612.17 162.76,1613.93 161.18,1617.17 155.45,1619.1 160.5,1622.34 158.58,1625.77 161.01,1628.62 157.32,1632.01 155.71,1635.44 159.68,1637.54 161.27,1639.37 160.06,1641 162.28,1643.7 159.68,1646.56 155.97,1648.68 159.76,1651.14 156.73,1653.6 154.61,1655.22 156.31,1656.76 161.9,1659.95 159.15,1663.03 161.88,1665.69 160.51,1667.28 160.33,1670.69 154.51,1673.7 159.05,1677.09 157.58,1679.3 160.82,1682.35 155.28,1685.34 161.29,1688.56 160.8,1691.95 156.58,1694.14 158.69,1697.47 156.97,1700.82 158.8,1702.94 160.72,1704.8 155.74,1706.6 159.99,1710.09 153.25,1711.69 157.96,1714.26 156.4,1716.23 157.49,1719.38 160.75,1721.73 160.91,1725.06 154.25,1727.55 155.11,1729.31 155.9,1732.71 160.2,1735.78 159.82,1738.15 158.58,1741.34 152.7,1743.75 152.85,1746.95 156.89,1749.36 156.93,1752.32 157.54,1754.4 157.74,1756.19 152.81,1759.67 156.64,1762.42 160.07,1764.6 154.21,1766.64 157.73,1769.88 154.19,1772.95 155.1,1775.84 157.61,1778.86 158.28,1781.77 154.09,1784.24 158.12,1787.12 155,1790.51 160.29,1793.17 158.02,1795.77 155.92,1798.61 154,1801.75 156.44,1804.84 152.63,1807.63 155.95,1810.79 150.78,1813.97 149.48,1816.85 153.56,1820.26 156.79,1822.82 148.92,1825.99 151.13,1828.45 150.46,1831.39 149.78,1833.23 150.7,1835.89 150.92,1838.23 150.51,1841.28 156.69,1844.22 152.17,1846.04 154.32,1848.84 148.34,1851.72 148.91,1853.3 152.65,1855.25 148.03,1857.02 148.38,1858.88 143.37,1860.45 139.36,1862.71 143.17,1865.39 144.27,1868.7 135.06,1871.01 134.35,1873.33 122.56,1876.49 113.24,1878.07 111.5,1879.76 114.44,1881.93 116.91,1885.35 122.94,1887.69 137.82,1890.47 137.43,1892.26 132.52,1894.89 139.11,1898.32 135.49,1900.52 147.71,1902.03 140.98,1904.66 141.33,1906.44 145.88,1909.72 148.58,1912.09 139.19,1914.17 140.14,1916.43 145.93,1919.76 141.81,1921.77 149.49,1924.27 143.43,1926.41 152.28,1928.89 154.49,1931.34 151.04,1934.09 147.41,1936.17 156.08,1939.33 153.35,1941.89 148.01,1945.26 153.7,1947.25 146.03,1949.06 150.26,1951.15 150.02,1953.6 149.14,1956.31 149.08,1958.04 151.59,1960.14 154.18,1962.32 152.59,1964.88 149.83,1967.1 157.25,1969.78 153.07,1971.78 148.9,1975.12 157.84,1977.71 153.87,1980.77 151.25,1983.42 153.64,1986.18 154.77,1989.5 150.39,1991.79 155.86,1993.68 158.23,1996.84 152.44,2000.01 156.51,2002.38 151.05,2005.44 155.21,2007.23 155.3,2009.82 158.59,2011.99 153.04,2014.66 158.3,2016.29 153.77,2019.43 160.82,2022.26 153.78,2025.21 156.93,2028.7 156.31,2030.3 158.28,2032.24 158.72,2035.64 161.99,2037.41 163.64,2040.75 162.62,2043.47 161.84,2045.29 165.17,2046.88 165.84,2049.14 163.56,2050.75 162.87,2053.74 165.49,2055.51 165.27,2057.64 164.53,2060.11 168.66,2062.36 168.92,2065.26 168.41,2068.02 169.18,2071.34 170.68,2074.08 171.33,2076.69 171.58,2079.69 172.49,2081.46 172.26,2083.7 172.78,2085.56 174.1,2088.37 136.93,2091.2 130.62,2092.95 129.68,2094.93 142.79,2097.39 150.82,2100.48 151.9,2103.43 141.47,2105.23 152.14,2108.1 144.53,2109.83 147.91,2112.66 150.44,2114.44 155,2116.65 151.6,2118.81 154.38,2121.01 150.44,2122.78 151.42,2125.58 151.6,2127.95 154.48,2130.48 153.24,2133.13 159.06,2135.42 158.16,2136.99 152.09,2138.56 153.32,2141.03 155.93,2142.53 154.71,2145.81 156.13,2148.16 158.9,2149.86 157.03,2151.68 152.7,2153.95 158.19,2155.76 159.04,2157.81 158.46,2159.89 160.26,2162.35 157.46,2165.7 154.85,2169.07 156.77,2171.92 159.84,2175.31 158.46,2178.15 154.88,2181 159.33,2182.83 159.13,2184.38 157.76,2186.03 158.16,2189.48 157.37,2191.6 155.26,2193.67 159.99,2196.61 155.91,2198.59 156.19,2201.97 153.55,2204.33 160.96,2205.84 158.17,2208.9 157.07,2210.49 157.34,2213.97 160.78,2216.17 154.33,2217.81 154.07,2220.29 159.63,2221.9 158.41,2223.5 159.56,2225.12 159.18,2227.44 161.33,2229.04 160.23,2232.48 158.48,2235 161.03,2237.56 160.86,2239.69 154.45,2242.27 154.99,2244.97 161.64,2246.9 157.96,2249.48 158.85,2252.12 156.14,2254.87 159.45,2258.2 155.42,2260.6 161,2262.54 161.23,2264.67 155.55,2267.71 160.95,2269.84 160.07,2271.5 158.65,2273.17 160.1,2275.82 156.59,2277.45 160.48,2279.04 159.16,2281.12 158.81,2282.81 156.27,2284.94 155.2,2287.55 156.28,2290.36 158.75,2293.01 157.14,2296.14 156.63,2299.55 160.32,2302.46 159.68,2305.58 162.15,2307.34 160.82,2309.18 160.85,2312.03 157.53,2313.66 162.98,2316.27 162.36,2317.87 157.41,2320.09 159.41,2323.49 160.81,2325.45 161.64,2327.67 160.06,2329.2 159.37,2332.35 160.79,2334.04 159.79,2335.89 158.53,2338.28 164.39,2341.37 160.76,2343.5 164.54,2345.92 164.09,2348.31 176.3,2351" fill="#000"/>
<defs><linearGradient id="cb" x1="0" y1="0" x2="0" y2="1">
<stop offset="0.0000" stop-color="#ff0000"/>
<stop offset="0.1020" stop-color="#ff0000"/>
<stop offset="0.5040" stop-color="#ffffff"/>
<stop offset="0.9060" stop-color="#000080"/>
<stop offset="1.0000" stop-color="#000080"/>
</linearGradient></defs>
<rect x="905" y="1582.8" width="25" height="374.4" fill="url(#cb)"/>
<text x="940.2" y="1639.3" font-size="23">2</text>
<text x="940.2" y="1709.6" font-size="23">1</text>
<text x="940.2" y="1780.4" font-size="23">0</text>
<text x="940.2" y="1850.4" font-size="23">−1</text>
<text x="940.2" y="1920.7" font-size="23">−2</text>
<text transform="translate(989.3 1698.8) rotate(-90)" textLength="83" lengthAdjust="spacing">Z-socre</text>
<text transform="translate(205.25 2360.5) rotate(90)" fill="#231815">Control−3</text>
<text transform="translate(284.95 2360.5) rotate(90)" fill="#231815">Control−1</text>
<text transform="translate(364.65 2360.5) rotate(90)" fill="#231815">Control−2</text>
<text transform="translate(444.35 2360.5) rotate(90)" fill="#231815">DSS+<tspan font-style="italic">Kp</tspan>−3</text>
<text transform="translate(524.05 2360.5) rotate(90)" fill="#231815">DSS+<tspan font-style="italic">Kp</tspan>−2</text>
<text transform="translate(603.75 2360.5) rotate(90)" fill="#231815">DSS+<tspan font-style="italic">Kp</tspan>−1</text>
<text transform="translate(683.45 2360.5) rotate(90)" fill="#231815">DSS−3</text>
<text transform="translate(763.15 2360.5) rotate(90)" fill="#231815">DSS−2</text>
<text transform="translate(842.85 2360.5) rotate(90)" fill="#231815">DSS−1</text>
</g>
<g id="pe">
<text transform="translate(1062 1468.8) scale(1.05 1)" font-size="46" font-weight="bold">e</text>
<rect x="1239.5" y="1653.5" width="23.5" height="262.25" fill="#adb2e5" stroke="#7a82d8" stroke-width="2"/>
<rect x="1349.6" y="1788" width="23.8" height="127.75" fill="#adb2e5" stroke="#7a82d8" stroke-width="2"/>
<rect x="1230" y="1815.5" width="160" height="24.5" fill="#fff"/>
<rect x="1211.5" y="1901" width="24.4" height="14.75" fill="#62aeb6" stroke="#15889a" stroke-width="2"/>
<rect x="1266.7" y="1893.5" width="23.7" height="22.25" fill="#ecd4c4" stroke="#e3c2ad" stroke-width="2"/>
<rect x="1321.5" y="1901" width="24.5" height="14.75" fill="#62aeb6" stroke="#15889a" stroke-width="2"/>
<rect x="1376.7" y="1904.25" width="24.1" height="11.5" fill="#ecd4c4" stroke="#e3c2ad" stroke-width="2"/>
<line x1="1251.3" y1="1635.5" x2="1251.3" y2="1652.5" stroke="#7a82d8" stroke-width="2"/>
<line x1="1244.8" y1="1635.5" x2="1257.8" y2="1635.5" stroke="#7a82d8" stroke-width="2"/>
<line x1="1361.3" y1="1768" x2="1361.3" y2="1787" stroke="#7a82d8" stroke-width="2"/>
<line x1="1353.8" y1="1768" x2="1368.8" y2="1768" stroke="#7a82d8" stroke-width="2"/>
<line x1="1223.7" y1="1892" x2="1223.7" y2="1900" stroke="#15889a" stroke-width="2"/>
<line x1="1218.7" y1="1892" x2="1228.7" y2="1892" stroke="#15889a" stroke-width="2"/>
<line x1="1333.75" y1="1888" x2="1333.75" y2="1900" stroke="#15889a" stroke-width="2"/>
<line x1="1328.75" y1="1888" x2="1338.75" y2="1888" stroke="#15889a" stroke-width="2"/>
<line x1="1278.6" y1="1888" x2="1278.6" y2="1892.5" stroke="#e3c2ad" stroke-width="2"/>
<line x1="1273.6" y1="1888" x2="1283.6" y2="1888" stroke="#e3c2ad" stroke-width="2"/>
<line x1="1388.75" y1="1897" x2="1388.75" y2="1903.25" stroke="#e3c2ad" stroke-width="2"/>
<line x1="1383.75" y1="1897" x2="1393.75" y2="1897" stroke="#e3c2ad" stroke-width="2"/>
<line x1="1196.25" y1="1584.55" x2="1196.25" y2="1814.25" stroke="#000" stroke-width="2.4"/>
<line x1="1190.5" y1="1814.25" x2="1201.5" y2="1814.25" stroke="#000" stroke-width="2.4"/>
<line x1="1196.25" y1="1841.25" x2="1196.25" y2="1915.75" stroke="#000" stroke-width="2.4"/>
<line x1="1190.5" y1="1841.25" x2="1201.5" y2="1841.25" stroke="#000" stroke-width="2.4"/>
<line x1="1184.5" y1="1915.75" x2="1416.25" y2="1915.75" stroke="#000" stroke-width="2.4"/>
<line x1="1184.5" y1="1585.75" x2="1196.25" y2="1585.75" stroke="#000" stroke-width="2.4"/>
<text x="1172.3" y="1594.85" text-anchor="end">40</text>
<line x1="1184.5" y1="1651.25" x2="1196.25" y2="1651.25" stroke="#000" stroke-width="2.4"/>
<text x="1172.3" y="1660.35" text-anchor="end">30</text>
<line x1="1184.5" y1="1716.75" x2="1196.25" y2="1716.75" stroke="#000" stroke-width="2.4"/>
<text x="1172.3" y="1725.85" text-anchor="end">20</text>
<line x1="1184.5" y1="1781.75" x2="1196.25" y2="1781.75" stroke="#000" stroke-width="2.4"/>
<text x="1172.3" y="1790.85" text-anchor="end">10</text>
<text x="1172.3" y="1850.35" text-anchor="end">4</text>
<line x1="1184.5" y1="1878.75" x2="1196.25" y2="1878.75" stroke="#000" stroke-width="2.4"/>
<text x="1172.3" y="1887.85" text-anchor="end">2</text>
<line x1="1184.5" y1="1915.75" x2="1196.25" y2="1915.75" stroke="#000" stroke-width="2.4"/>
<text x="1172.3" y="1924.85" text-anchor="end">0</text>
<line x1="1251.25" y1="1915.75" x2="1251.25" y2="1926.5" stroke="#000" stroke-width="2.4"/>
<line x1="1361.25" y1="1915.75" x2="1361.25" y2="1926.5" stroke="#000" stroke-width="2.4"/>
<text transform="translate(1133.8 1759) rotate(-90)" text-anchor="middle">Relative mRNA level</text>
<text transform="translate(1263.5 1942.5) rotate(-45)" text-anchor="end" font-style="italic">Il1b</text>
<text transform="translate(1373 1942.5) rotate(-45)" text-anchor="end" font-style="italic">Il6</text>
<circle cx="1214.5" cy="1902" r="4.5" fill="#fff" stroke="#15889a" stroke-width="2.6"/>
<circle cx="1223.75" cy="1892.5" r="4.5" fill="#fff" stroke="#15889a" stroke-width="2.6"/>
<circle cx="1232.5" cy="1897.5" r="4.5" fill="#fff" stroke="#15889a" stroke-width="2.6"/>
<circle cx="1325" cy="1903.25" r="4.5" fill="#fff" stroke="#15889a" stroke-width="2.6"/>
<circle cx="1333.75" cy="1887.5" r="4.5" fill="#fff" stroke="#15889a" stroke-width="2.6"/>
<circle cx="1342.5" cy="1901.25" r="4.5" fill="#fff" stroke="#15889a" stroke-width="2.6"/>
<circle cx="1242" cy="1638.25" r="4.5" fill="#fff" stroke="#7a82d8" stroke-width="2.6"/>
<circle cx="1260" cy="1647" r="4.5" fill="#fff" stroke="#7a82d8" stroke-width="2.6"/>
<circle cx="1251.25" cy="1669.25" r="4.5" fill="#fff" stroke="#7a82d8" stroke-width="2.6"/>
<circle cx="1352.5" cy="1775.5" r="4.5" fill="#fff" stroke="#7a82d8" stroke-width="2.6"/>
<circle cx="1370" cy="1775.5" r="4.5" fill="#fff" stroke="#7a82d8" stroke-width="2.6"/>
<circle cx="1361.25" cy="1806.75" r="4.5" fill="#fff" stroke="#7a82d8" stroke-width="2.6"/>
<circle cx="1269.5" cy="1890" r="4.5" fill="#fff" stroke="#e3c2ad" stroke-width="2.6"/>
<circle cx="1278.75" cy="1887.5" r="4.5" fill="#fff" stroke="#e3c2ad" stroke-width="2.6"/>
<circle cx="1287.5" cy="1888" r="4.5" fill="#fff" stroke="#e3c2ad" stroke-width="2.6"/>
<circle cx="1379.5" cy="1901.75" r="4.5" fill="#fff" stroke="#e3c2ad" stroke-width="2.6"/>
<circle cx="1388.75" cy="1896.25" r="4.5" fill="#fff" stroke="#e3c2ad" stroke-width="2.6"/>
<circle cx="1397.5" cy="1898.75" r="4.5" fill="#fff" stroke="#e3c2ad" stroke-width="2.6"/>
<text x="1215.75" y="1533" fill="#231815" textLength="129.5" lengthAdjust="spacing" font-style="italic">p=3.49E-05</text>
<path d="M1253.6 1559.5V1551.2H1290.6V1559.5" stroke="#111" stroke-width="2.7" fill="none"/>
<text x="1213" y="1594.25" fill="#231815" textLength="129.5" lengthAdjust="spacing" font-style="italic">p=3.34E-05</text>
<path d="M1213.2 1621V1613.2H1250.2V1621" stroke="#111" stroke-width="2.7" fill="none"/>
<text x="1331.25" y="1663.75" fill="#231815" textLength="90" lengthAdjust="spacing" font-style="italic">p=0.006</text>
<path d="M1364.4 1685.7V1676.8H1400.8V1685.7" stroke="#111" stroke-width="2.7" fill="none"/>
<text x="1306.25" y="1723.75" fill="#231815" textLength="88.7" lengthAdjust="spacing" font-style="italic">p=0.007</text>
<path d="M1324.2 1747.2V1739.2H1360V1747.2" stroke="#111" stroke-width="2.7" fill="none"/>
<rect x="1475.5" y="1584.75" width="35.5" height="19" fill="#62aeb6" stroke="#15889a" stroke-width="2"/>
<text x="1532" y="1602" font-size="23.7" fill="#231815">Control</text>
<rect x="1475.5" y="1631" width="35.5" height="19" fill="#adb2e5" stroke="#7a82d8" stroke-width="2"/>
<text x="1532" y="1648" font-size="23.7" fill="#231815">DSS</text>
<rect x="1475.5" y="1677.25" width="35.5" height="19" fill="#ecd4c4" stroke="#e3c2ad" stroke-width="2"/>
<text x="1532" y="1695" font-size="23.7" fill="#231815">DSS+<tspan font-style="italic">Kp</tspan></text>
</g>
</svg></body></html>
